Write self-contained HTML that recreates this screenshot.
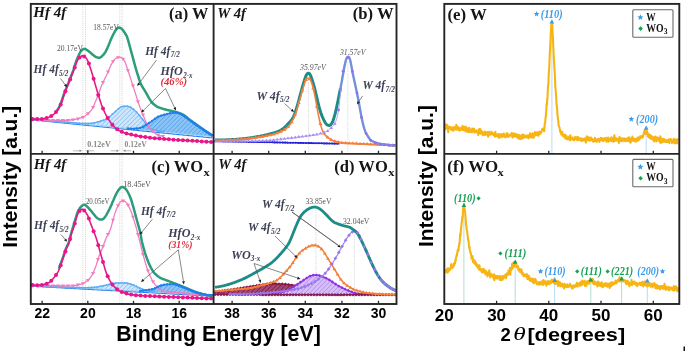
<!DOCTYPE html>
<html><head><meta charset="utf-8"><style>
html,body{margin:0;padding:0;background:#fff;}
body{width:685px;height:351px;overflow:hidden;}
svg{display:block;filter:blur(0.4px);}
</style></head><body>
<svg width="685" height="351" viewBox="0 0 685 351">
<rect width="685" height="351" fill="#fff"/>
<defs>
<pattern id="hb1" patternUnits="userSpaceOnUse" width="3.2" height="3.2" patternTransform="rotate(45)"><rect width="3.2" height="3.2" fill="#cfe6fb"/><line x1="0" y1="0" x2="0" y2="3.2" stroke="#6fb2f0" stroke-width="1"/></pattern>
<pattern id="hb2" patternUnits="userSpaceOnUse" width="3.2" height="3.2" patternTransform="rotate(45)"><rect width="3.2" height="3.2" fill="#8cc4f6"/><line x1="0" y1="0" x2="0" y2="3.2" stroke="#3b93ee" stroke-width="1"/></pattern>
<pattern id="hm" patternUnits="userSpaceOnUse" width="3.2" height="3.2" patternTransform="rotate(45)"><rect width="3.2" height="3.2" fill="#a24a70"/><line x1="0" y1="0" x2="0" y2="3.2" stroke="#7a1240" stroke-width="1.3"/></pattern>
<pattern id="hp" patternUnits="userSpaceOnUse" width="3.2" height="3.2" patternTransform="rotate(45)"><rect width="3.2" height="3.2" fill="#d6c0f5"/><line x1="0" y1="0" x2="0" y2="3.2" stroke="#a57ae8" stroke-width="1"/></pattern>
</defs>
<line x1="82.8" y1="5" x2="82.8" y2="303" stroke="#c9c9c9" stroke-width="0.7" stroke-dasharray="1.2,1"/>
<line x1="85.5" y1="5" x2="85.5" y2="303" stroke="#c9c9c9" stroke-width="0.7" stroke-dasharray="1.2,1"/>
<line x1="119.8" y1="5" x2="119.8" y2="303" stroke="#c9c9c9" stroke-width="0.7" stroke-dasharray="1.2,1"/>
<line x1="122.1" y1="5" x2="122.1" y2="303" stroke="#c9c9c9" stroke-width="0.7" stroke-dasharray="1.2,1"/>
<path d="M31.5,119.2 32.0,119.3 32.5,119.3 33.0,119.4 33.5,119.4 34.0,119.5 34.5,119.5 35.0,119.6 35.5,119.6 36.0,119.7 36.5,119.7 37.0,119.7 37.5,119.8 38.0,119.8 38.5,119.9 39.0,119.9 39.5,119.9 40.0,120.0 40.5,120.0 41.0,120.1 41.5,120.1 42.0,120.1 42.5,120.2 43.0,120.2 43.5,120.3 44.0,120.3 44.5,120.3 45.0,120.4 45.5,120.4 46.0,120.5 46.5,120.5 47.0,120.5 47.5,120.6 48.0,120.6 48.5,120.7 49.0,120.7 49.5,120.7 50.0,120.8 50.5,120.8 51.0,120.9 51.5,120.9 52.0,120.9 52.5,121.0 53.0,121.0 53.5,121.1 54.0,121.1 54.5,121.2 55.0,121.2 55.5,121.2 56.0,121.3 56.5,121.3 57.0,121.4 57.5,121.4 58.0,121.4 58.5,121.5 59.0,121.5 59.5,121.6 60.0,121.6 60.5,121.6 61.0,121.7 61.5,121.7 62.0,121.8 62.5,121.8 63.0,121.8 63.5,121.9 64.0,121.9 64.5,122.0 65.0,122.0 65.5,122.1 66.0,122.1 66.5,122.1 67.0,122.2 67.5,122.2 68.0,122.3 68.5,122.3 69.0,122.4 69.5,122.4 70.0,122.4 70.5,122.5 71.0,122.5 71.5,122.6 72.0,122.6 72.5,122.7 73.0,122.7 73.5,122.7 74.0,122.8 74.5,122.8 75.0,122.9 75.5,122.9 76.0,123.0 76.5,123.0 77.0,123.0 77.5,123.1 78.0,123.1 78.5,123.2 79.0,123.2 79.5,123.3 80.0,123.3 80.5,123.3 81.0,123.4 81.5,123.4 82.0,123.4 82.5,123.5 83.0,123.5 83.5,123.5 84.0,123.5 84.5,123.5 85.0,123.5 85.5,123.5 86.0,123.5 86.5,123.5 87.0,123.5 87.5,123.5 88.0,123.5 88.5,123.5 89.0,123.4 89.5,123.4 90.0,123.4 90.5,123.4 91.0,123.3 91.5,123.3 92.0,123.2 92.5,123.2 93.0,123.1 93.5,123.0 94.0,122.9 94.5,122.8 95.0,122.7 95.5,122.6 96.0,122.4 96.5,122.3 97.0,122.2 97.5,122.0 98.0,121.9 98.5,121.7 99.0,121.6 99.5,121.4 100.0,121.3 100.5,121.2 101.0,121.0 101.5,120.8 102.0,120.7 102.5,120.5 103.0,120.4 103.5,120.2 104.0,120.0 104.5,119.8 105.0,119.6 105.5,119.3 106.0,119.1 106.5,118.8 107.0,118.5 107.5,118.2 108.0,117.9 108.5,117.5 109.0,117.2 109.5,116.8 110.0,116.3 110.5,115.9 111.0,115.4 111.5,115.0 112.0,114.5 112.5,114.1 113.0,113.6 113.5,113.1 114.0,112.7 114.5,112.2 115.0,111.8 115.5,111.4 116.0,110.9 116.5,110.5 117.0,110.1 117.5,109.6 118.0,109.2 118.5,108.8 119.0,108.4 119.5,108.0 120.0,107.6 120.5,107.2 121.0,107.0 121.5,106.7 122.0,106.6 122.5,106.4 123.0,106.3 123.5,106.3 124.0,106.2 124.5,106.2 125.0,106.2 125.5,106.2 126.0,106.2 126.5,106.2 127.0,106.3 127.5,106.3 128.0,106.4 128.5,106.6 129.0,106.7 129.5,106.9 130.0,107.1 130.5,107.3 131.0,107.6 131.5,107.9 132.0,108.2 132.5,108.6 133.0,108.9 133.5,109.3 134.0,109.7 134.5,110.1 135.0,110.6 135.5,111.1 136.0,111.5 136.5,112.1 137.0,112.6 137.5,113.2 138.0,113.7 138.5,114.3 139.0,114.9 139.5,115.5 140.0,116.1 140.5,116.7 141.0,117.3 141.5,117.9 142.0,118.5 142.5,119.2 143.0,119.8 143.5,120.5 144.0,121.2 144.5,121.9 145.0,122.6 145.5,123.4 146.0,124.1 146.5,124.8 147.0,125.4 147.5,126.0 148.0,126.6 148.5,127.1 149.0,127.6 149.5,128.0 150.0,128.3 150.5,128.6 151.0,128.8 151.5,129.1 152.0,129.3 152.5,129.5 153.0,129.7 153.5,129.8 154.0,130.0 154.5,130.1 155.0,130.2 155.5,130.3 156.0,130.4 156.5,130.5 157.0,130.6 157.5,130.7 158.0,130.8 158.5,130.9 159.0,131.0 159.5,131.1 160.0,131.1 160.5,131.2 161.0,131.3 161.5,131.3 162.0,131.4 162.5,131.5 163.0,131.5 163.5,131.5 164.0,131.6 164.5,131.6 165.0,131.6 L165.00,132.01 L164.50,131.96 L164.00,131.92 L163.50,131.87 L163.00,131.82 L162.50,131.77 L162.00,131.72 L161.50,131.68 L161.00,131.63 L160.50,131.58 L160.00,131.53 L159.50,131.49 L159.00,131.44 L158.50,131.39 L158.00,131.34 L157.50,131.29 L157.00,131.25 L156.50,131.20 L156.00,131.15 L155.50,131.10 L155.00,131.05 L154.50,131.01 L154.00,130.96 L153.50,130.91 L153.00,130.86 L152.50,130.82 L152.00,130.77 L151.50,130.72 L151.00,130.67 L150.50,130.62 L150.00,130.58 L149.50,130.53 L149.00,130.48 L148.50,130.43 L148.00,130.39 L147.50,130.34 L147.00,130.29 L146.50,130.24 L146.00,130.19 L145.50,130.15 L145.00,130.10 L144.50,130.05 L144.00,130.00 L143.50,129.96 L143.00,129.91 L142.50,129.86 L142.00,129.81 L141.50,129.76 L141.00,129.72 L140.50,129.67 L140.00,129.62 L139.50,129.57 L139.00,129.53 L138.50,129.48 L138.00,129.43 L137.50,129.38 L137.00,129.33 L136.50,129.29 L136.00,129.24 L135.50,129.19 L135.00,129.14 L134.50,129.10 L134.00,129.05 L133.50,129.00 L133.00,128.95 L132.50,128.90 L132.00,128.86 L131.50,128.81 L131.00,128.76 L130.50,128.71 L130.00,128.66 L129.50,128.62 L129.00,128.57 L128.50,128.52 L128.00,128.47 L127.50,128.43 L127.00,128.38 L126.50,128.33 L126.00,128.28 L125.50,128.23 L125.00,128.19 L124.50,128.14 L124.00,128.09 L123.50,128.04 L123.00,128.00 L122.50,127.95 L122.00,127.90 L121.50,127.85 L121.00,127.80 L120.50,127.76 L120.00,127.71 L119.50,127.66 L119.00,127.61 L118.50,127.57 L118.00,127.52 L117.50,127.47 L117.00,127.42 L116.50,127.37 L116.00,127.33 L115.50,127.28 L115.00,127.23 L114.50,127.18 L114.00,127.14 L113.50,127.09 L113.00,127.04 L112.50,126.99 L112.00,126.94 L111.50,126.90 L111.00,126.85 L110.50,126.80 L110.00,126.75 L109.50,126.70 L109.00,126.66 L108.50,126.61 L108.00,126.56 L107.50,126.51 L107.00,126.47 L106.50,126.42 L106.00,126.37 L105.50,126.32 L105.00,126.27 L104.50,126.23 L104.00,126.18 L103.50,126.13 L103.00,126.08 L102.50,126.04 L102.00,125.99 L101.50,125.94 L101.00,125.89 L100.50,125.84 L100.00,125.80 L99.50,125.75 L99.00,125.70 L98.50,125.65 L98.00,125.61 L97.50,125.56 L97.00,125.51 L96.50,125.46 L96.00,125.41 L95.50,125.37 L95.00,125.32 L94.50,125.27 L94.00,125.22 L93.50,125.18 L93.00,125.13 L92.50,125.08 L92.00,125.03 L91.50,124.98 L91.00,124.94 L90.50,124.89 L90.00,124.84 L89.50,124.79 L89.00,124.75 L88.50,124.70 L88.00,124.65 L87.50,124.60 L87.00,124.55 L86.50,124.51 L86.00,124.46 L85.50,124.41 L85.00,124.36 L84.50,124.31 L84.00,124.27 L83.50,124.22 L83.00,124.17 L82.50,124.12 L82.00,124.08 L81.50,124.03 L81.00,123.98 L80.50,123.93 L80.00,123.88 L79.50,123.84 L79.00,123.79 L78.50,123.74 L78.00,123.69 L77.50,123.65 L77.00,123.60 L76.50,123.55 L76.00,123.50 L75.50,123.45 L75.00,123.41 L74.50,123.36 L74.00,123.31 L73.50,123.26 L73.00,123.22 L72.50,123.17 L72.00,123.12 L71.50,123.07 L71.00,123.02 L70.50,122.98 L70.00,122.93 L69.50,122.88 L69.00,122.83 L68.50,122.79 L68.00,122.74 L67.50,122.69 L67.00,122.64 L66.50,122.59 L66.00,122.55 L65.50,122.50 L65.00,122.45 L64.50,122.40 L64.00,122.35 L63.50,122.31 L63.00,122.26 L62.50,122.21 L62.00,122.16 L61.50,122.12 L61.00,122.07 L60.50,122.02 L60.00,121.97 L59.50,121.92 L59.00,121.88 L58.50,121.83 L58.00,121.78 L57.50,121.73 L57.00,121.69 L56.50,121.64 L56.00,121.59 L55.50,121.54 L55.00,121.49 L54.50,121.45 L54.00,121.40 L53.50,121.35 L53.00,121.30 L52.50,121.26 L52.00,121.21 L51.50,121.16 L51.00,121.11 L50.50,121.06 L50.00,121.02 L49.50,120.97 L49.00,120.92 L48.50,120.87 L48.00,120.83 L47.50,120.78 L47.00,120.73 L46.50,120.68 L46.00,120.63 L45.50,120.59 L45.00,120.54 L44.50,120.49 L44.00,120.44 L43.50,120.40 L43.00,120.35 L42.50,120.30 L42.00,120.25 L41.50,120.20 L41.00,120.16 L40.50,120.11 L40.00,120.06 L39.50,120.01 L39.00,119.96 L38.50,119.92 L38.00,119.87 L37.50,119.82 L37.00,119.77 L36.50,119.73 L36.00,119.68 L35.50,119.63 L35.00,119.58 L34.50,119.53 L34.00,119.49 L33.50,119.44 L33.00,119.39 L32.50,119.34 L32.00,119.30 L31.50,119.25Z" fill="url(#hb1)"/>
<path d="M128.0,128.4 128.5,128.5 129.0,128.5 129.5,128.6 130.0,128.6 130.5,128.6 131.0,128.7 131.5,128.7 132.0,128.7 132.5,128.7 133.0,128.7 133.5,128.7 134.0,128.7 134.5,128.7 135.0,128.7 135.5,128.6 136.0,128.6 136.5,128.6 137.0,128.5 137.5,128.5 138.0,128.4 138.5,128.3 139.0,128.2 139.5,128.1 140.0,127.9 140.5,127.8 141.0,127.6 141.5,127.4 142.0,127.2 142.5,126.9 143.0,126.7 143.5,126.4 144.0,126.1 144.5,125.8 145.0,125.5 145.5,125.2 146.0,124.9 146.5,124.6 147.0,124.3 147.5,124.0 148.0,123.6 148.5,123.3 149.0,123.0 149.5,122.7 150.0,122.3 150.5,122.0 151.0,121.7 151.5,121.3 152.0,121.0 152.5,120.6 153.0,120.2 153.5,119.9 154.0,119.5 154.5,119.1 155.0,118.7 155.5,118.4 156.0,118.0 156.5,117.7 157.0,117.4 157.5,117.1 158.0,116.8 158.5,116.6 159.0,116.4 159.5,116.2 160.0,116.0 160.5,115.8 161.0,115.6 161.5,115.5 162.0,115.4 162.5,115.2 163.0,115.1 163.5,115.0 164.0,114.8 164.5,114.7 165.0,114.5 165.5,114.4 166.0,114.3 166.5,114.1 167.0,114.0 167.5,113.9 168.0,113.8 168.5,113.6 169.0,113.5 169.5,113.4 170.0,113.3 170.5,113.2 171.0,113.1 171.5,113.0 172.0,112.9 172.5,112.8 173.0,112.8 173.5,112.7 174.0,112.6 174.5,112.6 175.0,112.6 175.5,112.5 176.0,112.5 176.5,112.6 177.0,112.6 177.5,112.7 178.0,112.8 178.5,113.0 179.0,113.1 179.5,113.3 180.0,113.6 180.5,113.9 181.0,114.2 181.5,114.5 182.0,114.8 182.5,115.1 183.0,115.4 183.5,115.7 184.0,116.0 184.5,116.4 185.0,116.7 185.5,117.1 186.0,117.4 186.5,117.8 187.0,118.1 187.5,118.5 188.0,118.9 188.5,119.2 189.0,119.6 189.5,120.0 190.0,120.3 190.5,120.7 191.0,121.1 191.5,121.4 192.0,121.8 192.5,122.2 193.0,122.6 193.5,122.9 194.0,123.3 194.5,123.7 195.0,124.0 195.5,124.4 196.0,124.7 196.5,125.1 197.0,125.4 197.5,125.8 198.0,126.1 198.5,126.5 199.0,126.8 199.5,127.1 200.0,127.5 200.5,127.8 201.0,128.2 201.5,128.5 202.0,128.8 202.5,129.2 203.0,129.5 203.5,129.8 204.0,130.2 204.5,130.5 205.0,130.8 205.5,131.1 206.0,131.5 206.5,131.8 207.0,132.1 207.5,132.4 208.0,132.7 208.5,133.1 209.0,133.4 209.5,133.7 210.0,134.0 210.5,134.3 211.0,134.6 211.5,134.9 212.0,135.2 212.5,135.5 L212.50,136.55 L212.00,136.50 L211.50,136.46 L211.00,136.41 L210.50,136.36 L210.00,136.31 L209.50,136.27 L209.00,136.22 L208.50,136.17 L208.00,136.12 L207.50,136.07 L207.00,136.03 L206.50,135.98 L206.00,135.93 L205.50,135.88 L205.00,135.84 L204.50,135.79 L204.00,135.74 L203.50,135.69 L203.00,135.64 L202.50,135.60 L202.00,135.55 L201.50,135.50 L201.00,135.45 L200.50,135.40 L200.00,135.36 L199.50,135.31 L199.00,135.26 L198.50,135.21 L198.00,135.17 L197.50,135.12 L197.00,135.07 L196.50,135.02 L196.00,134.97 L195.50,134.93 L195.00,134.88 L194.50,134.83 L194.00,134.78 L193.50,134.74 L193.00,134.69 L192.50,134.64 L192.00,134.59 L191.50,134.54 L191.00,134.50 L190.50,134.45 L190.00,134.40 L189.50,134.35 L189.00,134.31 L188.50,134.26 L188.00,134.21 L187.50,134.16 L187.00,134.11 L186.50,134.07 L186.00,134.02 L185.50,133.97 L185.00,133.92 L184.50,133.88 L184.00,133.83 L183.50,133.78 L183.00,133.73 L182.50,133.68 L182.00,133.64 L181.50,133.59 L181.00,133.54 L180.50,133.49 L180.00,133.45 L179.50,133.40 L179.00,133.35 L178.50,133.30 L178.00,133.25 L177.50,133.21 L177.00,133.16 L176.50,133.11 L176.00,133.06 L175.50,133.01 L175.00,132.97 L174.50,132.92 L174.00,132.87 L173.50,132.82 L173.00,132.78 L172.50,132.73 L172.00,132.68 L171.50,132.63 L171.00,132.58 L170.50,132.54 L170.00,132.49 L169.50,132.44 L169.00,132.39 L168.50,132.35 L168.00,132.30 L167.50,132.25 L167.00,132.20 L166.50,132.15 L166.00,132.11 L165.50,132.06 L165.00,132.01 L164.50,131.96 L164.00,131.92 L163.50,131.87 L163.00,131.82 L162.50,131.77 L162.00,131.72 L161.50,131.68 L161.00,131.63 L160.50,131.58 L160.00,131.53 L159.50,131.49 L159.00,131.44 L158.50,131.39 L158.00,131.34 L157.50,131.29 L157.00,131.25 L156.50,131.20 L156.00,131.15 L155.50,131.10 L155.00,131.05 L154.50,131.01 L154.00,130.96 L153.50,130.91 L153.00,130.86 L152.50,130.82 L152.00,130.77 L151.50,130.72 L151.00,130.67 L150.50,130.62 L150.00,130.58 L149.50,130.53 L149.00,130.48 L148.50,130.43 L148.00,130.39 L147.50,130.34 L147.00,130.29 L146.50,130.24 L146.00,130.19 L145.50,130.15 L145.00,130.10 L144.50,130.05 L144.00,130.00 L143.50,129.96 L143.00,129.91 L142.50,129.86 L142.00,129.81 L141.50,129.76 L141.00,129.72 L140.50,129.67 L140.00,129.62 L139.50,129.57 L139.00,129.53 L138.50,129.48 L138.00,129.43 L137.50,129.38 L137.00,129.33 L136.50,129.29 L136.00,129.24 L135.50,129.19 L135.00,129.14 L134.50,129.10 L134.00,129.05 L133.50,129.00 L133.00,128.95 L132.50,128.90 L132.00,128.86 L131.50,128.81 L131.00,128.76 L130.50,128.71 L130.00,128.66 L129.50,128.62 L129.00,128.57 L128.50,128.52 L128.00,128.47Z" fill="url(#hb2)"/>
<path d="M31.5,119.8 32.0,119.9 32.5,120.0 33.0,120.0 33.5,120.0 34.0,120.1 34.5,120.1 35.0,120.2 35.5,120.2 36.0,120.3 36.5,120.3 37.0,120.4 37.5,120.5 38.0,120.5 38.5,120.5 39.0,120.6 39.5,120.6 40.0,120.7 40.5,120.8 41.0,120.8 41.5,120.8 42.0,120.9 42.5,121.0 43.0,121.0 43.5,121.0 44.0,121.1 44.5,121.1 45.0,121.2 45.5,121.2 46.0,121.3 46.5,121.3 47.0,121.4 47.5,121.5 48.0,121.5 48.5,121.5 49.0,121.6 49.5,121.6 50.0,121.7 50.5,121.8 51.0,121.8 51.5,121.8 52.0,121.9 52.5,122.0 53.0,122.0 53.5,122.0 54.0,122.1 54.5,122.1 55.0,122.2 55.5,122.2 56.0,122.3 56.5,122.3 57.0,122.4 57.5,122.5 58.0,122.5 58.5,122.5 59.0,122.6 59.5,122.6 60.0,122.7 60.5,122.8 61.0,122.8 61.5,122.8 62.0,122.9 62.5,123.0 63.0,123.0 63.5,123.0 64.0,123.1 64.5,123.1 65.0,123.2 65.5,123.2 66.0,123.3 66.5,123.3 67.0,123.4 67.5,123.5 68.0,123.5 68.5,123.5 69.0,123.6 69.5,123.6 70.0,123.7 70.5,123.8 71.0,123.8 71.5,123.8 72.0,123.9 72.5,124.0 73.0,124.0 73.5,124.0 74.0,124.1 74.5,124.1 75.0,124.2 75.5,124.2 76.0,124.3 76.5,124.3 77.0,124.4 77.5,124.5 78.0,124.5 78.5,124.5 79.0,124.6 79.5,124.6 80.0,124.7 80.5,124.8 81.0,124.8 81.5,124.8 82.0,124.9 82.5,125.0 83.0,125.0 83.5,125.0 84.0,125.1 84.5,125.1 85.0,125.2 85.5,125.2 86.0,125.3 86.5,125.3 87.0,125.4 87.5,125.5 88.0,125.5 88.5,125.5 89.0,125.6 89.5,125.7 90.0,125.7 90.5,125.8 91.0,125.8 91.5,125.8 92.0,125.9 92.5,126.0 93.0,126.0 93.5,126.0 94.0,126.1 94.5,126.2 95.0,126.2 95.5,126.2 96.0,126.3 96.5,126.3 97.0,126.4 97.5,126.5 98.0,126.5 98.5,126.5 99.0,126.6 99.5,126.7 100.0,126.7 100.5,126.8 101.0,126.8 101.5,126.8 102.0,126.9 102.5,127.0 103.0,127.0 103.5,127.0 104.0,127.1 104.5,127.2 105.0,127.2 105.5,127.2 106.0,127.3 106.5,127.3 107.0,127.4 107.5,127.5 108.0,127.5 108.5,127.5 109.0,127.6 109.5,127.7 110.0,127.7 110.5,127.8 111.0,127.8 111.5,127.8 112.0,127.9 112.5,128.0 113.0,128.0 113.5,128.1 114.0,128.1 114.5,128.2 115.0,128.2 115.5,128.2 116.0,128.3 116.5,128.3 117.0,128.4 117.5,128.4 118.0,128.5 118.5,128.6 119.0,128.6 119.5,128.7 120.0,128.7 120.5,128.8 121.0,128.8 121.5,128.8 122.0,128.9 122.5,128.9 123.0,129.0 123.5,129.1 124.0,129.1 124.5,129.2 125.0,129.2 125.5,129.2 126.0,129.3 126.5,129.3 127.0,129.4 127.5,129.4 128.0,129.5 128.5,129.6 129.0,129.6 129.5,129.7 130.0,129.7 130.5,129.8 131.0,129.8 131.5,129.8 132.0,129.9 132.5,129.9 133.0,130.0 133.5,130.1 134.0,130.1 134.5,130.2 135.0,130.2 135.5,130.2 136.0,130.3 136.5,130.3 137.0,130.4 137.5,130.4 138.0,130.5 138.5,130.6 139.0,130.6 139.5,130.7 140.0,130.7 140.5,130.8 141.0,130.8 141.5,130.8 142.0,130.9 142.5,130.9 143.0,131.0 143.5,131.1 144.0,131.1 144.5,131.2 145.0,131.2 145.5,131.2 146.0,131.3 146.5,131.3 147.0,131.4 147.5,131.4 148.0,131.5 148.5,131.6 149.0,131.6 149.5,131.7 150.0,131.7 150.5,131.8 151.0,131.8 151.5,131.8 152.0,131.9 152.5,131.9 153.0,132.0 153.5,132.1 154.0,132.1 154.5,132.2 155.0,132.2 155.5,132.2 156.0,132.3 156.5,132.3 157.0,132.4 157.5,132.4 158.0,132.5 158.5,132.6 159.0,132.6 159.5,132.7 160.0,132.7 160.5,132.8 161.0,132.8 161.5,132.8 162.0,132.9 162.5,132.9 163.0,133.0 163.5,133.1 164.0,133.1 164.5,133.2 165.0,133.2 165.5,133.2 166.0,133.3 166.5,133.3 167.0,133.4 167.5,133.4 168.0,133.5 168.5,133.6 169.0,133.6 169.5,133.7 170.0,133.7 170.5,133.8 171.0,133.8 171.5,133.8 172.0,133.9 172.5,133.9 173.0,134.0 173.5,134.1 174.0,134.1 174.5,134.2 175.0,134.2 175.5,134.2 176.0,134.3 176.5,134.3 177.0,134.4 177.5,134.4 178.0,134.5 178.5,134.6 179.0,134.6 179.5,134.7 180.0,134.7 180.5,134.8 181.0,134.8 181.5,134.8 182.0,134.9 182.5,134.9 183.0,135.0 183.5,135.1 184.0,135.1 184.5,135.2 185.0,135.2 185.5,135.2 186.0,135.3 186.5,135.3 187.0,135.4 187.5,135.4 188.0,135.5 188.5,135.6 189.0,135.6 189.5,135.7 190.0,135.7 190.5,135.8 191.0,135.8 191.5,135.8 192.0,135.9 192.5,135.9 193.0,136.0 193.5,136.1 194.0,136.1 194.5,136.2 195.0,136.2 195.5,136.2 196.0,136.3 196.5,136.3 197.0,136.4 197.5,136.4 198.0,136.5 198.5,136.6 199.0,136.6 199.5,136.7 200.0,136.7 200.5,136.8 201.0,136.8 201.5,136.8 202.0,136.9 202.5,136.9 203.0,137.0 203.5,137.1 204.0,137.1 204.5,137.2 205.0,137.2 205.5,137.2 206.0,137.3 206.5,137.3 207.0,137.4 207.5,137.4 208.0,137.5 208.5,137.6 209.0,137.6 209.5,137.7 210.0,137.7 210.5,137.8 211.0,137.8 211.5,137.8 212.0,137.9 212.5,137.9" fill="none" stroke="#1f7fec" stroke-width="1.1" stroke-linejoin="round" />
<path d="M31.5,119.2 32.0,119.3 32.5,119.3 33.0,119.4 33.5,119.4 34.0,119.5 34.5,119.5 35.0,119.6 35.5,119.6 36.0,119.7 36.5,119.7 37.0,119.8 37.5,119.8 38.0,119.9 38.5,119.9 39.0,120.0 39.5,120.0 40.0,120.1 40.5,120.1 41.0,120.2 41.5,120.2 42.0,120.3 42.5,120.3 43.0,120.3 43.5,120.4 44.0,120.4 44.5,120.5 45.0,120.5 45.5,120.6 46.0,120.6 46.5,120.7 47.0,120.7 47.5,120.8 48.0,120.8 48.5,120.9 49.0,120.9 49.5,121.0 50.0,121.0 50.5,121.1 51.0,121.1 51.5,121.2 52.0,121.2 52.5,121.3 53.0,121.3 53.5,121.4 54.0,121.4 54.5,121.4 55.0,121.5 55.5,121.5 56.0,121.6 56.5,121.6 57.0,121.7 57.5,121.7 58.0,121.8 58.5,121.8 59.0,121.9 59.5,121.9 60.0,122.0 60.5,122.0 61.0,122.1 61.5,122.1 62.0,122.2 62.5,122.2 63.0,122.3 63.5,122.3 64.0,122.4 64.5,122.4 65.0,122.5 65.5,122.5 66.0,122.5 66.5,122.6 67.0,122.6 67.5,122.7 68.0,122.7 68.5,122.8 69.0,122.8 69.5,122.9 70.0,122.9 70.5,123.0 71.0,123.0 71.5,123.1 72.0,123.1 72.5,123.2 73.0,123.2 73.5,123.3 74.0,123.3 74.5,123.4 75.0,123.4 75.5,123.5 76.0,123.5 76.5,123.5 77.0,123.6 77.5,123.6 78.0,123.7 78.5,123.7 79.0,123.8 79.5,123.8 80.0,123.9 80.5,123.9 81.0,124.0 81.5,124.0 82.0,124.1 82.5,124.1 83.0,124.2 83.5,124.2 84.0,124.3 84.5,124.3 85.0,124.4 85.5,124.4 86.0,124.5 86.5,124.5 87.0,124.6 87.5,124.6 88.0,124.6 88.5,124.7 89.0,124.7 89.5,124.8 90.0,124.8 90.5,124.9 91.0,124.9 91.5,125.0 92.0,125.0 92.5,125.1 93.0,125.1 93.5,125.2 94.0,125.2 94.5,125.3 95.0,125.3 95.5,125.4 96.0,125.4 96.5,125.5 97.0,125.5 97.5,125.6 98.0,125.6 98.5,125.7 99.0,125.7 99.5,125.7 100.0,125.8 100.5,125.8 101.0,125.9 101.5,125.9 102.0,126.0 102.5,126.0 103.0,126.1 103.5,126.1 104.0,126.2 104.5,126.2 105.0,126.3 105.5,126.3 106.0,126.4 106.5,126.4 107.0,126.5 107.5,126.5 108.0,126.6 108.5,126.6 109.0,126.7 109.5,126.7 110.0,126.8 110.5,126.8 111.0,126.8 111.5,126.9 112.0,126.9 112.5,127.0 113.0,127.0 113.5,127.1 114.0,127.1 114.5,127.2 115.0,127.2 115.5,127.3 116.0,127.3 116.5,127.4 117.0,127.4 117.5,127.5 118.0,127.5 118.5,127.6 119.0,127.6 119.5,127.7 120.0,127.7 120.5,127.8 121.0,127.8 121.5,127.9 122.0,127.9 122.5,127.9 123.0,128.0 123.5,128.0 124.0,128.1 124.5,128.1 125.0,128.2 125.5,128.2 126.0,128.3 126.5,128.3 127.0,128.4 127.5,128.4 128.0,128.5 128.5,128.5 129.0,128.6 129.5,128.6 130.0,128.7 130.5,128.7 131.0,128.8 131.5,128.8 132.0,128.9 132.5,128.9 133.0,129.0 133.5,129.0 134.0,129.0 134.5,129.1 135.0,129.1 135.5,129.2 136.0,129.2 136.5,129.3 137.0,129.3 137.5,129.4 138.0,129.4 138.5,129.5 139.0,129.5 139.5,129.6 140.0,129.6 140.5,129.7 141.0,129.7 141.5,129.8 142.0,129.8 142.5,129.9 143.0,129.9 143.5,130.0 144.0,130.0 144.5,130.1 145.0,130.1 145.5,130.1 146.0,130.2 146.5,130.2 147.0,130.3 147.5,130.3 148.0,130.4 148.5,130.4 149.0,130.5 149.5,130.5 150.0,130.6 150.5,130.6 151.0,130.7 151.5,130.7 152.0,130.8 152.5,130.8 153.0,130.9 153.5,130.9 154.0,131.0 154.5,131.0 155.0,131.1 155.5,131.1 156.0,131.2 156.5,131.2 157.0,131.2 157.5,131.3 158.0,131.3 158.5,131.4 159.0,131.4 159.5,131.5 160.0,131.5 160.5,131.6 161.0,131.6 161.5,131.7 162.0,131.7 162.5,131.8 163.0,131.8 163.5,131.9 164.0,131.9 164.5,132.0 165.0,132.0 165.5,132.1 166.0,132.1 166.5,132.2 167.0,132.2 167.5,132.2 168.0,132.3 168.5,132.3 169.0,132.4 169.5,132.4 170.0,132.5 170.5,132.5 171.0,132.6 171.5,132.6 172.0,132.7 172.5,132.7 173.0,132.8 173.5,132.8 174.0,132.9 174.5,132.9 175.0,133.0 175.5,133.0 176.0,133.1 176.5,133.1 177.0,133.2 177.5,133.2 178.0,133.3 178.5,133.3 179.0,133.3 179.5,133.4 180.0,133.4 180.5,133.5 181.0,133.5 181.5,133.6 182.0,133.6 182.5,133.7 183.0,133.7 183.5,133.8 184.0,133.8 184.5,133.9 185.0,133.9 185.5,134.0 186.0,134.0 186.5,134.1 187.0,134.1 187.5,134.2 188.0,134.2 188.5,134.3 189.0,134.3 189.5,134.4 190.0,134.4 190.5,134.4 191.0,134.5 191.5,134.5 192.0,134.6 192.5,134.6 193.0,134.7 193.5,134.7 194.0,134.8 194.5,134.8 195.0,134.9 195.5,134.9 196.0,135.0 196.5,135.0 197.0,135.1 197.5,135.1 198.0,135.2 198.5,135.2 199.0,135.3 199.5,135.3 200.0,135.4 200.5,135.4 201.0,135.5 201.5,135.5 202.0,135.5 202.5,135.6 203.0,135.6 203.5,135.7 204.0,135.7 204.5,135.8 205.0,135.8 205.5,135.9 206.0,135.9 206.5,136.0 207.0,136.0 207.5,136.1 208.0,136.1 208.5,136.2 209.0,136.2 209.5,136.3 210.0,136.3 210.5,136.4 211.0,136.4 211.5,136.5 212.0,136.5 212.5,136.6" fill="none" stroke="#8cc8f8" stroke-width="1.0" stroke-linejoin="round" />
<path d="M31.5,119.2 32.0,119.3 32.5,119.3 33.0,119.4 33.5,119.4 34.0,119.5 34.5,119.5 35.0,119.6 35.5,119.6 36.0,119.7 36.5,119.7 37.0,119.7 37.5,119.8 38.0,119.8 38.5,119.9 39.0,119.9 39.5,119.9 40.0,120.0 40.5,120.0 41.0,120.1 41.5,120.1 42.0,120.1 42.5,120.2 43.0,120.2 43.5,120.3 44.0,120.3 44.5,120.3 45.0,120.4 45.5,120.4 46.0,120.5 46.5,120.5 47.0,120.5 47.5,120.6 48.0,120.6 48.5,120.7 49.0,120.7 49.5,120.7 50.0,120.8 50.5,120.8 51.0,120.9 51.5,120.9 52.0,120.9 52.5,121.0 53.0,121.0 53.5,121.1 54.0,121.1 54.5,121.2 55.0,121.2 55.5,121.2 56.0,121.3 56.5,121.3 57.0,121.4 57.5,121.4 58.0,121.4 58.5,121.5 59.0,121.5 59.5,121.6 60.0,121.6 60.5,121.6 61.0,121.7 61.5,121.7 62.0,121.8 62.5,121.8 63.0,121.8 63.5,121.9 64.0,121.9 64.5,122.0 65.0,122.0 65.5,122.1 66.0,122.1 66.5,122.1 67.0,122.2 67.5,122.2 68.0,122.3 68.5,122.3 69.0,122.4 69.5,122.4 70.0,122.4 70.5,122.5 71.0,122.5 71.5,122.6 72.0,122.6 72.5,122.7 73.0,122.7 73.5,122.7 74.0,122.8 74.5,122.8 75.0,122.9 75.5,122.9 76.0,123.0 76.5,123.0 77.0,123.0 77.5,123.1 78.0,123.1 78.5,123.2 79.0,123.2 79.5,123.3 80.0,123.3 80.5,123.3 81.0,123.4 81.5,123.4 82.0,123.4 82.5,123.5 83.0,123.5 83.5,123.5 84.0,123.5 84.5,123.5 85.0,123.5 85.5,123.5 86.0,123.5 86.5,123.5 87.0,123.5 87.5,123.5 88.0,123.5 88.5,123.5 89.0,123.4 89.5,123.4 90.0,123.4 90.5,123.4 91.0,123.3 91.5,123.3 92.0,123.2 92.5,123.2 93.0,123.1 93.5,123.0 94.0,122.9 94.5,122.8 95.0,122.7 95.5,122.6 96.0,122.4 96.5,122.3 97.0,122.2 97.5,122.0 98.0,121.9 98.5,121.7 99.0,121.6 99.5,121.4 100.0,121.3 100.5,121.2 101.0,121.0 101.5,120.8 102.0,120.7 102.5,120.5 103.0,120.4 103.5,120.2 104.0,120.0 104.5,119.8 105.0,119.6 105.5,119.3 106.0,119.1 106.5,118.8 107.0,118.5 107.5,118.2 108.0,117.9 108.5,117.5 109.0,117.2 109.5,116.8 110.0,116.3 110.5,115.9 111.0,115.4 111.5,115.0 112.0,114.5 112.5,114.1 113.0,113.6 113.5,113.1 114.0,112.7 114.5,112.2 115.0,111.8 115.5,111.4 116.0,110.9 116.5,110.5 117.0,110.1 117.5,109.6 118.0,109.2 118.5,108.8 119.0,108.4 119.5,108.0 120.0,107.6 120.5,107.2 121.0,107.0 121.5,106.7 122.0,106.6 122.5,106.4 123.0,106.3 123.5,106.3 124.0,106.2 124.5,106.2 125.0,106.2 125.5,106.2 126.0,106.2 126.5,106.2 127.0,106.3 127.5,106.3 128.0,106.4 128.5,106.6 129.0,106.7 129.5,106.9 130.0,107.1 130.5,107.3 131.0,107.6 131.5,107.9 132.0,108.2 132.5,108.6 133.0,108.9 133.5,109.3 134.0,109.7 134.5,110.1 135.0,110.6 135.5,111.1 136.0,111.5 136.5,112.1 137.0,112.6 137.5,113.2 138.0,113.7 138.5,114.3 139.0,114.9 139.5,115.5 140.0,116.1 140.5,116.7 141.0,117.3 141.5,117.9 142.0,118.5 142.5,119.2 143.0,119.8 143.5,120.5 144.0,121.2 144.5,121.9 145.0,122.6 145.5,123.4 146.0,124.1 146.5,124.8 147.0,125.4 147.5,126.0 148.0,126.6 148.5,127.1 149.0,127.6 149.5,128.0 150.0,128.3 150.5,128.6 151.0,128.8 151.5,129.1 152.0,129.3 152.5,129.5 153.0,129.7 153.5,129.8 154.0,130.0 154.5,130.1 155.0,130.2 155.5,130.3 156.0,130.4 156.5,130.5 157.0,130.6 157.5,130.7 158.0,130.8 158.5,130.9 159.0,131.0 159.5,131.1 160.0,131.1 160.5,131.2 161.0,131.3 161.5,131.3 162.0,131.4 162.5,131.5 163.0,131.5 163.5,131.5 164.0,131.6 164.5,131.6 165.0,131.6" fill="none" stroke="#5aaef4" stroke-width="1.3" stroke-linejoin="round" />
<g fill="#5aaef4"><circle cx="31.5" cy="119.2" r="1.0"/><circle cx="34.5" cy="119.5" r="1.0"/><circle cx="37.5" cy="119.8" r="1.0"/><circle cx="40.5" cy="120.0" r="1.0"/><circle cx="43.5" cy="120.3" r="1.0"/><circle cx="46.5" cy="120.5" r="1.0"/><circle cx="49.5" cy="120.7" r="1.0"/><circle cx="52.5" cy="121.0" r="1.0"/><circle cx="55.5" cy="121.2" r="1.0"/><circle cx="58.5" cy="121.5" r="1.0"/><circle cx="61.5" cy="121.7" r="1.0"/><circle cx="64.5" cy="122.0" r="1.0"/><circle cx="67.5" cy="122.2" r="1.0"/><circle cx="70.5" cy="122.5" r="1.0"/><circle cx="73.5" cy="122.7" r="1.0"/><circle cx="76.5" cy="123.0" r="1.0"/><circle cx="79.5" cy="123.3" r="1.0"/><circle cx="82.5" cy="123.5" r="1.0"/><circle cx="85.5" cy="123.5" r="1.0"/><circle cx="88.5" cy="123.5" r="1.0"/><circle cx="91.5" cy="123.3" r="1.0"/><circle cx="94.5" cy="122.8" r="1.0"/><circle cx="97.5" cy="122.0" r="1.0"/><circle cx="100.5" cy="121.2" r="1.0"/><circle cx="103.5" cy="120.2" r="1.0"/><circle cx="106.5" cy="118.8" r="1.0"/><circle cx="109.5" cy="116.8" r="1.0"/><circle cx="112.5" cy="114.1" r="1.0"/><circle cx="115.5" cy="111.4" r="1.0"/><circle cx="118.5" cy="108.8" r="1.0"/><circle cx="121.5" cy="106.7" r="1.0"/><circle cx="124.5" cy="106.2" r="1.0"/><circle cx="127.5" cy="106.3" r="1.0"/><circle cx="130.5" cy="107.3" r="1.0"/><circle cx="133.5" cy="109.3" r="1.0"/><circle cx="136.5" cy="112.1" r="1.0"/><circle cx="139.5" cy="115.5" r="1.0"/><circle cx="142.5" cy="119.2" r="1.0"/><circle cx="145.5" cy="123.4" r="1.0"/><circle cx="148.5" cy="127.1" r="1.0"/><circle cx="151.5" cy="129.1" r="1.0"/><circle cx="154.5" cy="130.1" r="1.0"/><circle cx="157.5" cy="130.7" r="1.0"/><circle cx="160.5" cy="131.2" r="1.0"/><circle cx="163.5" cy="131.5" r="1.0"/></g>
<path d="M31.5,119.6 32.0,119.6 32.5,119.6 33.0,119.7 33.5,119.7 34.0,119.7 34.5,119.7 35.0,119.7 35.5,119.8 36.0,119.8 36.5,119.8 37.0,119.8 37.5,119.8 38.0,119.8 38.5,119.9 39.0,119.9 39.5,119.9 40.0,119.9 40.5,119.9 41.0,119.9 41.5,120.0 42.0,120.0 42.5,120.0 43.0,120.0 43.5,120.0 44.0,120.0 44.5,120.0 45.0,120.1 45.5,120.1 46.0,120.1 46.5,120.1 47.0,120.1 47.5,120.1 48.0,120.1 48.5,120.2 49.0,120.2 49.5,120.2 50.0,120.2 50.5,120.2 51.0,120.2 51.5,120.2 52.0,120.3 52.5,120.3 53.0,120.3 53.5,120.3 54.0,120.3 54.5,120.3 55.0,120.3 55.5,120.3 56.0,120.3 56.5,120.3 57.0,120.3 57.5,120.4 58.0,120.4 58.5,120.4 59.0,120.4 59.5,120.4 60.0,120.4 60.5,120.4 61.0,120.4 61.5,120.4 62.0,120.4 62.5,120.4 63.0,120.4 63.5,120.4 64.0,120.4 64.5,120.4 65.0,120.4 65.5,120.4 66.0,120.4 66.5,120.4 67.0,120.3 67.5,120.3 68.0,120.3 68.5,120.2 69.0,120.2 69.5,120.1 70.0,120.1 70.5,120.0 71.0,120.0 71.5,119.9 72.0,119.8 72.5,119.8 73.0,119.7 73.5,119.6 74.0,119.5 74.5,119.5 75.0,119.4 75.5,119.3 76.0,119.2 76.5,119.1 77.0,119.0 77.5,118.9 78.0,118.8 78.5,118.7 79.0,118.5 79.5,118.4 80.0,118.2 80.5,118.1 81.0,117.9 81.5,117.7 82.0,117.5 82.5,117.3 83.0,117.1 83.5,116.9 84.0,116.6 84.5,116.3 85.0,116.0 85.5,115.6 86.0,115.2 86.5,114.8 87.0,114.4 87.5,114.0 88.0,113.6 88.5,113.2 89.0,112.7 89.5,112.3 90.0,111.8 90.5,111.2 91.0,110.6 91.5,109.8 92.0,109.0 92.5,108.1 93.0,107.1 93.5,106.1 94.0,105.0 94.5,103.8 95.0,102.6 95.5,101.4 96.0,100.2 96.5,98.9 97.0,97.7 97.5,96.4 98.0,95.2 98.5,93.9 99.0,92.6 99.5,91.2 100.0,89.8 100.5,88.5 101.0,87.1 101.5,85.8 102.0,84.6 102.5,83.4 103.0,82.3 103.5,81.3 104.0,80.3 104.5,79.3 105.0,78.3 105.5,77.3 106.0,76.3 106.5,75.3 107.0,74.2 107.5,73.1 108.0,71.9 108.5,70.7 109.0,69.6 109.5,68.4 110.0,67.3 110.5,66.2 111.0,65.1 111.5,64.1 112.0,63.2 112.5,62.3 113.0,61.4 113.5,60.7 114.0,60.1 114.5,59.5 115.0,59.1 115.5,58.7 116.0,58.3 116.5,58.0 117.0,57.7 117.5,57.6 118.0,57.4 118.5,57.3 119.0,57.3 119.5,57.3 120.0,57.3 120.5,57.4 121.0,57.5 121.5,57.8 122.0,58.1 122.5,58.5 123.0,59.0 123.5,59.6 124.0,60.3 124.5,61.1 125.0,62.0 125.5,63.2 126.0,64.5 126.5,66.0 127.0,67.5 127.5,68.9 128.0,70.5 128.5,72.0 129.0,73.5 129.5,75.0 130.0,76.6 130.5,78.1 131.0,79.6 131.5,81.2 132.0,82.7 132.5,84.3 133.0,85.8 133.5,87.4 134.0,88.9 134.5,90.5 135.0,92.1 135.5,93.7 136.0,95.3 136.5,96.9 137.0,98.5 137.5,100.1 138.0,101.6 138.5,103.1 139.0,104.5 139.5,105.8 140.0,107.2 140.5,108.4 141.0,109.7 141.5,111.0 142.0,112.3 142.5,113.5 143.0,114.8 143.5,116.0 144.0,117.2 144.5,118.4 145.0,119.6 145.5,120.7 146.0,121.8 146.5,122.8 147.0,123.8 147.5,124.7 148.0,125.5 148.5,126.3 149.0,127.0 149.5,127.7 150.0,128.3 150.5,128.9 151.0,129.5 151.5,130.1 152.0,130.6 152.5,131.1 153.0,131.5 153.5,132.0 154.0,132.4 154.5,132.8 155.0,133.2 155.5,133.6 156.0,133.9 156.5,134.2 157.0,134.5 157.5,134.7 158.0,134.9 158.5,135.2 159.0,135.4 159.5,135.5 160.0,135.7 160.5,135.8 161.0,136.0 161.5,136.1 162.0,136.1 162.5,136.2 163.0,136.2" fill="none" stroke="#f27cc0" stroke-width="1.3" stroke-linejoin="round" />
<path fill="#f27cc0" d="M30.9,118.4L35.1,118.4L33.0,121.8ZM35.9,118.6L40.1,118.6L38.0,121.9ZM40.9,118.7L45.1,118.7L43.0,122.1ZM45.9,118.9L50.1,118.9L48.0,122.2ZM50.9,119.0L55.1,119.0L53.0,122.4ZM55.9,119.1L60.1,119.1L58.0,122.5ZM60.9,119.1L65.1,119.1L63.0,122.5ZM65.9,119.0L70.1,119.0L68.0,122.4ZM70.9,118.4L75.1,118.4L73.0,121.8ZM75.9,117.5L80.1,117.5L78.0,120.9ZM80.9,115.9L85.1,115.9L83.0,119.2ZM85.9,112.3L90.1,112.3L88.0,115.7ZM90.9,105.9L95.1,105.9L93.0,109.2ZM95.9,93.9L100.1,93.9L98.0,97.3ZM100.9,81.1L105.1,81.1L103.0,84.4ZM105.9,70.6L110.1,70.6L108.0,74.0ZM110.9,60.2L115.1,60.2L113.0,63.5ZM115.9,56.2L120.1,56.2L118.0,59.5ZM120.9,57.8L125.1,57.8L123.0,61.1ZM125.9,69.2L130.1,69.2L128.0,72.6ZM130.9,84.6L135.1,84.6L133.0,87.9ZM135.9,100.3L140.1,100.3L138.0,103.7ZM140.9,113.5L145.1,113.5L143.0,116.9ZM145.9,124.3L150.1,124.3L148.0,127.6ZM150.9,130.3L155.1,130.3L153.0,133.6ZM155.9,133.7L160.1,133.7L158.0,137.0ZM160.9,134.9L165.1,134.9L163.0,138.3Z"/>
<path d="M56.5,111.0 57.0,110.4 57.5,109.7 58.0,109.0 58.5,108.2 59.0,107.3 59.5,106.4 60.0,105.3 60.5,104.2 61.0,102.9 61.5,101.5 62.0,100.0 62.5,98.5 63.0,96.9 63.5,95.4 64.0,94.0 64.5,92.7 65.0,91.4 65.5,90.1 66.0,88.9 66.5,87.6 67.0,86.4 67.5,85.1 68.0,83.9 68.5,82.6 69.0,81.4 69.5,80.1 70.0,78.9 70.5,77.6 71.0,76.3 71.5,75.1 72.0,73.8 72.5,72.5 73.0,71.2 73.5,69.8 74.0,68.1 74.5,66.4 75.0,64.7 75.5,63.2 76.0,61.8 76.5,60.5 77.0,59.2 77.5,58.0 78.0,56.8 78.5,55.7 79.0,54.5 79.5,53.5 80.0,52.6 80.5,51.7 81.0,51.0 81.5,50.4 82.0,49.9 82.5,49.5 83.0,49.3 83.5,49.1 84.0,49.1 84.5,49.1 85.0,49.1 85.5,49.2 86.0,49.4 86.5,49.7 87.0,50.0 87.5,50.4 88.0,50.7 88.5,51.1 89.0,51.5 89.5,51.9 90.0,52.3 90.5,52.7 91.0,53.2 91.5,53.6 92.0,54.0 92.5,54.5 93.0,54.9 93.5,55.3 94.0,55.7 94.5,56.1 95.0,56.4 95.5,56.8 96.0,57.0 96.5,57.2 97.0,57.4 97.5,57.6 98.0,57.7 98.5,57.8 99.0,57.8 99.5,57.8 100.0,57.6 100.5,57.3 101.0,57.0 101.5,56.6 102.0,56.2 102.5,55.7 103.0,55.2 103.5,54.6 104.0,54.0 104.5,53.3 105.0,52.6 105.5,51.8 106.0,50.9 106.5,49.9 107.0,48.9 107.5,47.8 108.0,46.6 108.5,45.4 109.0,44.1 109.5,42.9 110.0,41.6 110.5,40.4 111.0,39.2 111.5,38.1 112.0,37.1 112.5,36.0 113.0,35.0 113.5,34.0 114.0,33.1 114.5,32.2 115.0,31.3 115.5,30.4 116.0,29.7 116.5,29.1 117.0,28.5 117.5,28.2 118.0,27.9 118.5,27.7 119.0,27.6 119.5,27.7 120.0,27.8 120.5,28.0 121.0,28.3 121.5,28.7 122.0,29.2 122.5,29.7 123.0,30.3 123.5,31.0 124.0,31.7 124.5,32.4 125.0,33.2 125.5,34.0 126.0,34.8 126.5,35.7 127.0,36.8 127.5,38.2 128.0,39.8 128.5,41.6 129.0,43.5 129.5,45.3 130.0,47.1 130.5,49.0 131.0,50.8 131.5,52.7 132.0,54.5 132.5,56.4 133.0,58.2 133.5,60.1 134.0,61.9 134.5,63.8 135.0,65.6 135.5,67.4 136.0,69.1 136.5,70.8 137.0,72.5 137.5,74.1 138.0,75.7 138.5,77.2 139.0,78.8 139.5,80.3 140.0,81.7 140.5,83.0 141.0,84.2 141.5,85.2 142.0,86.1 142.5,87.0 143.0,87.8 143.5,88.6 144.0,89.4 144.5,90.2 145.0,91.1 145.5,91.9 146.0,92.7 146.5,93.6 147.0,94.5 147.5,95.4 148.0,96.3 148.5,97.2 149.0,98.1 149.5,98.9 150.0,99.7 150.5,100.5 151.0,101.2 151.5,101.9 152.0,102.5 152.5,103.0 153.0,103.5 153.5,104.0 154.0,104.4 154.5,104.8 155.0,105.2 155.5,105.6 156.0,106.0 156.5,106.3 157.0,106.6 157.5,106.9 158.0,107.1 158.5,107.3 159.0,107.5 159.5,107.7 160.0,107.9 160.5,108.0 161.0,108.2 161.5,108.4 162.0,108.5 162.5,108.7 163.0,108.9 163.5,109.0 164.0,109.2 164.5,109.3 165.0,109.4 165.5,109.6 166.0,109.7 166.5,109.8 167.0,109.9 167.5,110.1 168.0,110.2 168.5,110.3 169.0,110.4 169.5,110.5 170.0,110.6 170.5,110.7 171.0,110.8 171.5,110.9 172.0,111.0 172.5,111.2 173.0,111.3 173.5,111.4 174.0,111.5 174.5,111.7 175.0,111.8 175.5,111.9 176.0,112.1 176.5,112.2 177.0,112.4 177.5,112.6 178.0,112.7 178.5,112.9 179.0,113.0 179.5,113.2 180.0,113.4 180.5,113.6 181.0,113.7 181.5,113.9 182.0,114.2 182.5,114.4 183.0,114.6 183.5,114.9 184.0,115.2 184.5,115.5 185.0,115.9 185.5,116.3 186.0,116.7 186.5,117.1 187.0,117.5 187.5,118.0 188.0,118.4 188.5,118.8 189.0,119.2 189.5,119.6 190.0,119.9 190.5,120.3 191.0,120.6 191.5,121.0 192.0,121.4 192.5,121.7 193.0,122.1 193.5,122.4 194.0,122.8 194.5,123.1 195.0,123.5 195.5,123.9 196.0,124.2 196.5,124.6 197.0,124.9 197.5,125.3 198.0,125.6 198.5,126.0 199.0,126.3 199.5,126.7 200.0,127.1 200.5,127.4 201.0,127.8 201.5,128.1 202.0,128.5 202.5,128.8 203.0,129.2 203.5,129.5 204.0,129.9 204.5,130.2 205.0,130.6 205.5,130.9 206.0,131.3 206.5,131.6 207.0,132.0 207.5,132.3 208.0,132.6 208.5,132.9 209.0,133.3 209.5,133.6 210.0,133.9 210.5,134.2 211.0,134.5 211.5,134.8 212.0,135.1 212.5,135.4" fill="none" stroke="#2b9d7b" stroke-width="2.5" stroke-linejoin="round" />
<path d="M128.0,128.4 128.5,128.5 129.0,128.5 129.5,128.6 130.0,128.6 130.5,128.6 131.0,128.7 131.5,128.7 132.0,128.7 132.5,128.7 133.0,128.7 133.5,128.7 134.0,128.7 134.5,128.7 135.0,128.7 135.5,128.6 136.0,128.6 136.5,128.6 137.0,128.5 137.5,128.5 138.0,128.4 138.5,128.3 139.0,128.2 139.5,128.1 140.0,127.9 140.5,127.8 141.0,127.6 141.5,127.4 142.0,127.2 142.5,126.9 143.0,126.7 143.5,126.4 144.0,126.1 144.5,125.8 145.0,125.5 145.5,125.2 146.0,124.9 146.5,124.6 147.0,124.3 147.5,124.0 148.0,123.6 148.5,123.3 149.0,123.0 149.5,122.7 150.0,122.3 150.5,122.0 151.0,121.7 151.5,121.3 152.0,121.0 152.5,120.6 153.0,120.2 153.5,119.9 154.0,119.5 154.5,119.1 155.0,118.7 155.5,118.4 156.0,118.0 156.5,117.7 157.0,117.4 157.5,117.1 158.0,116.8 158.5,116.6 159.0,116.4 159.5,116.2 160.0,116.0 160.5,115.8 161.0,115.6 161.5,115.5 162.0,115.4 162.5,115.2 163.0,115.1 163.5,115.0 164.0,114.8 164.5,114.7 165.0,114.5 165.5,114.4 166.0,114.3 166.5,114.1 167.0,114.0 167.5,113.9 168.0,113.8 168.5,113.6 169.0,113.5 169.5,113.4 170.0,113.3 170.5,113.2 171.0,113.1 171.5,113.0 172.0,112.9" fill="none" stroke="#1f7fec" stroke-width="1.5" stroke-linejoin="round" />
<path d="M172.5,112.8 173.0,112.8 173.5,112.7 174.0,112.6 174.5,112.6 175.0,112.6 175.5,112.5 176.0,112.5 176.5,112.6 177.0,112.6 177.5,112.7 178.0,112.8 178.5,113.0 179.0,113.1 179.5,113.3 180.0,113.6 180.5,113.9 181.0,114.2 181.5,114.5 182.0,114.8 182.5,115.1 183.0,115.4 183.5,115.7 184.0,116.0 184.5,116.4 185.0,116.7 185.5,117.1 186.0,117.4 186.5,117.8 187.0,118.1 187.5,118.5 188.0,118.9 188.5,119.2 189.0,119.6 189.5,120.0 190.0,120.3 190.5,120.7 191.0,121.1 191.5,121.4 192.0,121.8 192.5,122.2 193.0,122.6 193.5,122.9 194.0,123.3 194.5,123.7 195.0,124.0 195.5,124.4 196.0,124.7 196.5,125.1 197.0,125.4 197.5,125.8 198.0,126.1 198.5,126.5 199.0,126.8 199.5,127.1 200.0,127.5 200.5,127.8 201.0,128.2 201.5,128.5 202.0,128.8 202.5,129.2 203.0,129.5 203.5,129.8 204.0,130.2 204.5,130.5 205.0,130.8 205.5,131.1 206.0,131.5 206.5,131.8 207.0,132.1 207.5,132.4 208.0,132.7 208.5,133.1 209.0,133.4 209.5,133.7 210.0,134.0 210.5,134.3 211.0,134.6 211.5,134.9 212.0,135.2 212.5,135.5" fill="none" stroke="#1f7fec" stroke-width="2.0" stroke-linejoin="round" />
<g fill="#1f7fec"><circle cx="128.0" cy="128.4" r="1.2"/><circle cx="131.0" cy="128.7" r="1.2"/><circle cx="134.0" cy="128.7" r="1.2"/><circle cx="137.0" cy="128.5" r="1.2"/><circle cx="140.0" cy="127.9" r="1.2"/><circle cx="143.0" cy="126.7" r="1.2"/><circle cx="146.0" cy="124.9" r="1.2"/><circle cx="149.0" cy="123.0" r="1.2"/><circle cx="152.0" cy="121.0" r="1.2"/><circle cx="155.0" cy="118.7" r="1.2"/><circle cx="158.0" cy="116.8" r="1.2"/><circle cx="161.0" cy="115.6" r="1.2"/><circle cx="164.0" cy="114.8" r="1.2"/><circle cx="167.0" cy="114.0" r="1.2"/><circle cx="170.0" cy="113.3" r="1.2"/><circle cx="173.0" cy="112.8" r="1.2"/><circle cx="176.0" cy="112.5" r="1.2"/><circle cx="179.0" cy="113.1" r="1.2"/><circle cx="182.0" cy="114.8" r="1.2"/><circle cx="185.0" cy="116.7" r="1.2"/><circle cx="188.0" cy="118.9" r="1.2"/><circle cx="191.0" cy="121.1" r="1.2"/><circle cx="194.0" cy="123.3" r="1.2"/><circle cx="197.0" cy="125.4" r="1.2"/><circle cx="200.0" cy="127.5" r="1.2"/><circle cx="203.0" cy="129.5" r="1.2"/><circle cx="206.0" cy="131.5" r="1.2"/><circle cx="209.0" cy="133.4" r="1.2"/><circle cx="212.0" cy="135.2" r="1.2"/></g>
<path d="M31.5,119.0 32.0,119.0 32.5,119.0 33.0,119.1 33.5,119.1 34.0,119.1 34.5,119.1 35.0,119.1 35.5,119.1 36.0,119.1 36.5,119.1 37.0,119.1 37.5,119.1 38.0,119.1 38.5,119.0 39.0,119.0 39.5,119.0 40.0,119.0 40.5,119.0 41.0,119.0 41.5,118.9 42.0,118.9 42.5,118.8 43.0,118.8 43.5,118.7 44.0,118.7 44.5,118.6 45.0,118.5 45.5,118.4 46.0,118.3 46.5,118.1 47.0,118.0 47.5,117.8 48.0,117.6 48.5,117.4 49.0,117.2 49.5,116.9 50.0,116.7 50.5,116.4 51.0,116.1 51.5,115.8 52.0,115.5 52.5,115.2 53.0,114.9 53.5,114.5 54.0,114.1 54.5,113.6 55.0,113.1 55.5,112.6 56.0,112.1 56.5,111.6 57.0,111.0 57.5,110.4 58.0,109.7 58.5,109.0 59.0,108.1 59.5,107.2 60.0,106.2 60.5,105.0 61.0,103.8 61.5,102.4 62.0,100.9 62.5,99.4 63.0,97.9 63.5,96.4 64.0,94.9 64.5,93.6 65.0,92.3 65.5,91.0 66.0,89.8 66.5,88.5 67.0,87.3 67.5,86.1 68.0,84.8 68.5,83.6 69.0,82.3 69.5,81.0 70.0,79.8 70.5,78.5 71.0,77.2 71.5,75.9 72.0,74.6 72.5,73.3 73.0,72.0 73.5,70.7 74.0,69.4 74.5,68.1 75.0,66.8 75.5,65.5 76.0,64.1 76.5,62.8 77.0,61.5 77.5,60.4 78.0,59.5 78.5,58.7 79.0,58.1 79.5,57.6 80.0,57.1 80.5,56.7 81.0,56.3 81.5,56.1 82.0,55.9 82.5,55.8 83.0,55.9 83.5,56.0 84.0,56.3 84.5,56.6 85.0,57.0 85.5,57.5 86.0,58.0 86.5,58.6 87.0,59.4 87.5,60.3 88.0,61.3 88.5,62.5 89.0,63.9 89.5,65.4 90.0,66.9 90.5,68.4 91.0,70.0 91.5,71.6 92.0,73.3 92.5,74.9 93.0,76.6 93.5,78.3 94.0,80.1 94.5,81.8 95.0,83.6 95.5,85.3 96.0,87.1 96.5,88.8 97.0,90.6 97.5,92.3 98.0,93.9 98.5,95.6 99.0,97.2 99.5,98.8 100.0,100.3 100.5,101.8 101.0,103.3 101.5,104.7 102.0,106.0 102.5,107.3 103.0,108.5 103.5,109.7 104.0,110.8 104.5,111.9 105.0,113.0 105.5,114.0 106.0,115.0 106.5,116.0 107.0,116.9 107.5,117.7 108.0,118.6 108.5,119.4 109.0,120.2 109.5,120.9 110.0,121.6 110.5,122.3 111.0,123.0 111.5,123.6 112.0,124.2 112.5,124.8 113.0,125.4 113.5,126.0 114.0,126.5 114.5,127.0 115.0,127.5 115.5,127.9 116.0,128.4 116.5,128.8 117.0,129.1 117.5,129.5 118.0,129.8 118.5,130.2 119.0,130.5 119.5,130.8 120.0,131.0 120.5,131.3 121.0,131.5 121.5,131.7 122.0,131.9 122.5,132.1 123.0,132.3 123.5,132.5 124.0,132.7 124.5,132.8 125.0,133.0 125.5,133.2 126.0,133.3 126.5,133.5 127.0,133.6 127.5,133.8 128.0,133.9 128.5,134.0 129.0,134.1 129.5,134.2 130.0,134.3 130.5,134.4 131.0,134.6 131.5,134.7 132.0,134.8 132.5,134.9 133.0,135.0 133.5,135.1 134.0,135.2 134.5,135.3 135.0,135.4 135.5,135.5 136.0,135.6 136.5,135.7 137.0,135.8 137.5,135.9 138.0,136.0 138.5,136.1 139.0,136.1 139.5,136.2 140.0,136.3 140.5,136.4 141.0,136.5 141.5,136.5 142.0,136.6 142.5,136.7 143.0,136.7 143.5,136.8 144.0,136.9 144.5,137.0 145.0,137.0 145.5,137.1 146.0,137.2 146.5,137.2 147.0,137.3 147.5,137.4 148.0,137.4 148.5,137.5 149.0,137.6 149.5,137.6 150.0,137.7 150.5,137.8 151.0,137.8 151.5,137.9 152.0,137.9 152.5,138.0 153.0,138.1 153.5,138.1 154.0,138.2 154.5,138.2 155.0,138.3 155.5,138.3 156.0,138.3 156.5,138.4 157.0,138.4 157.5,138.5 158.0,138.5 158.5,138.5 159.0,138.6 159.5,138.6 160.0,138.7 160.5,138.7 161.0,138.7 161.5,138.8 162.0,138.8 162.5,138.8 163.0,138.9 163.5,138.9 164.0,139.0 164.5,139.0 165.0,139.0 165.5,139.1 166.0,139.1 166.5,139.1 167.0,139.2 167.5,139.2 168.0,139.3 168.5,139.3 169.0,139.3 169.5,139.4 170.0,139.4 170.5,139.4 171.0,139.5 171.5,139.5 172.0,139.5 172.5,139.6 173.0,139.6 173.5,139.7 174.0,139.7 174.5,139.7 175.0,139.8 175.5,139.8 176.0,139.8 176.5,139.9 177.0,139.9 177.5,139.9 178.0,140.0 178.5,140.0 179.0,140.0 179.5,140.1 180.0,140.1 180.5,140.1 181.0,140.2 181.5,140.2 182.0,140.2 182.5,140.2 183.0,140.3 183.5,140.3 184.0,140.3 184.5,140.4 185.0,140.4 185.5,140.4 186.0,140.5 186.5,140.5 187.0,140.5 187.5,140.6 188.0,140.6 188.5,140.6 189.0,140.6 189.5,140.7 190.0,140.7 190.5,140.7 191.0,140.8 191.5,140.8 192.0,140.8 192.5,140.9 193.0,140.9 193.5,140.9 194.0,140.9 194.5,141.0 195.0,141.0 195.5,141.0 196.0,141.1 196.5,141.1 197.0,141.1 197.5,141.2 198.0,141.2 198.5,141.2 199.0,141.2 199.5,141.3 200.0,141.3 200.5,141.3 201.0,141.4 201.5,141.4 202.0,141.4 202.5,141.4 203.0,141.5 203.5,141.5 204.0,141.5 204.5,141.6 205.0,141.6 205.5,141.6 206.0,141.6 206.5,141.7 207.0,141.7 207.5,141.7 208.0,141.8 208.5,141.8 209.0,141.8 209.5,141.8 210.0,141.9 210.5,141.9 211.0,141.9 211.5,141.9 212.0,142.0 212.5,142.0" fill="none" stroke="#e8168a" stroke-width="1.6" stroke-linejoin="round" />
<g fill="#e8168a"><circle cx="32.5" cy="119.0" r="2.0"/><circle cx="37.2" cy="119.1" r="2.0"/><circle cx="41.9" cy="118.9" r="2.0"/><circle cx="46.6" cy="118.1" r="2.0"/><circle cx="51.3" cy="115.9" r="2.0"/><circle cx="56.0" cy="112.1" r="2.0"/><circle cx="60.7" cy="104.5" r="2.0"/><circle cx="65.4" cy="91.3" r="2.0"/><circle cx="70.1" cy="79.5" r="2.0"/><circle cx="74.8" cy="67.4" r="2.0"/><circle cx="79.5" cy="57.6" r="2.0"/><circle cx="84.2" cy="56.4" r="2.0"/><circle cx="88.9" cy="63.6" r="2.0"/><circle cx="93.6" cy="78.7" r="2.0"/><circle cx="98.3" cy="94.9" r="2.0"/><circle cx="103.0" cy="108.5" r="2.0"/><circle cx="107.7" cy="118.1" r="2.0"/><circle cx="112.4" cy="124.7" r="2.0"/><circle cx="117.1" cy="129.2" r="2.0"/><circle cx="121.8" cy="131.8" r="2.0"/><circle cx="126.5" cy="133.5" r="2.0"/><circle cx="131.2" cy="134.6" r="2.0"/><circle cx="135.9" cy="135.6" r="2.0"/><circle cx="140.6" cy="136.4" r="2.0"/><circle cx="145.3" cy="137.1" r="2.0"/><circle cx="150.0" cy="137.7" r="2.0"/><circle cx="154.7" cy="138.2" r="2.0"/><circle cx="159.4" cy="138.6" r="2.0"/><circle cx="164.1" cy="139.0" r="2.0"/><circle cx="168.8" cy="139.3" r="2.0"/><circle cx="173.5" cy="139.7" r="2.0"/><circle cx="178.2" cy="140.0" r="2.0"/><circle cx="182.9" cy="140.3" r="2.0"/><circle cx="187.6" cy="140.6" r="2.0"/><circle cx="192.3" cy="140.8" r="2.0"/><circle cx="197.0" cy="141.1" r="2.0"/><circle cx="201.7" cy="141.4" r="2.0"/><circle cx="206.4" cy="141.7" r="2.0"/><circle cx="211.1" cy="141.9" r="2.0"/></g>
<text x="33.2" y="16.9" font-family='"Liberation Serif", serif' font-size="14.5" font-weight="bold" font-style="italic" fill="#151515" text-anchor="start" textLength="33.0" lengthAdjust="spacingAndGlyphs">Hf 4f</text>
<text x="169.0" y="19.4" font-family='"Liberation Serif", serif' font-size="16.5" font-weight="bold" font-style="normal" fill="#151515" text-anchor="start" textLength="39.3" lengthAdjust="spacingAndGlyphs">(a) W</text>
<text x="57.0" y="51.0" font-family='"Liberation Serif", serif' font-size="8.6" font-weight="normal" font-style="normal" fill="#555555" text-anchor="start" textLength="26.0" lengthAdjust="spacingAndGlyphs">20.17eV</text>
<text x="93.3" y="29.7" font-family='"Liberation Serif", serif' font-size="8.6" font-weight="normal" font-style="normal" fill="#555555" text-anchor="start" textLength="25.5" lengthAdjust="spacingAndGlyphs">18.57eV</text>
<text x="33.6" y="73.0" font-family='"Liberation Serif", serif' font-size="12" font-weight="bold" font-style="italic" fill="#3d4156" text-anchor="start" textLength="25.2" lengthAdjust="spacingAndGlyphs">Hf 4f</text>
<text x="59.1" y="76.2" font-family='"Liberation Serif", serif' font-size="7.5" font-weight="bold" font-style="italic" fill="#3d4156" text-anchor="start" textLength="9.2" lengthAdjust="spacingAndGlyphs">5/2</text>
<line x1="60.5" y1="78.5" x2="65.1" y2="84.6" stroke="#555" stroke-width="0.7"/>
<path d="M67.0,87.2L63.9,85.5L66.2,83.8Z" fill="#1a1a1a"/>
<text x="145.2" y="55.0" font-family='"Liberation Serif", serif' font-size="12" font-weight="bold" font-style="italic" fill="#3d4156" text-anchor="start" textLength="25.2" lengthAdjust="spacingAndGlyphs">Hf 4f</text>
<text x="170.7" y="57.4" font-family='"Liberation Serif", serif' font-size="7.5" font-weight="bold" font-style="italic" fill="#3d4156" text-anchor="start" textLength="9.2" lengthAdjust="spacingAndGlyphs">7/2</text>
<line x1="156.5" y1="60.0" x2="139.1" y2="83.4" stroke="#555" stroke-width="0.7"/>
<path d="M137.2,86.0L138.0,82.6L140.3,84.3Z" fill="#1a1a1a"/>
<text x="160.6" y="75.0" font-family='"Liberation Serif", serif' font-size="12" font-weight="bold" font-style="italic" fill="#3d4156" text-anchor="start" textLength="22.2" lengthAdjust="spacingAndGlyphs">HfO</text>
<text x="183.2" y="77.6" font-family='"Liberation Serif", serif' font-size="7.5" font-weight="bold" font-style="italic" fill="#3d4156" text-anchor="start" textLength="9.3" lengthAdjust="spacingAndGlyphs">2-x</text>
<text x="160.4" y="85.4" font-family='"Liberation Serif", serif' font-size="9.8" font-weight="bold" font-style="italic" fill="#e0303c" text-anchor="start" textLength="26.8" lengthAdjust="spacingAndGlyphs">(46%)</text>
<line x1="165.5" y1="88.5" x2="143.5" y2="110.3" stroke="#555" stroke-width="0.7"/>
<path d="M141.2,112.5L142.5,109.2L144.5,111.3Z" fill="#1a1a1a"/>
<line x1="165.5" y1="88.5" x2="174.6" y2="107.6" stroke="#555" stroke-width="0.7"/>
<path d="M176.0,110.5L173.3,108.2L175.9,107.0Z" fill="#1a1a1a"/>
<text x="87.2" y="146.6" font-family='"Liberation Serif", serif' font-size="7.8" font-weight="bold" font-style="normal" fill="#8a8a8a" text-anchor="start" textLength="23.6" lengthAdjust="spacingAndGlyphs">0.12eV</text>
<text x="124.6" y="146.6" font-family='"Liberation Serif", serif' font-size="7.8" font-weight="bold" font-style="normal" fill="#8a8a8a" text-anchor="start" textLength="22.2" lengthAdjust="spacingAndGlyphs">0.12eV</text>
<line x1="73.3" y1="150.8" x2="80.0" y2="150.8" stroke="#9a9a9a" stroke-width="0.7"/>
<path d="M82.0,150.8L79.6,149.5L79.6,152.1Z" fill="#8a8a8a"/>
<line x1="94.1" y1="150.8" x2="88.0" y2="150.8" stroke="#9a9a9a" stroke-width="0.7"/>
<path d="M86.0,150.8L88.4,149.5L88.4,152.1Z" fill="#8a8a8a"/>
<line x1="110.8" y1="150.8" x2="117.0" y2="150.8" stroke="#9a9a9a" stroke-width="0.7"/>
<path d="M119.0,150.8L116.6,149.5L116.6,152.1Z" fill="#8a8a8a"/>
<line x1="130.9" y1="150.8" x2="125.0" y2="150.8" stroke="#9a9a9a" stroke-width="0.7"/>
<path d="M123.0,150.8L125.4,149.5L125.4,152.1Z" fill="#8a8a8a"/>
<path d="M31.5,285.6 32.0,285.7 32.5,285.7 33.0,285.7 33.5,285.7 34.0,285.8 34.5,285.8 35.0,285.8 35.5,285.8 36.0,285.9 36.5,285.9 37.0,285.9 37.5,285.9 38.0,286.0 38.5,286.0 39.0,286.0 39.5,286.0 40.0,286.1 40.5,286.1 41.0,286.1 41.5,286.2 42.0,286.2 42.5,286.2 43.0,286.2 43.5,286.3 44.0,286.3 44.5,286.3 45.0,286.3 45.5,286.4 46.0,286.4 46.5,286.4 47.0,286.4 47.5,286.5 48.0,286.5 48.5,286.5 49.0,286.5 49.5,286.6 50.0,286.6 50.5,286.6 51.0,286.6 51.5,286.6 52.0,286.7 52.5,286.7 53.0,286.7 53.5,286.7 54.0,286.7 54.5,286.8 55.0,286.8 55.5,286.8 56.0,286.8 56.5,286.9 57.0,286.9 57.5,286.9 58.0,286.9 58.5,286.9 59.0,287.0 59.5,287.0 60.0,287.0 60.5,287.0 61.0,287.0 61.5,287.1 62.0,287.1 62.5,287.1 63.0,287.1 63.5,287.1 64.0,287.2 64.5,287.2 65.0,287.2 65.5,287.2 66.0,287.2 66.5,287.2 67.0,287.3 67.5,287.3 68.0,287.3 68.5,287.3 69.0,287.3 69.5,287.3 70.0,287.3 70.5,287.4 71.0,287.4 71.5,287.4 72.0,287.4 72.5,287.4 73.0,287.4 73.5,287.4 74.0,287.5 74.5,287.5 75.0,287.5 75.5,287.5 76.0,287.5 76.5,287.5 77.0,287.5 77.5,287.5 78.0,287.6 78.5,287.6 79.0,287.6 79.5,287.6 80.0,287.6 80.5,287.6 81.0,287.6 81.5,287.6 82.0,287.6 82.5,287.6 83.0,287.7 83.5,287.7 84.0,287.7 84.5,287.7 85.0,287.7 85.5,287.7 86.0,287.7 86.5,287.7 87.0,287.6 87.5,287.6 88.0,287.6 88.5,287.6 89.0,287.6 89.5,287.6 90.0,287.6 90.5,287.5 91.0,287.5 91.5,287.5 92.0,287.5 92.5,287.4 93.0,287.4 93.5,287.3 94.0,287.3 94.5,287.2 95.0,287.2 95.5,287.1 96.0,287.1 96.5,287.0 97.0,286.9 97.5,286.9 98.0,286.8 98.5,286.7 99.0,286.6 99.5,286.5 100.0,286.4 100.5,286.3 101.0,286.2 101.5,286.1 102.0,286.0 102.5,285.9 103.0,285.8 103.5,285.7 104.0,285.6 104.5,285.5 105.0,285.4 105.5,285.3 106.0,285.2 106.5,285.1 107.0,284.9 107.5,284.8 108.0,284.7 108.5,284.6 109.0,284.4 109.5,284.3 110.0,284.2 110.5,284.1 111.0,283.9 111.5,283.8 112.0,283.7 112.5,283.6 113.0,283.5 113.5,283.4 114.0,283.3 114.5,283.2 115.0,283.2 115.5,283.1 116.0,283.1 116.5,283.0 117.0,283.0 117.5,282.9 118.0,282.9 118.5,282.9 119.0,282.9 119.5,282.8 120.0,282.8 120.5,282.8 121.0,282.8 121.5,282.8 122.0,282.8 122.5,282.8 123.0,282.8 123.5,282.8 124.0,282.8 124.5,282.9 125.0,282.9 125.5,283.0 126.0,283.0 126.5,283.1 127.0,283.2 127.5,283.3 128.0,283.4 128.5,283.5 129.0,283.6 129.5,283.7 130.0,283.9 130.5,284.0 131.0,284.2 131.5,284.4 132.0,284.6 132.5,284.7 133.0,284.9 133.5,285.1 134.0,285.3 134.5,285.5 135.0,285.8 135.5,286.0 136.0,286.2 136.5,286.4 137.0,286.7 137.5,286.9 138.0,287.2 138.5,287.4 139.0,287.7 139.5,287.9 140.0,288.1 140.5,288.4 141.0,288.6 141.5,288.8 142.0,289.0 142.5,289.2 143.0,289.4 143.5,289.6 144.0,289.8 144.5,289.9 145.0,290.1 145.5,290.3 146.0,290.4 146.5,290.5 147.0,290.7 147.5,290.8 148.0,290.9 148.5,291.0 149.0,291.1 149.5,291.2 150.0,291.2 150.5,291.3 151.0,291.4 151.5,291.4 152.0,291.4 152.5,291.5 153.0,291.5 153.5,291.5 154.0,291.6 154.5,291.6 155.0,291.6 L155.00,292.14 L154.50,292.11 L154.00,292.09 L153.50,292.06 L153.00,292.04 L152.50,292.01 L152.00,291.98 L151.50,291.96 L151.00,291.93 L150.50,291.90 L150.00,291.88 L149.50,291.85 L149.00,291.82 L148.50,291.80 L148.00,291.77 L147.50,291.75 L147.00,291.72 L146.50,291.69 L146.00,291.67 L145.50,291.64 L145.00,291.61 L144.50,291.59 L144.00,291.56 L143.50,291.53 L143.00,291.51 L142.50,291.48 L142.00,291.45 L141.50,291.43 L141.00,291.40 L140.50,291.38 L140.00,291.35 L139.50,291.32 L139.00,291.30 L138.50,291.27 L138.00,291.24 L137.50,291.22 L137.00,291.19 L136.50,291.16 L136.00,291.14 L135.50,291.11 L135.00,291.09 L134.50,291.06 L134.00,291.03 L133.50,291.01 L133.00,290.98 L132.50,290.95 L132.00,290.93 L131.50,290.90 L131.00,290.87 L130.50,290.85 L130.00,290.82 L129.50,290.80 L129.00,290.77 L128.50,290.74 L128.00,290.72 L127.50,290.69 L127.00,290.66 L126.50,290.64 L126.00,290.61 L125.50,290.58 L125.00,290.56 L124.50,290.53 L124.00,290.51 L123.50,290.48 L123.00,290.45 L122.50,290.43 L122.00,290.40 L121.50,290.37 L121.00,290.35 L120.50,290.32 L120.00,290.29 L119.50,290.27 L119.00,290.24 L118.50,290.22 L118.00,290.19 L117.50,290.16 L117.00,290.14 L116.50,290.11 L116.00,290.08 L115.50,290.06 L115.00,290.03 L114.50,290.00 L114.00,289.98 L113.50,289.95 L113.00,289.93 L112.50,289.90 L112.00,289.87 L111.50,289.85 L111.00,289.82 L110.50,289.79 L110.00,289.77 L109.50,289.74 L109.00,289.71 L108.50,289.69 L108.00,289.66 L107.50,289.64 L107.00,289.61 L106.50,289.58 L106.00,289.56 L105.50,289.53 L105.00,289.50 L104.50,289.48 L104.00,289.45 L103.50,289.42 L103.00,289.40 L102.50,289.37 L102.00,289.35 L101.50,289.32 L101.00,289.29 L100.50,289.27 L100.00,289.24 L99.50,289.21 L99.00,289.19 L98.50,289.16 L98.00,289.13 L97.50,289.11 L97.00,289.08 L96.50,289.05 L96.00,289.03 L95.50,289.00 L95.00,288.98 L94.50,288.95 L94.00,288.92 L93.50,288.90 L93.00,288.87 L92.50,288.84 L92.00,288.82 L91.50,288.79 L91.00,288.76 L90.50,288.74 L90.00,288.71 L89.50,288.69 L89.00,288.66 L88.50,288.63 L88.00,288.61 L87.50,288.58 L87.00,288.55 L86.50,288.53 L86.00,288.50 L85.50,288.47 L85.00,288.45 L84.50,288.42 L84.00,288.40 L83.50,288.37 L83.00,288.34 L82.50,288.32 L82.00,288.29 L81.50,288.26 L81.00,288.24 L80.50,288.21 L80.00,288.18 L79.50,288.16 L79.00,288.13 L78.50,288.11 L78.00,288.08 L77.50,288.05 L77.00,288.03 L76.50,288.00 L76.00,287.97 L75.50,287.95 L75.00,287.92 L74.50,287.89 L74.00,287.87 L73.50,287.84 L73.00,287.82 L72.50,287.79 L72.00,287.76 L71.50,287.74 L71.00,287.71 L70.50,287.68 L70.00,287.66 L69.50,287.63 L69.00,287.60 L68.50,287.58 L68.00,287.55 L67.50,287.53 L67.00,287.50 L66.50,287.47 L66.00,287.45 L65.50,287.42 L65.00,287.39 L64.50,287.37 L64.00,287.34 L63.50,287.31 L63.00,287.29 L62.50,287.26 L62.00,287.24 L61.50,287.21 L61.00,287.18 L60.50,287.16 L60.00,287.13 L59.50,287.10 L59.00,287.08 L58.50,287.05 L58.00,287.02 L57.50,287.00 L57.00,286.97 L56.50,286.95 L56.00,286.92 L55.50,286.89 L55.00,286.87 L54.50,286.84 L54.00,286.81 L53.50,286.79 L53.00,286.76 L52.50,286.73 L52.00,286.71 L51.50,286.68 L51.00,286.65 L50.50,286.63 L50.00,286.60 L49.50,286.58 L49.00,286.55 L48.50,286.52 L48.00,286.50 L47.50,286.47 L47.00,286.44 L46.50,286.42 L46.00,286.39 L45.50,286.36 L45.00,286.34 L44.50,286.31 L44.00,286.29 L43.50,286.26 L43.00,286.23 L42.50,286.21 L42.00,286.18 L41.50,286.15 L41.00,286.13 L40.50,286.10 L40.00,286.07 L39.50,286.05 L39.00,286.02 L38.50,286.00 L38.00,285.97 L37.50,285.94 L37.00,285.92 L36.50,285.89 L36.00,285.86 L35.50,285.84 L35.00,285.81 L34.50,285.78 L34.00,285.76 L33.50,285.73 L33.00,285.71 L32.50,285.68 L32.00,285.65 L31.50,285.63Z" fill="url(#hb1)"/>
<path d="M140.0,291.0 140.5,290.9 141.0,290.9 141.5,290.8 142.0,290.7 142.5,290.7 143.0,290.6 143.5,290.5 144.0,290.5 144.5,290.4 145.0,290.3 145.5,290.3 146.0,290.2 146.5,290.1 147.0,290.1 147.5,290.0 148.0,289.9 148.5,289.8 149.0,289.8 149.5,289.7 150.0,289.6 150.5,289.5 151.0,289.5 151.5,289.4 152.0,289.3 152.5,289.2 153.0,289.1 153.5,288.9 154.0,288.7 154.5,288.5 155.0,288.2 155.5,288.0 156.0,287.7 156.5,287.5 157.0,287.2 157.5,286.9 158.0,286.7 158.5,286.4 159.0,286.2 159.5,286.0 160.0,285.8 160.5,285.7 161.0,285.5 161.5,285.4 162.0,285.3 162.5,285.1 163.0,285.0 163.5,284.9 164.0,284.8 164.5,284.7 165.0,284.6 165.5,284.5 166.0,284.5 166.5,284.4 167.0,284.4 167.5,284.3 168.0,284.3 168.5,284.2 169.0,284.2 169.5,284.2 170.0,284.2 170.5,284.1 171.0,284.1 171.5,284.1 172.0,284.1 172.5,284.1 173.0,284.1 173.5,284.2 174.0,284.2 174.5,284.3 175.0,284.4 175.5,284.5 176.0,284.6 176.5,284.8 177.0,285.0 177.5,285.2 178.0,285.3 178.5,285.5 179.0,285.7 179.5,285.9 180.0,286.1 180.5,286.3 181.0,286.5 181.5,286.7 182.0,286.9 182.5,287.0 183.0,287.2 183.5,287.4 184.0,287.6 184.5,287.8 185.0,288.0 185.5,288.2 186.0,288.4 186.5,288.6 187.0,288.8 187.5,289.0 188.0,289.2 188.5,289.4 189.0,289.6 189.5,289.8 190.0,290.0 190.5,290.2 191.0,290.4 191.5,290.6 192.0,290.8 192.5,291.0 193.0,291.2 193.5,291.4 194.0,291.6 194.5,291.8 195.0,292.0 195.5,292.2 196.0,292.4 196.5,292.5 197.0,292.7 197.5,292.8 198.0,293.0 198.5,293.1 199.0,293.2 199.5,293.4 200.0,293.5 200.5,293.6 201.0,293.7 201.5,293.8 202.0,294.0 202.5,294.1 203.0,294.2 203.5,294.3 204.0,294.4 204.5,294.5 205.0,294.6 205.5,294.7 206.0,294.8 206.5,294.9 207.0,294.9 207.5,294.9 208.0,294.9 208.5,295.0 209.0,295.0 209.5,295.0 210.0,295.0 210.5,295.1 211.0,295.1 211.5,295.1 212.0,295.1 212.5,295.2 L212.50,295.17 L212.00,295.15 L211.50,295.12 L211.00,295.09 L210.50,295.07 L210.00,295.04 L209.50,295.02 L209.00,294.99 L208.50,294.96 L208.00,294.94 L207.50,294.91 L207.00,294.88 L206.50,294.86 L206.00,294.83 L205.50,294.80 L205.00,294.78 L204.50,294.75 L204.00,294.73 L203.50,294.70 L203.00,294.67 L202.50,294.65 L202.00,294.62 L201.50,294.59 L201.00,294.57 L200.50,294.54 L200.00,294.51 L199.50,294.49 L199.00,294.46 L198.50,294.44 L198.00,294.41 L197.50,294.38 L197.00,294.36 L196.50,294.33 L196.00,294.30 L195.50,294.28 L195.00,294.25 L194.50,294.22 L194.00,294.20 L193.50,294.17 L193.00,294.15 L192.50,294.12 L192.00,294.09 L191.50,294.07 L191.00,294.04 L190.50,294.01 L190.00,293.99 L189.50,293.96 L189.00,293.93 L188.50,293.91 L188.00,293.88 L187.50,293.85 L187.00,293.83 L186.50,293.80 L186.00,293.78 L185.50,293.75 L185.00,293.72 L184.50,293.70 L184.00,293.67 L183.50,293.64 L183.00,293.62 L182.50,293.59 L182.00,293.56 L181.50,293.54 L181.00,293.51 L180.50,293.49 L180.00,293.46 L179.50,293.43 L179.00,293.41 L178.50,293.38 L178.00,293.35 L177.50,293.33 L177.00,293.30 L176.50,293.27 L176.00,293.25 L175.50,293.22 L175.00,293.20 L174.50,293.17 L174.00,293.14 L173.50,293.12 L173.00,293.09 L172.50,293.06 L172.00,293.04 L171.50,293.01 L171.00,292.98 L170.50,292.96 L170.00,292.93 L169.50,292.91 L169.00,292.88 L168.50,292.85 L168.00,292.83 L167.50,292.80 L167.00,292.77 L166.50,292.75 L166.00,292.72 L165.50,292.69 L165.00,292.67 L164.50,292.64 L164.00,292.62 L163.50,292.59 L163.00,292.56 L162.50,292.54 L162.00,292.51 L161.50,292.48 L161.00,292.46 L160.50,292.43 L160.00,292.40 L159.50,292.38 L159.00,292.35 L158.50,292.33 L158.00,292.30 L157.50,292.27 L157.00,292.25 L156.50,292.22 L156.00,292.19 L155.50,292.17 L155.00,292.14 L154.50,292.11 L154.00,292.09 L153.50,292.06 L153.00,292.04 L152.50,292.01 L152.00,291.98 L151.50,291.96 L151.00,291.93 L150.50,291.90 L150.00,291.88 L149.50,291.85 L149.00,291.82 L148.50,291.80 L148.00,291.77 L147.50,291.75 L147.00,291.72 L146.50,291.69 L146.00,291.67 L145.50,291.64 L145.00,291.61 L144.50,291.59 L144.00,291.56 L143.50,291.53 L143.00,291.51 L142.50,291.48 L142.00,291.45 L141.50,291.43 L141.00,291.40 L140.50,291.38 L140.00,291.35Z" fill="url(#hb2)"/>
<path d="M31.5,286.2 32.0,286.3 32.5,286.3 33.0,286.3 33.5,286.3 34.0,286.4 34.5,286.4 35.0,286.4 35.5,286.4 36.0,286.5 36.5,286.5 37.0,286.5 37.5,286.6 38.0,286.6 38.5,286.6 39.0,286.6 39.5,286.7 40.0,286.7 40.5,286.7 41.0,286.7 41.5,286.8 42.0,286.8 42.5,286.8 43.0,286.9 43.5,286.9 44.0,286.9 44.5,286.9 45.0,287.0 45.5,287.0 46.0,287.0 46.5,287.1 47.0,287.1 47.5,287.1 48.0,287.1 48.5,287.2 49.0,287.2 49.5,287.2 50.0,287.2 50.5,287.3 51.0,287.3 51.5,287.3 52.0,287.4 52.5,287.4 53.0,287.4 53.5,287.4 54.0,287.5 54.5,287.5 55.0,287.5 55.5,287.5 56.0,287.6 56.5,287.6 57.0,287.6 57.5,287.7 58.0,287.7 58.5,287.7 59.0,287.7 59.5,287.8 60.0,287.8 60.5,287.8 61.0,287.8 61.5,287.9 62.0,287.9 62.5,287.9 63.0,288.0 63.5,288.0 64.0,288.0 64.5,288.0 65.0,288.1 65.5,288.1 66.0,288.1 66.5,288.2 67.0,288.2 67.5,288.2 68.0,288.2 68.5,288.3 69.0,288.3 69.5,288.3 70.0,288.3 70.5,288.4 71.0,288.4 71.5,288.4 72.0,288.5 72.5,288.5 73.0,288.5 73.5,288.5 74.0,288.6 74.5,288.6 75.0,288.6 75.5,288.6 76.0,288.7 76.5,288.7 77.0,288.7 77.5,288.8 78.0,288.8 78.5,288.8 79.0,288.8 79.5,288.9 80.0,288.9 80.5,288.9 81.0,288.9 81.5,289.0 82.0,289.0 82.5,289.0 83.0,289.1 83.5,289.1 84.0,289.1 84.5,289.1 85.0,289.2 85.5,289.2 86.0,289.2 86.5,289.2 87.0,289.3 87.5,289.3 88.0,289.3 88.5,289.4 89.0,289.4 89.5,289.4 90.0,289.4 90.5,289.5 91.0,289.5 91.5,289.5 92.0,289.6 92.5,289.6 93.0,289.6 93.5,289.6 94.0,289.7 94.5,289.7 95.0,289.7 95.5,289.7 96.0,289.8 96.5,289.8 97.0,289.8 97.5,289.9 98.0,289.9 98.5,289.9 99.0,289.9 99.5,290.0 100.0,290.0 100.5,290.0 101.0,290.0 101.5,290.1 102.0,290.1 102.5,290.1 103.0,290.2 103.5,290.2 104.0,290.2 104.5,290.2 105.0,290.3 105.5,290.3 106.0,290.3 106.5,290.3 107.0,290.4 107.5,290.4 108.0,290.4 108.5,290.5 109.0,290.5 109.5,290.5 110.0,290.5 110.5,290.6 111.0,290.6 111.5,290.6 112.0,290.7 112.5,290.7 113.0,290.7 113.5,290.7 114.0,290.8 114.5,290.8 115.0,290.8 115.5,290.8 116.0,290.9 116.5,290.9 117.0,290.9 117.5,291.0 118.0,291.0 118.5,291.0 119.0,291.0 119.5,291.1 120.0,291.1 120.5,291.1 121.0,291.1 121.5,291.2 122.0,291.2 122.5,291.2 123.0,291.3 123.5,291.3 124.0,291.3 124.5,291.3 125.0,291.4 125.5,291.4 126.0,291.4 126.5,291.4 127.0,291.5 127.5,291.5 128.0,291.5 128.5,291.6 129.0,291.6 129.5,291.6 130.0,291.6 130.5,291.7 131.0,291.7 131.5,291.7 132.0,291.7 132.5,291.8 133.0,291.8 133.5,291.8 134.0,291.9 134.5,291.9 135.0,291.9 135.5,291.9 136.0,292.0 136.5,292.0 137.0,292.0 137.5,292.1 138.0,292.1 138.5,292.1 139.0,292.1 139.5,292.2 140.0,292.2 140.5,292.2 141.0,292.2 141.5,292.3 142.0,292.3 142.5,292.3 143.0,292.4 143.5,292.4 144.0,292.4 144.5,292.4 145.0,292.5 145.5,292.5 146.0,292.5 146.5,292.5 147.0,292.6 147.5,292.6 148.0,292.6 148.5,292.7 149.0,292.7 149.5,292.7 150.0,292.7 150.5,292.8 151.0,292.8 151.5,292.8 152.0,292.8 152.5,292.9 153.0,292.9 153.5,292.9 154.0,293.0 154.5,293.0 155.0,293.0 155.5,293.0 156.0,293.1 156.5,293.1 157.0,293.1 157.5,293.2 158.0,293.2 158.5,293.2 159.0,293.2 159.5,293.3 160.0,293.3 160.5,293.3 161.0,293.3 161.5,293.4 162.0,293.4 162.5,293.4 163.0,293.5 163.5,293.5 164.0,293.5 164.5,293.5 165.0,293.6 165.5,293.6 166.0,293.6 166.5,293.6 167.0,293.7 167.5,293.7 168.0,293.7 168.5,293.8 169.0,293.8 169.5,293.8 170.0,293.8 170.5,293.9 171.0,293.9 171.5,293.9 172.0,293.9 172.5,294.0 173.0,294.0 173.5,294.0 174.0,294.1 174.5,294.1 175.0,294.1 175.5,294.1 176.0,294.2 176.5,294.2 177.0,294.2 177.5,294.2 178.0,294.3 178.5,294.3 179.0,294.3 179.5,294.4 180.0,294.4 180.5,294.4 181.0,294.4 181.5,294.5 182.0,294.5 182.5,294.5 183.0,294.6 183.5,294.6 184.0,294.6 184.5,294.6 185.0,294.7 185.5,294.7 186.0,294.7 186.5,294.7 187.0,294.8 187.5,294.8 188.0,294.8 188.5,294.9 189.0,294.9 189.5,294.9 190.0,294.9 190.5,295.0 191.0,295.0 191.5,295.0 192.0,295.0 192.5,295.1 193.0,295.1 193.5,295.1 194.0,295.2 194.5,295.2 195.0,295.2 195.5,295.2 196.0,295.3 196.5,295.3 197.0,295.3 197.5,295.3 198.0,295.4 198.5,295.4 199.0,295.4 199.5,295.5 200.0,295.5 200.5,295.5 201.0,295.5 201.5,295.6 202.0,295.6 202.5,295.6 203.0,295.7 203.5,295.7 204.0,295.7 204.5,295.7 205.0,295.8 205.5,295.8 206.0,295.8 206.5,295.8 207.0,295.9 207.5,295.9 208.0,295.9 208.5,296.0 209.0,296.0 209.5,296.0 210.0,296.0 210.5,296.1 211.0,296.1 211.5,296.1 212.0,296.1 212.5,296.2" fill="none" stroke="#1f7fec" stroke-width="1.1" stroke-linejoin="round" />
<path d="M31.5,285.6 32.0,285.7 32.5,285.7 33.0,285.7 33.5,285.7 34.0,285.8 34.5,285.8 35.0,285.8 35.5,285.8 36.0,285.9 36.5,285.9 37.0,285.9 37.5,285.9 38.0,286.0 38.5,286.0 39.0,286.0 39.5,286.0 40.0,286.1 40.5,286.1 41.0,286.1 41.5,286.2 42.0,286.2 42.5,286.2 43.0,286.2 43.5,286.3 44.0,286.3 44.5,286.3 45.0,286.3 45.5,286.4 46.0,286.4 46.5,286.4 47.0,286.4 47.5,286.5 48.0,286.5 48.5,286.5 49.0,286.5 49.5,286.6 50.0,286.6 50.5,286.6 51.0,286.7 51.5,286.7 52.0,286.7 52.5,286.7 53.0,286.8 53.5,286.8 54.0,286.8 54.5,286.8 55.0,286.9 55.5,286.9 56.0,286.9 56.5,286.9 57.0,287.0 57.5,287.0 58.0,287.0 58.5,287.1 59.0,287.1 59.5,287.1 60.0,287.1 60.5,287.2 61.0,287.2 61.5,287.2 62.0,287.2 62.5,287.3 63.0,287.3 63.5,287.3 64.0,287.3 64.5,287.4 65.0,287.4 65.5,287.4 66.0,287.4 66.5,287.5 67.0,287.5 67.5,287.5 68.0,287.6 68.5,287.6 69.0,287.6 69.5,287.6 70.0,287.7 70.5,287.7 71.0,287.7 71.5,287.7 72.0,287.8 72.5,287.8 73.0,287.8 73.5,287.8 74.0,287.9 74.5,287.9 75.0,287.9 75.5,287.9 76.0,288.0 76.5,288.0 77.0,288.0 77.5,288.1 78.0,288.1 78.5,288.1 79.0,288.1 79.5,288.2 80.0,288.2 80.5,288.2 81.0,288.2 81.5,288.3 82.0,288.3 82.5,288.3 83.0,288.3 83.5,288.4 84.0,288.4 84.5,288.4 85.0,288.4 85.5,288.5 86.0,288.5 86.5,288.5 87.0,288.6 87.5,288.6 88.0,288.6 88.5,288.6 89.0,288.7 89.5,288.7 90.0,288.7 90.5,288.7 91.0,288.8 91.5,288.8 92.0,288.8 92.5,288.8 93.0,288.9 93.5,288.9 94.0,288.9 94.5,288.9 95.0,289.0 95.5,289.0 96.0,289.0 96.5,289.1 97.0,289.1 97.5,289.1 98.0,289.1 98.5,289.2 99.0,289.2 99.5,289.2 100.0,289.2 100.5,289.3 101.0,289.3 101.5,289.3 102.0,289.3 102.5,289.4 103.0,289.4 103.5,289.4 104.0,289.5 104.5,289.5 105.0,289.5 105.5,289.5 106.0,289.6 106.5,289.6 107.0,289.6 107.5,289.6 108.0,289.7 108.5,289.7 109.0,289.7 109.5,289.7 110.0,289.8 110.5,289.8 111.0,289.8 111.5,289.8 112.0,289.9 112.5,289.9 113.0,289.9 113.5,290.0 114.0,290.0 114.5,290.0 115.0,290.0 115.5,290.1 116.0,290.1 116.5,290.1 117.0,290.1 117.5,290.2 118.0,290.2 118.5,290.2 119.0,290.2 119.5,290.3 120.0,290.3 120.5,290.3 121.0,290.3 121.5,290.4 122.0,290.4 122.5,290.4 123.0,290.5 123.5,290.5 124.0,290.5 124.5,290.5 125.0,290.6 125.5,290.6 126.0,290.6 126.5,290.6 127.0,290.7 127.5,290.7 128.0,290.7 128.5,290.7 129.0,290.8 129.5,290.8 130.0,290.8 130.5,290.8 131.0,290.9 131.5,290.9 132.0,290.9 132.5,291.0 133.0,291.0 133.5,291.0 134.0,291.0 134.5,291.1 135.0,291.1 135.5,291.1 136.0,291.1 136.5,291.2 137.0,291.2 137.5,291.2 138.0,291.2 138.5,291.3 139.0,291.3 139.5,291.3 140.0,291.3 140.5,291.4 141.0,291.4 141.5,291.4 142.0,291.5 142.5,291.5 143.0,291.5 143.5,291.5 144.0,291.6 144.5,291.6 145.0,291.6 145.5,291.6 146.0,291.7 146.5,291.7 147.0,291.7 147.5,291.7 148.0,291.8 148.5,291.8 149.0,291.8 149.5,291.9 150.0,291.9 150.5,291.9 151.0,291.9 151.5,292.0 152.0,292.0 152.5,292.0 153.0,292.0 153.5,292.1 154.0,292.1 154.5,292.1 155.0,292.1 155.5,292.2 156.0,292.2 156.5,292.2 157.0,292.2 157.5,292.3 158.0,292.3 158.5,292.3 159.0,292.4 159.5,292.4 160.0,292.4 160.5,292.4 161.0,292.5 161.5,292.5 162.0,292.5 162.5,292.5 163.0,292.6 163.5,292.6 164.0,292.6 164.5,292.6 165.0,292.7 165.5,292.7 166.0,292.7 166.5,292.7 167.0,292.8 167.5,292.8 168.0,292.8 168.5,292.9 169.0,292.9 169.5,292.9 170.0,292.9 170.5,293.0 171.0,293.0 171.5,293.0 172.0,293.0 172.5,293.1 173.0,293.1 173.5,293.1 174.0,293.1 174.5,293.2 175.0,293.2 175.5,293.2 176.0,293.2 176.5,293.3 177.0,293.3 177.5,293.3 178.0,293.4 178.5,293.4 179.0,293.4 179.5,293.4 180.0,293.5 180.5,293.5 181.0,293.5 181.5,293.5 182.0,293.6 182.5,293.6 183.0,293.6 183.5,293.6 184.0,293.7 184.5,293.7 185.0,293.7 185.5,293.7 186.0,293.8 186.5,293.8 187.0,293.8 187.5,293.9 188.0,293.9 188.5,293.9 189.0,293.9 189.5,294.0 190.0,294.0 190.5,294.0 191.0,294.0 191.5,294.1 192.0,294.1 192.5,294.1 193.0,294.1 193.5,294.2 194.0,294.2 194.5,294.2 195.0,294.3 195.5,294.3 196.0,294.3 196.5,294.3 197.0,294.4 197.5,294.4 198.0,294.4 198.5,294.4 199.0,294.5 199.5,294.5 200.0,294.5 200.5,294.5 201.0,294.6 201.5,294.6 202.0,294.6 202.5,294.6 203.0,294.7 203.5,294.7 204.0,294.7 204.5,294.8 205.0,294.8 205.5,294.8 206.0,294.8 206.5,294.9 207.0,294.9 207.5,294.9 208.0,294.9 208.5,295.0 209.0,295.0 209.5,295.0 210.0,295.0 210.5,295.1 211.0,295.1 211.5,295.1 212.0,295.1 212.5,295.2" fill="none" stroke="#8cc8f8" stroke-width="1.0" stroke-linejoin="round" />
<path d="M31.5,285.6 32.0,285.7 32.5,285.7 33.0,285.7 33.5,285.7 34.0,285.8 34.5,285.8 35.0,285.8 35.5,285.8 36.0,285.9 36.5,285.9 37.0,285.9 37.5,285.9 38.0,286.0 38.5,286.0 39.0,286.0 39.5,286.0 40.0,286.1 40.5,286.1 41.0,286.1 41.5,286.2 42.0,286.2 42.5,286.2 43.0,286.2 43.5,286.3 44.0,286.3 44.5,286.3 45.0,286.3 45.5,286.4 46.0,286.4 46.5,286.4 47.0,286.4 47.5,286.5 48.0,286.5 48.5,286.5 49.0,286.5 49.5,286.6 50.0,286.6 50.5,286.6 51.0,286.6 51.5,286.6 52.0,286.7 52.5,286.7 53.0,286.7 53.5,286.7 54.0,286.7 54.5,286.8 55.0,286.8 55.5,286.8 56.0,286.8 56.5,286.9 57.0,286.9 57.5,286.9 58.0,286.9 58.5,286.9 59.0,287.0 59.5,287.0 60.0,287.0 60.5,287.0 61.0,287.0 61.5,287.1 62.0,287.1 62.5,287.1 63.0,287.1 63.5,287.1 64.0,287.2 64.5,287.2 65.0,287.2 65.5,287.2 66.0,287.2 66.5,287.2 67.0,287.3 67.5,287.3 68.0,287.3 68.5,287.3 69.0,287.3 69.5,287.3 70.0,287.3 70.5,287.4 71.0,287.4 71.5,287.4 72.0,287.4 72.5,287.4 73.0,287.4 73.5,287.4 74.0,287.5 74.5,287.5 75.0,287.5 75.5,287.5 76.0,287.5 76.5,287.5 77.0,287.5 77.5,287.5 78.0,287.6 78.5,287.6 79.0,287.6 79.5,287.6 80.0,287.6 80.5,287.6 81.0,287.6 81.5,287.6 82.0,287.6 82.5,287.6 83.0,287.7 83.5,287.7 84.0,287.7 84.5,287.7 85.0,287.7 85.5,287.7 86.0,287.7 86.5,287.7 87.0,287.6 87.5,287.6 88.0,287.6 88.5,287.6 89.0,287.6 89.5,287.6 90.0,287.6 90.5,287.5 91.0,287.5 91.5,287.5 92.0,287.5 92.5,287.4 93.0,287.4 93.5,287.3 94.0,287.3 94.5,287.2 95.0,287.2 95.5,287.1 96.0,287.1 96.5,287.0 97.0,286.9 97.5,286.9 98.0,286.8 98.5,286.7 99.0,286.6 99.5,286.5 100.0,286.4 100.5,286.3 101.0,286.2 101.5,286.1 102.0,286.0 102.5,285.9 103.0,285.8 103.5,285.7 104.0,285.6 104.5,285.5 105.0,285.4 105.5,285.3 106.0,285.2 106.5,285.1 107.0,284.9 107.5,284.8 108.0,284.7 108.5,284.6 109.0,284.4 109.5,284.3 110.0,284.2 110.5,284.1 111.0,283.9 111.5,283.8 112.0,283.7 112.5,283.6 113.0,283.5 113.5,283.4 114.0,283.3 114.5,283.2 115.0,283.2 115.5,283.1 116.0,283.1 116.5,283.0 117.0,283.0 117.5,282.9 118.0,282.9 118.5,282.9 119.0,282.9 119.5,282.8 120.0,282.8 120.5,282.8 121.0,282.8 121.5,282.8 122.0,282.8 122.5,282.8 123.0,282.8 123.5,282.8 124.0,282.8 124.5,282.9 125.0,282.9 125.5,283.0 126.0,283.0 126.5,283.1 127.0,283.2 127.5,283.3 128.0,283.4 128.5,283.5 129.0,283.6 129.5,283.7 130.0,283.9 130.5,284.0 131.0,284.2 131.5,284.4 132.0,284.6 132.5,284.7 133.0,284.9 133.5,285.1 134.0,285.3 134.5,285.5 135.0,285.8 135.5,286.0 136.0,286.2 136.5,286.4 137.0,286.7 137.5,286.9 138.0,287.2 138.5,287.4 139.0,287.7 139.5,287.9 140.0,288.1 140.5,288.4 141.0,288.6 141.5,288.8 142.0,289.0 142.5,289.2 143.0,289.4 143.5,289.6 144.0,289.8 144.5,289.9 145.0,290.1 145.5,290.3 146.0,290.4 146.5,290.5 147.0,290.7 147.5,290.8 148.0,290.9 148.5,291.0 149.0,291.1 149.5,291.2 150.0,291.2 150.5,291.3 151.0,291.4 151.5,291.4 152.0,291.4 152.5,291.5 153.0,291.5 153.5,291.5 154.0,291.6 154.5,291.6 155.0,291.6" fill="none" stroke="#5aaef4" stroke-width="1.3" stroke-linejoin="round" />
<g fill="#5aaef4"><circle cx="31.5" cy="285.6" r="1.0"/><circle cx="34.5" cy="285.8" r="1.0"/><circle cx="37.5" cy="285.9" r="1.0"/><circle cx="40.5" cy="286.1" r="1.0"/><circle cx="43.5" cy="286.3" r="1.0"/><circle cx="46.5" cy="286.4" r="1.0"/><circle cx="49.5" cy="286.6" r="1.0"/><circle cx="52.5" cy="286.7" r="1.0"/><circle cx="55.5" cy="286.8" r="1.0"/><circle cx="58.5" cy="286.9" r="1.0"/><circle cx="61.5" cy="287.1" r="1.0"/><circle cx="64.5" cy="287.2" r="1.0"/><circle cx="67.5" cy="287.3" r="1.0"/><circle cx="70.5" cy="287.4" r="1.0"/><circle cx="73.5" cy="287.4" r="1.0"/><circle cx="76.5" cy="287.5" r="1.0"/><circle cx="79.5" cy="287.6" r="1.0"/><circle cx="82.5" cy="287.6" r="1.0"/><circle cx="85.5" cy="287.7" r="1.0"/><circle cx="88.5" cy="287.6" r="1.0"/><circle cx="91.5" cy="287.5" r="1.0"/><circle cx="94.5" cy="287.2" r="1.0"/><circle cx="97.5" cy="286.9" r="1.0"/><circle cx="100.5" cy="286.3" r="1.0"/><circle cx="103.5" cy="285.7" r="1.0"/><circle cx="106.5" cy="285.1" r="1.0"/><circle cx="109.5" cy="284.3" r="1.0"/><circle cx="112.5" cy="283.6" r="1.0"/><circle cx="115.5" cy="283.1" r="1.0"/><circle cx="118.5" cy="282.9" r="1.0"/><circle cx="121.5" cy="282.8" r="1.0"/><circle cx="124.5" cy="282.9" r="1.0"/><circle cx="127.5" cy="283.3" r="1.0"/><circle cx="130.5" cy="284.0" r="1.0"/><circle cx="133.5" cy="285.1" r="1.0"/><circle cx="136.5" cy="286.4" r="1.0"/><circle cx="139.5" cy="287.9" r="1.0"/><circle cx="142.5" cy="289.2" r="1.0"/><circle cx="145.5" cy="290.3" r="1.0"/><circle cx="148.5" cy="291.0" r="1.0"/><circle cx="151.5" cy="291.4" r="1.0"/><circle cx="154.5" cy="291.6" r="1.0"/></g>
<path d="M31.5,285.6 32.0,285.6 32.5,285.6 33.0,285.6 33.5,285.6 34.0,285.6 34.5,285.6 35.0,285.6 35.5,285.6 36.0,285.6 36.5,285.6 37.0,285.6 37.5,285.6 38.0,285.6 38.5,285.6 39.0,285.6 39.5,285.6 40.0,285.6 40.5,285.6 41.0,285.6 41.5,285.6 42.0,285.6 42.5,285.6 43.0,285.6 43.5,285.6 44.0,285.6 44.5,285.6 45.0,285.6 45.5,285.6 46.0,285.6 46.5,285.6 47.0,285.6 47.5,285.6 48.0,285.6 48.5,285.6 49.0,285.6 49.5,285.6 50.0,285.6 50.5,285.6 51.0,285.6 51.5,285.6 52.0,285.6 52.5,285.6 53.0,285.7 53.5,285.7 54.0,285.7 54.5,285.7 55.0,285.7 55.5,285.7 56.0,285.7 56.5,285.7 57.0,285.7 57.5,285.7 58.0,285.7 58.5,285.7 59.0,285.7 59.5,285.8 60.0,285.8 60.5,285.8 61.0,285.8 61.5,285.8 62.0,285.8 62.5,285.8 63.0,285.8 63.5,285.8 64.0,285.8 64.5,285.8 65.0,285.8 65.5,285.9 66.0,285.9 66.5,285.9 67.0,285.9 67.5,285.9 68.0,285.9 68.5,285.9 69.0,285.9 69.5,285.9 70.0,285.9 70.5,285.9 71.0,285.9 71.5,285.9 72.0,285.8 72.5,285.8 73.0,285.7 73.5,285.7 74.0,285.6 74.5,285.5 75.0,285.5 75.5,285.4 76.0,285.3 76.5,285.2 77.0,285.1 77.5,285.0 78.0,284.9 78.5,284.8 79.0,284.6 79.5,284.5 80.0,284.4 80.5,284.3 81.0,284.2 81.5,284.0 82.0,283.9 82.5,283.7 83.0,283.4 83.5,283.2 84.0,282.9 84.5,282.6 85.0,282.3 85.5,282.0 86.0,281.6 86.5,281.3 87.0,280.9 87.5,280.5 88.0,280.1 88.5,279.7 89.0,279.2 89.5,278.6 90.0,278.0 90.5,277.3 91.0,276.6 91.5,275.9 92.0,275.0 92.5,274.1 93.0,273.2 93.5,272.1 94.0,271.0 94.5,269.9 95.0,268.6 95.5,267.3 96.0,265.9 96.5,264.4 97.0,262.7 97.5,261.0 98.0,259.3 98.5,257.7 99.0,256.3 99.5,255.1 100.0,253.9 100.5,252.7 101.0,251.5 101.5,250.2 102.0,248.9 102.5,247.6 103.0,246.3 103.5,245.0 104.0,243.7 104.5,242.4 105.0,241.1 105.5,239.8 106.0,238.5 106.5,237.3 107.0,236.2 107.5,235.2 108.0,234.3 108.5,233.3 109.0,232.4 109.5,231.4 110.0,230.2 110.5,229.0 111.0,227.5 111.5,225.8 112.0,223.9 112.5,222.0 113.0,220.0 113.5,218.1 114.0,216.3 114.5,214.6 115.0,213.1 115.5,211.7 116.0,210.3 116.5,209.0 117.0,207.8 117.5,206.7 118.0,205.6 118.5,204.6 119.0,203.7 119.5,202.9 120.0,202.3 120.5,201.8 121.0,201.4 121.5,201.1 122.0,200.9 122.5,200.8 123.0,200.8 123.5,200.9 124.0,201.0 124.5,201.3 125.0,201.5 125.5,201.9 126.0,202.4 126.5,202.9 127.0,203.5 127.5,204.3 128.0,205.1 128.5,206.0 129.0,206.9 129.5,207.9 130.0,209.0 130.5,210.2 131.0,211.4 131.5,212.6 132.0,214.0 132.5,215.5 133.0,217.0 133.5,218.6 134.0,220.2 134.5,221.9 135.0,223.6 135.5,225.3 136.0,227.0 136.5,228.8 137.0,230.6 137.5,232.5 138.0,234.4 138.5,236.4 139.0,238.3 139.5,240.4 140.0,242.4 140.5,244.4 141.0,246.4 141.5,248.4 142.0,250.4 142.5,252.3 143.0,254.2 143.5,256.1 144.0,257.9 144.5,259.7 145.0,261.5 145.5,263.2 146.0,264.9 146.5,266.6 147.0,268.1 147.5,269.5 148.0,270.9 148.5,272.2 149.0,273.4 149.5,274.6 150.0,275.7 150.5,276.8 151.0,277.8 151.5,278.8 152.0,279.8 152.5,280.7 153.0,281.6 153.5,282.4 154.0,283.2 154.5,283.9 155.0,284.6 155.5,285.2 156.0,285.7 156.5,286.2 157.0,286.6 157.5,287.1 158.0,287.5 158.5,287.9 159.0,288.3 159.5,288.7 160.0,289.0 160.5,289.4 161.0,289.7 161.5,290.0 162.0,290.3 162.5,290.6 163.0,290.9 163.5,291.1 164.0,291.3 164.5,291.5 165.0,291.6 165.5,291.7 166.0,291.7 166.5,291.8 167.0,291.8 167.5,291.9 168.0,291.9 168.5,292.0 169.0,292.0 169.5,292.1 170.0,292.2 170.5,292.2 171.0,292.3 171.5,292.3 172.0,292.4 172.5,292.4 173.0,292.5 173.5,292.5 174.0,292.6 174.5,292.6 175.0,292.7 175.5,292.7 176.0,292.7 176.5,292.8 177.0,292.8 177.5,292.9 178.0,292.9 178.5,293.0 179.0,293.0 179.5,293.1 180.0,293.1 180.5,293.1 181.0,293.2 181.5,293.2 182.0,293.3 182.5,293.3 183.0,293.3 183.5,293.4 184.0,293.4 184.5,293.5 185.0,293.5 185.5,293.5 186.0,293.6 186.5,293.6 187.0,293.7 187.5,293.7 188.0,293.7 188.5,293.8 189.0,293.8 189.5,293.9 190.0,293.9 190.5,293.9 191.0,294.0 191.5,294.0 192.0,294.0 192.5,294.1 193.0,294.1 193.5,294.2 194.0,294.2 194.5,294.2 195.0,294.3 195.5,294.3 196.0,294.4 196.5,294.4 197.0,294.4 197.5,294.5 198.0,294.5 198.5,294.6 199.0,294.6 199.5,294.6 200.0,294.7 200.5,294.7 201.0,294.8 201.5,294.8 202.0,294.8 202.5,294.9 203.0,294.9 203.5,294.9 204.0,295.0 204.5,295.0 205.0,295.1 205.5,295.1 206.0,295.1 206.5,295.2 207.0,295.2 207.5,295.2 208.0,295.3 208.5,295.3 209.0,295.4 209.5,295.4 210.0,295.4 210.5,295.5 211.0,295.5 211.5,295.5 212.0,295.6 212.5,295.6" fill="none" stroke="#f27cc0" stroke-width="1.3" stroke-linejoin="round" />
<path fill="#f27cc0" d="M30.9,284.3L35.1,284.3L33.0,287.7ZM35.9,284.3L40.1,284.3L38.0,287.7ZM40.9,284.3L45.1,284.3L43.0,287.7ZM45.9,284.3L50.1,284.3L48.0,287.7ZM50.9,284.4L55.1,284.4L53.0,287.8ZM55.9,284.5L60.1,284.5L58.0,287.8ZM60.9,284.6L65.1,284.6L63.0,287.9ZM65.9,284.6L70.1,284.6L68.0,288.0ZM70.9,284.5L75.1,284.5L73.0,287.8ZM75.9,283.6L80.1,283.6L78.0,287.0ZM80.9,282.2L85.1,282.2L83.0,285.5ZM85.9,278.9L90.1,278.9L88.0,282.2ZM90.9,271.9L95.1,271.9L93.0,275.3ZM95.9,258.0L100.1,258.0L98.0,261.4ZM100.9,245.1L105.1,245.1L103.0,248.4ZM105.9,233.0L110.1,233.0L108.0,236.4ZM110.9,218.7L115.1,218.7L113.0,222.1ZM115.9,204.3L120.1,204.3L118.0,207.7ZM120.9,199.5L125.1,199.5L123.0,202.9ZM125.9,203.8L130.1,203.8L128.0,207.2ZM130.9,215.7L135.1,215.7L133.0,219.1ZM135.9,233.1L140.1,233.1L138.0,236.5ZM140.9,252.9L145.1,252.9L143.0,256.3ZM145.9,269.6L150.1,269.6L148.0,273.0ZM150.9,280.3L155.1,280.3L153.0,283.7ZM155.9,286.3L160.1,286.3L158.0,289.6ZM160.9,289.6L165.1,289.6L163.0,293.0ZM165.9,290.7L170.1,290.7L168.0,294.0ZM170.9,291.2L175.1,291.2L173.0,294.6ZM175.9,291.7L180.1,291.7L178.0,295.0ZM180.9,292.1L185.1,292.1L183.0,295.4ZM185.9,292.5L190.1,292.5L188.0,295.8ZM190.9,292.9L195.1,292.9L193.0,296.2ZM195.9,293.3L200.1,293.3L198.0,296.6ZM200.9,293.7L205.1,293.7L203.0,297.0ZM205.9,294.0L210.1,294.0L208.0,297.4Z"/>
<path d="M58.9,268.6 59.4,267.3 59.9,265.9 60.4,264.6 60.9,263.2 61.4,261.8 61.9,260.4 62.4,259.0 62.9,257.6 63.4,256.2 63.9,254.7 64.4,253.2 64.9,251.7 65.4,250.2 65.9,248.7 66.4,247.4 66.9,246.3 67.4,245.4 67.9,244.4 68.4,243.2 68.9,241.8 69.4,240.1 69.9,238.3 70.4,236.3 70.9,234.4 71.4,232.6 71.9,230.8 72.4,229.1 72.9,227.5 73.4,225.8 73.9,224.1 74.4,222.5 74.9,220.8 75.4,219.2 75.9,217.5 76.4,215.9 76.9,214.2 77.4,212.7 77.9,211.4 78.4,210.4 78.9,209.6 79.4,208.8 79.9,208.1 80.4,207.4 80.9,206.8 81.4,206.3 81.9,205.8 82.4,205.5 82.9,205.2 83.4,204.9 83.9,204.7 84.4,204.7 84.9,204.8 85.4,205.0 85.9,205.5 86.4,205.9 86.9,206.4 87.4,206.9 87.9,207.4 88.4,207.9 88.9,208.5 89.4,209.0 89.9,209.6 90.4,210.2 90.9,210.7 91.4,211.3 91.9,211.9 92.4,212.5 92.9,213.2 93.4,213.8 93.9,214.4 94.4,215.0 94.9,215.6 95.4,216.2 95.9,216.8 96.4,217.3 96.9,217.8 97.4,218.2 97.9,218.5 98.4,218.8 98.9,219.1 99.4,219.3 99.9,219.4 100.4,219.6 100.9,219.6 101.4,219.6 101.9,219.6 102.4,219.4 102.9,219.1 103.4,218.8 103.9,218.3 104.4,217.8 104.9,217.1 105.4,216.4 105.9,215.6 106.4,214.8 106.9,213.9 107.4,213.0 107.9,212.1 108.4,211.2 108.9,210.2 109.4,209.2 109.9,208.1 110.4,207.1 110.9,206.0 111.4,204.9 111.9,203.7 112.4,202.5 112.9,201.3 113.4,200.2 113.9,199.0 114.4,197.8 114.9,196.7 115.4,195.6 115.9,194.6 116.4,193.6 116.9,192.7 117.4,191.8 117.9,191.0 118.4,190.3 118.9,189.5 119.4,188.9 119.9,188.3 120.4,187.8 120.9,187.4 121.4,187.2 121.9,187.1 122.4,187.1 122.9,187.1 123.4,187.3 123.9,187.5 124.4,187.8 124.9,188.2 125.4,188.7 125.9,189.2 126.4,189.9 126.9,190.6 127.4,191.4 127.9,192.3 128.4,193.2 128.9,194.2 129.4,195.3 129.9,196.5 130.4,197.7 130.9,199.0 131.4,200.5 131.9,202.1 132.4,203.8 132.9,205.6 133.4,207.4 133.9,209.2 134.4,211.0 134.9,212.8 135.4,214.6 135.9,216.5 136.4,218.3 136.9,220.2 137.4,222.0 137.9,223.9 138.4,225.7 138.9,227.4 139.4,229.2 139.9,231.0 140.4,233.2 140.9,236.0 141.4,238.9 141.9,241.5 142.4,243.5 142.9,245.5 143.4,247.4 143.9,249.2 144.4,250.9 144.9,252.6 145.4,254.1 145.9,255.6 146.4,257.0 146.9,258.4 147.4,259.7 147.9,261.0 148.4,262.3 148.9,263.4 149.4,264.6 149.9,265.6 150.4,266.6 150.9,267.6 151.4,268.5 151.9,269.4 152.4,270.3 152.9,271.1 153.4,271.8 153.9,272.5 154.4,273.1 154.9,273.6 155.4,274.1 155.9,274.5 156.4,275.0 156.9,275.4 157.4,275.8 157.9,276.2 158.4,276.6 158.9,277.0 159.4,277.3 159.9,277.6 160.4,277.9 160.9,278.2 161.4,278.4 161.9,278.6 162.4,278.8 162.9,279.0 163.4,279.2 163.9,279.4 164.4,279.5 164.9,279.7 165.4,279.9 165.9,280.1 166.4,280.3 166.9,280.5 167.4,280.7 167.9,280.9 168.4,281.0 168.9,281.2 169.4,281.4 169.9,281.6 170.4,281.8 170.9,282.0 171.4,282.2 171.9,282.4 172.4,282.6 172.9,282.7 173.4,282.9 173.9,283.1 174.4,283.3 174.9,283.5 175.4,283.7 175.9,283.9 176.4,284.1 176.9,284.3 177.4,284.4 177.9,284.6 178.4,284.8 178.9,285.0 179.4,285.2 179.9,285.4 180.4,285.6 180.9,285.8 181.4,286.0 181.9,286.2 182.4,286.4 182.9,286.7 183.4,286.9 183.9,287.1 184.4,287.3 184.9,287.5 185.4,287.7 185.9,287.9 186.4,288.1 186.9,288.3 187.4,288.5 187.9,288.7 188.4,288.9 188.9,289.1 189.4,289.4 189.9,289.6 190.4,289.8 190.9,290.0 191.4,290.2 191.9,290.4 192.4,290.6 192.9,290.9 193.4,291.1 193.9,291.3 194.4,291.5 194.9,291.7 195.4,291.9 195.9,292.0 196.4,292.2 196.9,292.4 197.4,292.6 197.9,292.7 198.4,292.9 198.9,293.0 199.4,293.2 199.9,293.3 200.4,293.5 200.9,293.6 201.4,293.7 201.9,293.9 202.4,294.0 202.9,294.1 203.4,294.3 203.9,294.4 204.4,294.5 204.9,294.7 205.4,294.8 205.9,294.9 206.4,295.1 206.9,295.2 207.4,295.3 207.9,295.4 208.4,295.6 208.9,295.7 209.4,295.8 209.9,296.0 210.4,296.1 210.9,296.2 211.4,296.3 211.9,296.4 212.4,296.6" fill="none" stroke="#2b9d7b" stroke-width="2.5" stroke-linejoin="round" />
<path d="M140.0,291.0 140.5,290.9 141.0,290.9 141.5,290.8 142.0,290.7 142.5,290.7 143.0,290.6 143.5,290.5 144.0,290.5 144.5,290.4 145.0,290.3 145.5,290.3 146.0,290.2 146.5,290.1 147.0,290.1 147.5,290.0 148.0,289.9 148.5,289.8 149.0,289.8 149.5,289.7 150.0,289.6 150.5,289.5 151.0,289.5 151.5,289.4 152.0,289.3 152.5,289.2 153.0,289.1 153.5,288.9 154.0,288.7 154.5,288.5 155.0,288.2 155.5,288.0 156.0,287.7 156.5,287.5 157.0,287.2 157.5,286.9 158.0,286.7 158.5,286.4 159.0,286.2 159.5,286.0 160.0,285.8 160.5,285.7 161.0,285.5 161.5,285.4 162.0,285.3 162.5,285.1 163.0,285.0 163.5,284.9 164.0,284.8 164.5,284.7 165.0,284.6 165.5,284.5 166.0,284.5 166.5,284.4 167.0,284.4 167.5,284.3 168.0,284.3 168.5,284.2 169.0,284.2 169.5,284.2 170.0,284.2 170.5,284.1 171.0,284.1 171.5,284.1 172.0,284.1" fill="none" stroke="#1f7fec" stroke-width="1.5" stroke-linejoin="round" />
<path d="M172.5,284.1 173.0,284.1 173.5,284.2 174.0,284.2 174.5,284.3 175.0,284.4 175.5,284.5 176.0,284.6 176.5,284.8 177.0,285.0 177.5,285.2 178.0,285.3 178.5,285.5 179.0,285.7 179.5,285.9 180.0,286.1 180.5,286.3 181.0,286.5 181.5,286.7 182.0,286.9 182.5,287.0 183.0,287.2 183.5,287.4 184.0,287.6 184.5,287.8 185.0,288.0 185.5,288.2 186.0,288.4 186.5,288.6 187.0,288.8 187.5,289.0 188.0,289.2 188.5,289.4 189.0,289.6 189.5,289.8 190.0,290.0 190.5,290.2 191.0,290.4 191.5,290.6 192.0,290.8 192.5,291.0 193.0,291.2 193.5,291.4 194.0,291.6 194.5,291.8 195.0,292.0 195.5,292.2 196.0,292.4 196.5,292.5 197.0,292.7 197.5,292.8 198.0,293.0 198.5,293.1 199.0,293.2 199.5,293.4 200.0,293.5 200.5,293.6 201.0,293.7 201.5,293.8 202.0,294.0 202.5,294.1 203.0,294.2 203.5,294.3 204.0,294.4 204.5,294.5 205.0,294.6 205.5,294.7 206.0,294.8 206.5,294.9 207.0,294.9 207.5,294.9 208.0,294.9 208.5,295.0 209.0,295.0 209.5,295.0 210.0,295.0 210.5,295.1 211.0,295.1 211.5,295.1 212.0,295.1 212.5,295.2" fill="none" stroke="#1f7fec" stroke-width="2.0" stroke-linejoin="round" />
<g fill="#1f7fec"><circle cx="140.0" cy="291.0" r="1.2"/><circle cx="143.0" cy="290.6" r="1.2"/><circle cx="146.0" cy="290.2" r="1.2"/><circle cx="149.0" cy="289.8" r="1.2"/><circle cx="152.0" cy="289.3" r="1.2"/><circle cx="155.0" cy="288.2" r="1.2"/><circle cx="158.0" cy="286.7" r="1.2"/><circle cx="161.0" cy="285.5" r="1.2"/><circle cx="164.0" cy="284.8" r="1.2"/><circle cx="167.0" cy="284.4" r="1.2"/><circle cx="170.0" cy="284.2" r="1.2"/><circle cx="173.0" cy="284.1" r="1.2"/><circle cx="176.0" cy="284.6" r="1.2"/><circle cx="179.0" cy="285.7" r="1.2"/><circle cx="182.0" cy="286.9" r="1.2"/><circle cx="185.0" cy="288.0" r="1.2"/><circle cx="188.0" cy="289.2" r="1.2"/><circle cx="191.0" cy="290.4" r="1.2"/><circle cx="194.0" cy="291.6" r="1.2"/><circle cx="197.0" cy="292.7" r="1.2"/><circle cx="200.0" cy="293.5" r="1.2"/><circle cx="203.0" cy="294.2" r="1.2"/><circle cx="206.0" cy="294.8" r="1.2"/><circle cx="209.0" cy="295.0" r="1.2"/><circle cx="212.0" cy="295.1" r="1.2"/></g>
<path d="M31.5,284.9 32.0,285.0 32.5,285.0 33.0,285.1 33.5,285.1 34.0,285.1 34.5,285.2 35.0,285.2 35.5,285.2 36.0,285.2 36.5,285.2 37.0,285.2 37.5,285.2 38.0,285.2 38.5,285.2 39.0,285.2 39.5,285.1 40.0,285.1 40.5,285.1 41.0,285.0 41.5,285.0 42.0,284.9 42.5,284.8 43.0,284.7 43.5,284.6 44.0,284.5 44.5,284.3 45.0,284.2 45.5,284.1 46.0,283.9 46.5,283.7 47.0,283.5 47.5,283.3 48.0,283.1 48.5,282.9 49.0,282.6 49.5,282.3 50.0,282.0 50.5,281.6 51.0,281.2 51.5,280.6 52.0,280.1 52.5,279.4 53.0,278.8 53.5,278.1 54.0,277.5 54.5,276.9 55.0,276.2 55.5,275.6 56.0,275.0 56.5,274.3 57.0,273.5 57.5,272.7 58.0,271.8 58.5,270.8 59.0,269.7 59.5,268.4 60.0,267.1 60.5,265.8 61.0,264.4 61.5,263.0 62.0,261.5 62.5,260.1 63.0,258.6 63.5,257.1 64.0,255.6 64.5,254.1 65.0,252.6 65.5,251.2 66.0,249.7 66.5,248.5 67.0,247.4 67.5,246.4 68.0,245.4 68.5,244.2 69.0,242.9 69.5,241.3 70.0,239.3 70.5,237.2 71.0,235.2 71.5,233.3 72.0,231.7 72.5,230.5 73.0,229.4 73.5,228.0 74.0,226.4 74.5,224.7 75.0,222.9 75.5,221.1 76.0,219.3 76.5,217.6 77.0,216.1 77.5,214.7 78.0,213.6 78.5,212.6 79.0,211.7 79.5,211.0 80.0,210.4 80.5,210.0 81.0,209.6 81.5,209.4 82.0,209.4 82.5,209.4 83.0,209.5 83.5,209.8 84.0,210.2 84.5,210.7 85.0,211.4 85.5,212.1 86.0,212.8 86.5,213.5 87.0,214.3 87.5,215.2 88.0,216.2 88.5,217.5 89.0,218.8 89.5,220.2 90.0,221.7 90.5,223.1 91.0,224.4 91.5,225.7 92.0,227.0 92.5,228.3 93.0,229.7 93.5,231.0 94.0,232.3 94.5,233.5 95.0,234.8 95.5,236.1 96.0,237.5 96.5,239.0 97.0,240.6 97.5,242.3 98.0,244.2 98.5,246.0 99.0,247.9 99.5,249.7 100.0,251.5 100.5,253.3 101.0,255.0 101.5,256.8 102.0,258.5 102.5,260.3 103.0,262.0 103.5,263.8 104.0,265.5 104.5,267.2 105.0,268.9 105.5,270.5 106.0,272.0 106.5,273.4 107.0,274.6 107.5,275.8 108.0,276.9 108.5,277.9 109.0,278.9 109.5,279.9 110.0,280.8 110.5,281.6 111.0,282.5 111.5,283.3 112.0,284.0 112.5,284.7 113.0,285.3 113.5,285.9 114.0,286.4 114.5,286.9 115.0,287.4 115.5,287.8 116.0,288.3 116.5,288.7 117.0,289.1 117.5,289.5 118.0,289.9 118.5,290.2 119.0,290.6 119.5,290.9 120.0,291.1 120.5,291.4 121.0,291.6 121.5,291.8 122.0,292.0 122.5,292.2 123.0,292.4 123.5,292.6 124.0,292.8 124.5,293.0 125.0,293.1 125.5,293.3 126.0,293.5 126.5,293.6 127.0,293.8 127.5,293.9 128.0,294.1 128.5,294.2 129.0,294.3 129.5,294.4 130.0,294.5 130.5,294.5 131.0,294.6 131.5,294.7 132.0,294.7 132.5,294.8 133.0,294.8 133.5,294.9 134.0,295.0 134.5,295.0 135.0,295.1 135.5,295.1 136.0,295.2 136.5,295.2 137.0,295.3 137.5,295.3 138.0,295.4 138.5,295.4 139.0,295.5 139.5,295.5 140.0,295.6 140.5,295.6 141.0,295.7 141.5,295.7 142.0,295.7 142.5,295.8 143.0,295.8 143.5,295.8 144.0,295.9 144.5,295.9 145.0,295.9 145.5,295.9 146.0,295.9 146.5,296.0 147.0,296.0 147.5,296.0 148.0,296.0 148.5,296.0 149.0,296.1 149.5,296.1 150.0,296.1 150.5,296.1 151.0,296.1 151.5,296.2 152.0,296.2 152.5,296.2 153.0,296.2 153.5,296.2 154.0,296.3 154.5,296.3 155.0,296.3 155.5,296.3 156.0,296.3 156.5,296.4 157.0,296.4 157.5,296.4 158.0,296.4 158.5,296.4 159.0,296.5 159.5,296.5 160.0,296.5 160.5,296.5 161.0,296.5 161.5,296.6 162.0,296.6 162.5,296.6 163.0,296.6 163.5,296.6 164.0,296.7 164.5,296.7 165.0,296.7 165.5,296.7 166.0,296.7 166.5,296.8 167.0,296.8 167.5,296.8 168.0,296.8 168.5,296.8 169.0,296.9 169.5,296.9 170.0,296.9 170.5,296.9 171.0,296.9 171.5,297.0 172.0,297.0 172.5,297.0 173.0,297.0 173.5,297.0 174.0,297.1 174.5,297.1 175.0,297.1 175.5,297.1 176.0,297.1 176.5,297.2 177.0,297.2 177.5,297.2 178.0,297.2 178.5,297.2 179.0,297.3 179.5,297.3 180.0,297.3 180.5,297.3 181.0,297.3 181.5,297.4 182.0,297.4 182.5,297.4 183.0,297.4 183.5,297.4 184.0,297.5 184.5,297.5 185.0,297.5 185.5,297.5 186.0,297.5 186.5,297.6 187.0,297.6 187.5,297.6 188.0,297.6 188.5,297.6 189.0,297.7 189.5,297.7 190.0,297.7 190.5,297.7 191.0,297.7 191.5,297.8 192.0,297.8 192.5,297.8 193.0,297.8 193.5,297.8 194.0,297.9 194.5,297.9 195.0,297.9 195.5,297.9 196.0,297.9 196.5,298.0 197.0,298.0 197.5,298.0 198.0,298.0 198.5,298.0 199.0,298.1 199.5,298.1 200.0,298.1 200.5,298.1 201.0,298.1 201.5,298.2 202.0,298.2 202.5,298.2 203.0,298.2 203.5,298.2 204.0,298.3 204.5,298.3 205.0,298.3 205.5,298.3 206.0,298.3 206.5,298.4 207.0,298.4 207.5,298.4 208.0,298.4 208.5,298.4 209.0,298.5 209.5,298.5 210.0,298.5 210.5,298.5 211.0,298.5 211.5,298.6 212.0,298.6 212.5,298.6" fill="none" stroke="#e8168a" stroke-width="1.6" stroke-linejoin="round" />
<g fill="#e8168a"><circle cx="32.5" cy="285.0" r="2.0"/><circle cx="37.2" cy="285.2" r="2.0"/><circle cx="41.9" cy="284.9" r="2.0"/><circle cx="46.6" cy="283.7" r="2.0"/><circle cx="51.3" cy="280.8" r="2.0"/><circle cx="56.0" cy="275.0" r="2.0"/><circle cx="60.7" cy="265.2" r="2.0"/><circle cx="65.4" cy="251.5" r="2.0"/><circle cx="70.1" cy="238.9" r="2.0"/><circle cx="74.8" cy="223.6" r="2.0"/><circle cx="79.5" cy="211.0" r="2.0"/><circle cx="84.2" cy="210.4" r="2.0"/><circle cx="88.9" cy="218.6" r="2.0"/><circle cx="93.6" cy="231.2" r="2.0"/><circle cx="98.3" cy="245.3" r="2.0"/><circle cx="103.0" cy="262.0" r="2.0"/><circle cx="107.7" cy="276.2" r="2.0"/><circle cx="112.4" cy="284.5" r="2.0"/><circle cx="117.1" cy="289.2" r="2.0"/><circle cx="121.8" cy="291.9" r="2.0"/><circle cx="126.5" cy="293.6" r="2.0"/><circle cx="131.2" cy="294.6" r="2.0"/><circle cx="135.9" cy="295.2" r="2.0"/><circle cx="140.6" cy="295.6" r="2.0"/><circle cx="145.3" cy="295.9" r="2.0"/><circle cx="150.0" cy="296.1" r="2.0"/><circle cx="154.7" cy="296.3" r="2.0"/><circle cx="159.4" cy="296.5" r="2.0"/><circle cx="164.1" cy="296.7" r="2.0"/><circle cx="168.8" cy="296.9" r="2.0"/><circle cx="173.5" cy="297.0" r="2.0"/><circle cx="178.2" cy="297.2" r="2.0"/><circle cx="182.9" cy="297.4" r="2.0"/><circle cx="187.6" cy="297.6" r="2.0"/><circle cx="192.3" cy="297.8" r="2.0"/><circle cx="197.0" cy="298.0" r="2.0"/><circle cx="201.7" cy="298.2" r="2.0"/><circle cx="206.4" cy="298.4" r="2.0"/><circle cx="211.1" cy="298.5" r="2.0"/></g>
<text x="33.8" y="169.2" font-family='"Liberation Serif", serif' font-size="14.5" font-weight="bold" font-style="italic" fill="#151515" text-anchor="start" textLength="32.5" lengthAdjust="spacingAndGlyphs">Hf 4f</text>
<text x="151.6" y="171.8" font-family='"Liberation Serif", serif' font-size="16.5" font-weight="bold" font-style="normal" fill="#151515" text-anchor="start" textLength="51.5" lengthAdjust="spacingAndGlyphs">(c) WO</text>
<text x="203.6" y="175.6" font-family='"Liberation Serif", serif' font-size="11" font-weight="bold" font-style="normal" fill="#151515" text-anchor="start" textLength="6.2" lengthAdjust="spacingAndGlyphs">x</text>
<text x="85.9" y="204.0" font-family='"Liberation Serif", serif' font-size="8.6" font-weight="normal" font-style="normal" fill="#555555" text-anchor="start" textLength="23.6" lengthAdjust="spacingAndGlyphs">20.05eV</text>
<text x="123.3" y="186.6" font-family='"Liberation Serif", serif' font-size="8.6" font-weight="normal" font-style="normal" fill="#555555" text-anchor="start" textLength="27.6" lengthAdjust="spacingAndGlyphs">18.45eV</text>
<text x="34.0" y="229.0" font-family='"Liberation Serif", serif' font-size="12" font-weight="bold" font-style="italic" fill="#3d4156" text-anchor="start" textLength="25.2" lengthAdjust="spacingAndGlyphs">Hf 4f</text>
<text x="59.5" y="232.0" font-family='"Liberation Serif", serif' font-size="7.5" font-weight="bold" font-style="italic" fill="#3d4156" text-anchor="start" textLength="9.2" lengthAdjust="spacingAndGlyphs">5/2</text>
<line x1="61.0" y1="234.5" x2="65.1" y2="239.4" stroke="#555" stroke-width="0.7"/>
<path d="M67.2,241.8L64.0,240.3L66.2,238.4Z" fill="#1a1a1a"/>
<text x="140.9" y="214.6" font-family='"Liberation Serif", serif' font-size="12" font-weight="bold" font-style="italic" fill="#3d4156" text-anchor="start" textLength="25.2" lengthAdjust="spacingAndGlyphs">Hf 4f</text>
<text x="166.4" y="217.0" font-family='"Liberation Serif", serif' font-size="7.5" font-weight="bold" font-style="italic" fill="#3d4156" text-anchor="start" textLength="9.4" lengthAdjust="spacingAndGlyphs">7/2</text>
<line x1="152.4" y1="219.2" x2="141.8" y2="232.1" stroke="#555" stroke-width="0.7"/>
<path d="M139.8,234.6L140.7,231.2L142.9,233.0Z" fill="#1a1a1a"/>
<text x="168.2" y="237.0" font-family='"Liberation Serif", serif' font-size="12" font-weight="bold" font-style="italic" fill="#3d4156" text-anchor="start" textLength="22.2" lengthAdjust="spacingAndGlyphs">HfO</text>
<text x="190.8" y="239.6" font-family='"Liberation Serif", serif' font-size="7.5" font-weight="bold" font-style="italic" fill="#3d4156" text-anchor="start" textLength="9.6" lengthAdjust="spacingAndGlyphs">2-x</text>
<text x="168.2" y="247.6" font-family='"Liberation Serif", serif' font-size="9.8" font-weight="bold" font-style="italic" fill="#e0303c" text-anchor="start" textLength="24.4" lengthAdjust="spacingAndGlyphs">(31%)</text>
<line x1="178.3" y1="249.8" x2="143.4" y2="279.9" stroke="#555" stroke-width="0.7"/>
<path d="M141.0,282.0L142.5,278.8L144.4,281.0Z" fill="#1a1a1a"/>
<line x1="178.3" y1="249.8" x2="183.4" y2="281.2" stroke="#555" stroke-width="0.7"/>
<path d="M183.9,284.4L182.0,281.5L184.8,281.0Z" fill="#1a1a1a"/>
<line x1="308.6" y1="80" x2="308.6" y2="152" stroke="#c9c9c9" stroke-width="0.7" stroke-dasharray="1.2,1"/>
<line x1="347.8" y1="62" x2="347.8" y2="152" stroke="#c9c9c9" stroke-width="0.7" stroke-dasharray="1.2,1"/>
<path d="M215.0,141.2 215.5,141.2 216.0,141.2 216.5,141.2 217.0,141.2 217.5,141.2 218.0,141.3 218.5,141.3 219.0,141.3 219.5,141.3 220.0,141.3 220.5,141.3 221.0,141.3 221.5,141.3 222.0,141.3 222.5,141.3 223.0,141.4 223.5,141.4 224.0,141.4 224.5,141.4 225.0,141.4 225.5,141.4 226.0,141.4 226.5,141.4 227.0,141.4 227.5,141.4 228.0,141.5 228.5,141.5 229.0,141.5 229.5,141.5 230.0,141.5 230.5,141.5 231.0,141.5 231.5,141.5 232.0,141.5 232.5,141.5 233.0,141.6 233.5,141.6 234.0,141.6 234.5,141.6 235.0,141.6 235.5,141.6 236.0,141.6 236.5,141.6 237.0,141.6 237.5,141.6 238.0,141.7 238.5,141.7 239.0,141.7 239.5,141.7 240.0,141.7 240.5,141.7 241.0,141.7 241.5,141.7 242.0,141.7 242.5,141.8 243.0,141.8 243.5,141.8 244.0,141.8 244.5,141.8 245.0,141.8 245.5,141.8 246.0,141.8 246.5,141.8 247.0,141.8 247.5,141.8 248.0,141.9 248.5,141.9 249.0,141.9 249.5,141.9 250.0,141.9 250.5,141.9 251.0,141.9 251.5,141.9 252.0,141.9 252.5,141.9 253.0,142.0 253.5,142.0 254.0,142.0 254.5,142.0 255.0,142.0 255.5,142.0 256.0,142.0 256.5,142.0 257.0,142.0 257.5,142.0 258.0,142.1 258.5,142.1 259.0,142.1 259.5,142.1 260.0,142.1 260.5,142.1 261.0,142.1 261.5,142.1 262.0,142.1 262.5,142.1 263.0,142.2 263.5,142.2 264.0,142.2 264.5,142.2 265.0,142.2 265.5,142.2 266.0,142.2 266.5,142.2 267.0,142.2 267.5,142.2 268.0,142.3 268.5,142.3 269.0,142.3 269.5,142.3 270.0,142.3 270.5,142.3 271.0,142.3 271.5,142.3 272.0,142.3 272.5,142.3 273.0,142.4 273.5,142.4 274.0,142.4 274.5,142.4 275.0,142.4 275.5,142.4 276.0,142.4 276.5,142.4 277.0,142.4 277.5,142.4 278.0,142.5 278.5,142.5 279.0,142.5 279.5,142.5 280.0,142.5 280.5,142.5 281.0,142.5 281.5,142.5 282.0,142.5 282.5,142.5 283.0,142.6 283.5,142.6 284.0,142.6 284.5,142.6 285.0,142.6 285.5,142.6 286.0,142.6 286.5,142.6 287.0,142.6 287.5,142.6 288.0,142.7 288.5,142.7 289.0,142.7 289.5,142.7 290.0,142.7 290.5,142.7 291.0,142.7 291.5,142.7 292.0,142.7 292.5,142.8 293.0,142.8 293.5,142.8 294.0,142.8 294.5,142.8 295.0,142.8 295.5,142.8 296.0,142.8 296.5,142.8 297.0,142.8 297.5,142.8 298.0,142.9 298.5,142.9 299.0,142.9 299.5,142.9 300.0,142.9 300.5,142.9 301.0,142.9 301.5,142.9 302.0,142.9 302.5,142.9 303.0,143.0 303.5,143.0 304.0,143.0 304.5,143.0 305.0,143.0 305.5,143.0 306.0,143.0 306.5,143.0 307.0,143.0 307.5,143.0 308.0,143.1 308.5,143.1 309.0,143.1 309.5,143.1 310.0,143.1 310.5,143.1 311.0,143.1 311.5,143.1 312.0,143.1 312.5,143.1 313.0,143.2 313.5,143.2 314.0,143.2 314.5,143.2 315.0,143.2 315.5,143.2 316.0,143.2 316.5,143.2 317.0,143.2 317.5,143.2 318.0,143.3 318.5,143.3 319.0,143.3 319.5,143.3 320.0,143.3 320.5,143.3 321.0,143.3 321.5,143.3 322.0,143.3 322.5,143.3 323.0,143.4 323.5,143.4 324.0,143.4 324.5,143.4 325.0,143.4 325.5,143.4 326.0,143.4 326.5,143.4 327.0,143.4 327.5,143.4 328.0,143.5 328.5,143.5 329.0,143.5 329.5,143.5 330.0,143.5 330.5,143.5 331.0,143.5 331.5,143.5 332.0,143.5 332.5,143.5 333.0,143.6 333.5,143.6 334.0,143.6 334.5,143.6 335.0,143.6 335.5,143.6 336.0,143.6 336.5,143.6 337.0,143.6 337.5,143.6 338.0,143.7 338.5,143.7 339.0,143.7 339.5,143.7" fill="none" stroke="#2424dc" stroke-width="1.6" stroke-linejoin="round" />
<g fill="#2424dc"><circle cx="215.0" cy="141.2" r="1.0"/><circle cx="217.6" cy="141.3" r="1.0"/><circle cx="220.2" cy="141.3" r="1.0"/><circle cx="222.8" cy="141.4" r="1.0"/><circle cx="225.4" cy="141.4" r="1.0"/><circle cx="228.0" cy="141.5" r="1.0"/><circle cx="230.6" cy="141.5" r="1.0"/><circle cx="233.2" cy="141.6" r="1.0"/><circle cx="235.8" cy="141.6" r="1.0"/><circle cx="238.4" cy="141.7" r="1.0"/><circle cx="241.0" cy="141.7" r="1.0"/><circle cx="243.6" cy="141.8" r="1.0"/><circle cx="246.2" cy="141.8" r="1.0"/><circle cx="248.8" cy="141.9" r="1.0"/><circle cx="251.4" cy="141.9" r="1.0"/><circle cx="254.0" cy="142.0" r="1.0"/><circle cx="256.6" cy="142.0" r="1.0"/><circle cx="259.2" cy="142.1" r="1.0"/><circle cx="261.8" cy="142.1" r="1.0"/><circle cx="264.4" cy="142.2" r="1.0"/><circle cx="267.0" cy="142.2" r="1.0"/><circle cx="269.6" cy="142.3" r="1.0"/><circle cx="272.2" cy="142.3" r="1.0"/><circle cx="274.8" cy="142.4" r="1.0"/><circle cx="277.4" cy="142.4" r="1.0"/><circle cx="280.0" cy="142.5" r="1.0"/><circle cx="282.6" cy="142.6" r="1.0"/><circle cx="285.2" cy="142.6" r="1.0"/><circle cx="287.8" cy="142.7" r="1.0"/><circle cx="290.4" cy="142.7" r="1.0"/><circle cx="293.0" cy="142.8" r="1.0"/><circle cx="295.6" cy="142.8" r="1.0"/><circle cx="298.2" cy="142.9" r="1.0"/><circle cx="300.8" cy="142.9" r="1.0"/><circle cx="303.4" cy="143.0" r="1.0"/><circle cx="306.0" cy="143.0" r="1.0"/><circle cx="308.6" cy="143.1" r="1.0"/><circle cx="311.2" cy="143.1" r="1.0"/><circle cx="313.8" cy="143.2" r="1.0"/><circle cx="316.4" cy="143.2" r="1.0"/><circle cx="319.0" cy="143.3" r="1.0"/><circle cx="321.6" cy="143.3" r="1.0"/><circle cx="324.2" cy="143.4" r="1.0"/><circle cx="326.8" cy="143.4" r="1.0"/><circle cx="329.4" cy="143.5" r="1.0"/><circle cx="332.0" cy="143.5" r="1.0"/><circle cx="334.6" cy="143.6" r="1.0"/><circle cx="337.2" cy="143.6" r="1.0"/></g>
<path d="M215.0,140.0 215.5,140.0 216.0,140.0 216.5,140.0 217.0,140.0 217.5,140.0 218.0,140.0 218.5,140.0 219.0,140.0 219.5,140.0 220.0,140.0 220.5,140.0 221.0,140.0 221.5,140.0 222.0,140.0 222.5,140.0 223.0,139.9 223.5,139.9 224.0,139.9 224.5,139.9 225.0,139.9 225.5,139.9 226.0,139.9 226.5,139.8 227.0,139.8 227.5,139.8 228.0,139.8 228.5,139.8 229.0,139.8 229.5,139.7 230.0,139.7 230.5,139.7 231.0,139.7 231.5,139.6 232.0,139.6 232.5,139.6 233.0,139.5 233.5,139.5 234.0,139.5 234.5,139.5 235.0,139.4 235.5,139.4 236.0,139.4 236.5,139.3 237.0,139.3 237.5,139.2 238.0,139.2 238.5,139.2 239.0,139.1 239.5,139.1 240.0,139.0 240.5,139.0 241.0,138.9 241.5,138.9 242.0,138.8 242.5,138.8 243.0,138.7 243.5,138.7 244.0,138.6 244.5,138.6 245.0,138.5 245.5,138.5 246.0,138.4 246.5,138.4 247.0,138.3 247.5,138.2 248.0,138.2 248.5,138.1 249.0,138.0 249.5,138.0 250.0,137.9 250.5,137.8 251.0,137.7 251.5,137.7 252.0,137.6 252.5,137.5 253.0,137.4 253.5,137.3 254.0,137.3 254.5,137.2 255.0,137.1 255.5,137.0 256.0,136.9 256.5,136.8 257.0,136.7 257.5,136.6 258.0,136.6 258.5,136.5 259.0,136.4 259.5,136.3 260.0,136.2 260.5,136.1 261.0,136.0 261.5,135.9 262.0,135.8 262.5,135.7 263.0,135.6 263.5,135.5 264.0,135.4 264.5,135.3 265.0,135.2 265.5,135.1 266.0,134.9 266.5,134.8 267.0,134.7 267.5,134.6 268.0,134.5 268.5,134.3 269.0,134.2 269.5,134.1 270.0,133.9 270.5,133.8 271.0,133.7 271.5,133.6 272.0,133.4 272.5,133.3 273.0,133.2 273.5,133.0 274.0,132.9 274.5,132.7 275.0,132.6 275.5,132.4 276.0,132.3 276.5,132.1 277.0,131.9 277.5,131.7 278.0,131.5 278.5,131.3 279.0,131.1 279.5,130.8 280.0,130.6 280.5,130.3 281.0,130.0 281.5,129.7 282.0,129.4 282.5,129.1 283.0,128.7 283.5,128.3 284.0,127.9 284.5,127.5 285.0,127.0 285.5,126.5 286.0,126.0 286.5,125.5 287.0,124.9 287.5,124.4 288.0,123.9 288.5,123.3 289.0,122.8 289.5,122.3 290.0,121.8 290.5,121.2 291.0,120.6 291.5,120.0 292.0,119.4 292.5,118.7 293.0,117.8 293.5,116.8 294.0,115.7 294.5,114.4 295.0,113.0 295.5,111.5 296.0,109.9 296.5,108.3 297.0,106.6 297.5,104.9 298.0,103.2 298.5,101.4 299.0,99.6 299.5,97.7 300.0,95.9 300.5,94.0 301.0,92.1 301.5,90.3 302.0,88.5 302.5,86.7 303.0,84.9 303.5,83.2 304.0,81.6 304.5,80.0 305.0,78.5 305.5,77.0 306.0,75.7 306.5,74.8 307.0,74.1 307.5,73.6 308.0,73.3 308.5,73.2 309.0,73.3 309.5,73.7 310.0,74.3 310.5,75.3 311.0,76.5 311.5,77.9 312.0,79.4 312.5,81.0 313.0,82.6 313.5,84.3 314.0,86.1 314.5,88.0 315.0,89.9 315.5,92.0 316.0,94.1 316.5,96.2 317.0,98.4 317.5,100.5 318.0,102.7 318.5,104.7 319.0,106.7 319.5,108.5 320.0,110.2 320.5,111.8 321.0,113.3 321.5,114.6 322.0,115.9 322.5,117.1 323.0,118.2 323.5,119.3 324.0,120.3 324.5,121.3 325.0,122.2 325.5,123.0 326.0,123.7 326.5,124.2 327.0,124.7 327.5,125.0 328.0,125.3 328.5,125.4 329.0,125.4 329.5,125.4 330.0,125.2 330.5,124.9 331.0,124.4 331.5,123.8 332.0,123.0 332.5,122.0 333.0,120.8 333.5,119.3 334.0,117.7 334.5,115.9 335.0,114.1 335.5,112.1 336.0,110.0 336.5,107.8 337.0,105.5 337.5,103.1 338.0,100.7 338.5,98.2 339.0,95.8 339.5,93.3 340.0,90.8 340.5,88.2" fill="none" stroke="#1d8c86" stroke-width="3.0" stroke-linejoin="round" />
<path d="M215.0,140.4 215.5,140.4 216.0,140.4 216.5,140.4 217.0,140.4 217.5,140.4 218.0,140.4 218.5,140.4 219.0,140.3 219.5,140.3 220.0,140.3 220.5,140.3 221.0,140.3 221.5,140.3 222.0,140.3 222.5,140.3 223.0,140.3 223.5,140.2 224.0,140.2 224.5,140.2 225.0,140.2 225.5,140.2 226.0,140.2 226.5,140.1 227.0,140.1 227.5,140.1 228.0,140.1 228.5,140.1 229.0,140.0 229.5,140.0 230.0,140.0 230.5,140.0 231.0,139.9 231.5,139.9 232.0,139.9 232.5,139.9 233.0,139.8 233.5,139.8 234.0,139.8 234.5,139.7 235.0,139.7 235.5,139.7 236.0,139.6 236.5,139.6 237.0,139.6 237.5,139.5 238.0,139.5 238.5,139.5 239.0,139.4 239.5,139.4 240.0,139.4 240.5,139.3 241.0,139.3 241.5,139.2 242.0,139.2 242.5,139.2 243.0,139.1 243.5,139.1 244.0,139.0 244.5,139.0 245.0,138.9 245.5,138.9 246.0,138.8 246.5,138.8 247.0,138.7 247.5,138.7 248.0,138.6 248.5,138.6 249.0,138.5 249.5,138.4 250.0,138.4 250.5,138.3 251.0,138.3 251.5,138.2 252.0,138.1 252.5,138.1 253.0,138.0 253.5,137.9 254.0,137.9 254.5,137.8 255.0,137.7 255.5,137.6 256.0,137.6 256.5,137.5 257.0,137.4 257.5,137.3 258.0,137.3 258.5,137.2 259.0,137.1 259.5,137.0 260.0,137.0 260.5,136.9 261.0,136.8 261.5,136.7 262.0,136.6 262.5,136.6 263.0,136.5 263.5,136.4 264.0,136.3 264.5,136.2 265.0,136.1 265.5,136.0 266.0,135.9 266.5,135.8 267.0,135.7 267.5,135.6 268.0,135.5 268.5,135.4 269.0,135.2 269.5,135.1 270.0,135.0 270.5,134.9 271.0,134.8 271.5,134.7 272.0,134.6 272.5,134.5 273.0,134.3 273.5,134.2 274.0,134.1 274.5,134.0 275.0,133.8 275.5,133.7 276.0,133.5 276.5,133.3 277.0,133.2 277.5,133.0 278.0,132.8 278.5,132.6 279.0,132.4 279.5,132.2 280.0,131.9 280.5,131.7 281.0,131.5 281.5,131.3 282.0,131.1 282.5,130.8 283.0,130.6 283.5,130.4 284.0,130.1 284.5,129.8 285.0,129.5 285.5,129.1 286.0,128.7 286.5,128.3 287.0,127.8 287.5,127.4 288.0,126.9 288.5,126.4 289.0,125.8 289.5,125.2 290.0,124.6 290.5,123.9 291.0,123.1 291.5,122.2 292.0,121.3 292.5,120.3 293.0,119.3 293.5,118.3 294.0,117.2 294.5,116.1 295.0,114.9 295.5,113.7 296.0,112.2 296.5,110.7 297.0,109.0 297.5,107.3 298.0,105.6 298.5,103.8 299.0,102.1 299.5,100.3 300.0,98.5 300.5,96.8 301.0,95.0 301.5,93.3 302.0,91.6 302.5,89.9 303.0,88.3 303.5,86.7 304.0,85.1 304.5,83.5 305.0,82.0 305.5,80.7 306.0,79.7 306.5,79.0 307.0,78.5 307.5,78.3 308.0,78.2 308.5,78.2 309.0,78.4 309.5,78.7 310.0,79.3 310.5,80.2 311.0,81.2 311.5,82.5 312.0,84.0 312.5,85.6 313.0,87.4 313.5,89.3 314.0,91.5 314.5,93.8 315.0,96.3 315.5,99.0 316.0,101.8 316.5,104.6 317.0,107.5 317.5,110.2 318.0,112.8 318.5,115.3 319.0,117.7 319.5,120.0 320.0,122.2 320.5,124.3 321.0,126.1 321.5,127.8 322.0,129.2 322.5,130.4 323.0,131.5 323.5,132.5 324.0,133.3 324.5,134.1 325.0,134.8 325.5,135.4 326.0,135.9 326.5,136.4 327.0,136.8 327.5,137.1 328.0,137.5 328.5,137.8 329.0,138.2 329.5,138.5 330.0,138.9 330.5,139.2 331.0,139.5 331.5,139.8 332.0,140.1 332.5,140.4 333.0,140.6 333.5,140.9 334.0,141.0 334.5,141.2 335.0,141.3 335.5,141.4 336.0,141.5 336.5,141.6 337.0,141.8 337.5,141.9 338.0,142.0 338.5,142.1 339.0,142.2 339.5,142.3 340.0,142.4 340.5,142.5 341.0,142.5 341.5,142.6 342.0,142.7 342.5,142.8 343.0,142.8 343.5,142.9 344.0,142.9 344.5,143.0 345.0,143.0 345.5,143.0 346.0,143.0 346.5,143.1 347.0,143.1 347.5,143.1 348.0,143.1 348.5,143.2 349.0,143.2 349.5,143.2 350.0,143.2 350.5,143.3 351.0,143.3 351.5,143.3 352.0,143.3 352.5,143.4 353.0,143.4 353.5,143.4 354.0,143.4 354.5,143.5 355.0,143.5 355.5,143.5 356.0,143.5 356.5,143.6 357.0,143.6 357.5,143.6 358.0,143.6 358.5,143.7 359.0,143.7 359.5,143.7 360.0,143.7 360.5,143.8 361.0,143.8 361.5,143.8 362.0,143.8 362.5,143.8 363.0,143.9 363.5,143.9 364.0,143.9 364.5,143.9 365.0,144.0 365.5,144.0 366.0,144.0 366.5,144.0 367.0,144.1 367.5,144.1 368.0,144.1 368.5,144.1 369.0,144.2 369.5,144.2 370.0,144.2 370.5,144.2 371.0,144.2 371.5,144.3 372.0,144.3 372.5,144.3 373.0,144.3 373.5,144.4 374.0,144.4 374.5,144.4 375.0,144.4 375.5,144.5 376.0,144.5 376.5,144.5 377.0,144.5 377.5,144.6 378.0,144.6 378.5,144.6 379.0,144.6 379.5,144.6 380.0,144.7 380.5,144.7 381.0,144.7 381.5,144.7 382.0,144.8 382.5,144.8 383.0,144.8 383.5,144.8 384.0,144.9 384.5,144.9 385.0,144.9 385.5,144.9 386.0,144.9 386.5,145.0 387.0,145.0 387.5,145.0 388.0,145.0 388.5,145.1 389.0,145.1 389.5,145.1 390.0,145.1 390.5,145.2 391.0,145.2 391.5,145.2 392.0,145.2 392.5,145.2 393.0,145.3 393.5,145.3 394.0,145.3 394.5,145.3 395.0,145.4 395.5,145.4" fill="none" stroke="#f47f3c" stroke-width="1.6" stroke-linejoin="round" />
<path fill="#f47f3c" d="M214.0,141.6L218.0,141.6L216.0,138.4ZM217.6,141.5L221.6,141.5L219.6,138.3ZM221.2,141.5L225.2,141.5L223.2,138.3ZM224.8,141.3L228.8,141.3L226.8,138.1ZM228.4,141.2L232.4,141.2L230.4,138.0ZM232.0,141.0L236.0,141.0L234.0,137.8ZM235.6,140.7L239.6,140.7L237.6,137.5ZM239.2,140.5L243.2,140.5L241.2,137.3ZM242.8,140.1L246.8,140.1L244.8,136.9ZM246.4,139.8L250.4,139.8L248.4,136.6ZM250.0,139.3L254.0,139.3L252.0,136.1ZM253.6,138.8L257.6,138.8L255.6,135.6ZM257.2,138.3L261.2,138.3L259.2,135.1ZM260.8,137.7L264.8,137.7L262.8,134.5ZM264.4,137.0L268.4,137.0L266.4,133.8ZM268.0,136.2L272.0,136.2L270.0,133.0ZM271.6,135.4L275.6,135.4L273.6,132.2ZM275.2,134.3L279.2,134.3L277.2,131.1ZM278.8,132.8L282.8,132.8L280.8,129.6ZM282.4,131.0L286.4,131.0L284.4,127.8ZM286.0,128.1L290.0,128.1L288.0,124.9ZM289.6,123.2L293.6,123.2L291.6,120.0ZM293.2,115.6L297.2,115.6L295.2,112.4ZM296.8,104.0L300.8,104.0L298.8,100.8ZM300.4,91.5L304.4,91.5L302.4,88.3ZM304.0,80.9L308.0,80.9L306.0,77.7ZM307.6,80.1L311.6,80.1L309.6,76.9ZM311.2,89.4L315.2,89.4L313.2,86.2ZM314.8,107.5L318.8,107.5L316.8,104.3ZM318.4,125.0L322.4,125.0L320.4,121.8ZM322.0,134.5L326.0,134.5L324.0,131.3ZM325.6,138.4L329.6,138.4L327.6,135.2ZM329.2,140.9L333.2,140.9L331.2,137.7ZM332.8,142.5L336.8,142.5L334.8,139.3ZM336.4,143.3L340.4,143.3L338.4,140.1ZM340.0,143.9L344.0,143.9L342.0,140.7ZM343.6,144.2L347.6,144.2L345.6,141.0ZM347.2,144.4L351.2,144.4L349.2,141.2ZM350.8,144.6L354.8,144.6L352.8,141.4ZM354.4,144.8L358.4,144.8L356.4,141.6ZM358.0,144.9L362.0,144.9L360.0,141.7ZM361.6,145.1L365.6,145.1L363.6,141.9ZM365.2,145.3L369.2,145.3L367.2,142.1ZM368.8,145.4L372.8,145.4L370.8,142.2ZM372.4,145.6L376.4,145.6L374.4,142.4ZM376.0,145.8L380.0,145.8L378.0,142.6ZM379.6,145.9L383.6,145.9L381.6,142.7ZM383.2,146.1L387.2,146.1L385.2,142.9ZM386.8,146.3L390.8,146.3L388.8,143.1ZM390.4,146.4L394.4,146.4L392.4,143.2Z"/>
<path d="M215.0,141.3 215.5,141.3 216.0,141.3 216.5,141.3 217.0,141.3 217.5,141.3 218.0,141.3 218.5,141.3 219.0,141.3 219.5,141.3 220.0,141.3 220.5,141.3 221.0,141.3 221.5,141.3 222.0,141.3 222.5,141.3 223.0,141.3 223.5,141.3 224.0,141.3 224.5,141.3 225.0,141.3 225.5,141.3 226.0,141.3 226.5,141.3 227.0,141.3 227.5,141.3 228.0,141.3 228.5,141.3 229.0,141.3 229.5,141.3 230.0,141.3 230.5,141.3 231.0,141.3 231.5,141.3 232.0,141.3 232.5,141.3 233.0,141.3 233.5,141.3 234.0,141.3 234.5,141.3 235.0,141.3 235.5,141.3 236.0,141.3 236.5,141.2 237.0,141.2 237.5,141.2 238.0,141.2 238.5,141.2 239.0,141.2 239.5,141.2 240.0,141.2 240.5,141.2 241.0,141.2 241.5,141.2 242.0,141.2 242.5,141.2 243.0,141.1 243.5,141.1 244.0,141.1 244.5,141.1 245.0,141.1 245.5,141.1 246.0,141.1 246.5,141.1 247.0,141.1 247.5,141.1 248.0,141.0 248.5,141.0 249.0,141.0 249.5,141.0 250.0,141.0 250.5,141.0 251.0,141.0 251.5,141.0 252.0,141.0 252.5,140.9 253.0,140.9 253.5,140.9 254.0,140.9 254.5,140.9 255.0,140.9 255.5,140.9 256.0,140.9 256.5,140.9 257.0,140.9 257.5,140.8 258.0,140.8 258.5,140.8 259.0,140.8 259.5,140.8 260.0,140.8 260.5,140.8 261.0,140.8 261.5,140.7 262.0,140.7 262.5,140.7 263.0,140.7 263.5,140.7 264.0,140.6 264.5,140.6 265.0,140.6 265.5,140.6 266.0,140.6 266.5,140.5 267.0,140.5 267.5,140.5 268.0,140.4 268.5,140.4 269.0,140.4 269.5,140.3 270.0,140.3 270.5,140.3 271.0,140.2 271.5,140.2 272.0,140.1 272.5,140.1 273.0,140.0 273.5,140.0 274.0,139.9 274.5,139.9 275.0,139.8 275.5,139.7 276.0,139.7 276.5,139.6 277.0,139.6 277.5,139.5 278.0,139.4 278.5,139.4 279.0,139.3 279.5,139.3 280.0,139.2 280.5,139.1 281.0,139.1 281.5,139.0 282.0,139.0 282.5,138.9 283.0,138.8 283.5,138.8 284.0,138.7 284.5,138.7 285.0,138.6 285.5,138.5 286.0,138.5 286.5,138.4 287.0,138.4 287.5,138.3 288.0,138.2 288.5,138.2 289.0,138.1 289.5,138.1 290.0,138.0 290.5,137.9 291.0,137.9 291.5,137.8 292.0,137.8 292.5,137.7 293.0,137.6 293.5,137.6 294.0,137.5 294.5,137.5 295.0,137.4 295.5,137.3 296.0,137.3 296.5,137.2 297.0,137.2 297.5,137.1 298.0,137.0 298.5,137.0 299.0,136.9 299.5,136.9 300.0,136.8 300.5,136.7 301.0,136.7 301.5,136.6 302.0,136.6 302.5,136.5 303.0,136.4 303.5,136.4 304.0,136.3 304.5,136.2 305.0,136.1 305.5,136.1 306.0,136.0 306.5,135.9 307.0,135.9 307.5,135.8 308.0,135.7 308.5,135.6 309.0,135.6 309.5,135.5 310.0,135.4 310.5,135.4 311.0,135.3 311.5,135.2 312.0,135.1 312.5,135.1 313.0,135.0 313.5,134.9 314.0,134.8 314.5,134.8 315.0,134.7 315.5,134.6 316.0,134.5 316.5,134.5 317.0,134.4 317.5,134.3 318.0,134.1 318.5,134.0 319.0,133.9 319.5,133.8 320.0,133.6 320.5,133.5 321.0,133.3 321.5,133.2 322.0,133.0 322.5,132.9 323.0,132.7 323.5,132.6 324.0,132.4 324.5,132.2 325.0,132.1 325.5,131.9 326.0,131.8 326.5,131.6 327.0,131.3 327.5,131.0 328.0,130.7 328.5,130.3 329.0,129.9 329.5,129.5 330.0,129.0 330.5,128.6 331.0,128.1 331.5,127.6 332.0,127.0 332.5,126.5 333.0,126.0 333.5,125.5 334.0,124.9 334.5,124.2 335.0,123.3 335.5,122.2 336.0,120.9 336.5,119.3 337.0,117.5 337.5,115.4 338.0,113.0 338.5,110.0 339.0,106.3 339.5,102.0 340.0,97.3 340.5,92.4 341.0,87.6 341.5,82.9 342.0,78.7 342.5,75.0 343.0,71.8 343.5,68.8 344.0,66.2 344.5,64.0 345.0,62.2 345.5,60.7 346.0,59.5 346.5,58.6 347.0,58.0 347.5,57.6 348.0,57.5 348.5,57.6 349.0,57.9 349.5,58.7 350.0,60.0 350.5,62.0 351.0,64.5 351.5,67.1 352.0,69.8 352.5,72.5 353.0,75.0 353.5,77.3 354.0,79.7 354.5,82.0 355.0,84.3 355.5,86.6 356.0,88.9 356.5,91.2 357.0,93.5 357.5,95.9 358.0,98.4 358.5,101.0 359.0,103.7 359.5,106.5 360.0,109.3 360.5,112.1 361.0,114.8 361.5,117.4 362.0,119.9 362.5,122.2 363.0,124.3 363.5,126.3 364.0,128.0 364.5,129.6 365.0,131.0 365.5,132.3 366.0,133.4 366.5,134.4 367.0,135.3 367.5,136.1 368.0,136.9 368.5,137.7 369.0,138.4 369.5,139.1 370.0,139.7 370.5,140.2 371.0,140.7 371.5,141.1 372.0,141.4 372.5,141.6 373.0,141.9 373.5,142.1 374.0,142.3 374.5,142.5 375.0,142.7 375.5,142.9 376.0,143.1 376.5,143.3 377.0,143.5 377.5,143.6 378.0,143.8 378.5,143.9 379.0,144.0 379.5,144.1 380.0,144.2 380.5,144.3 381.0,144.3 381.5,144.4 382.0,144.5 382.5,144.6 383.0,144.6 383.5,144.7 384.0,144.8 384.5,144.8 385.0,144.9 385.5,145.0 386.0,145.0 386.5,145.1 387.0,145.2 387.5,145.2 388.0,145.3 388.5,145.3 389.0,145.4 389.5,145.4 390.0,145.5 390.5,145.5 391.0,145.5 391.5,145.6 392.0,145.6 392.5,145.6 393.0,145.6 393.5,145.6 394.0,145.6 394.5,145.6 395.0,145.6 395.5,145.6" fill="none" stroke="#b9a2f5" stroke-width="1.0" stroke-linejoin="round" />
<path fill="#a88cf2" d="M214.2,142.4L217.8,142.4L216.0,139.5ZM217.8,142.4L221.4,142.4L219.6,139.5ZM221.4,142.4L225.0,142.4L223.2,139.5ZM225.0,142.4L228.6,142.4L226.8,139.5ZM228.6,142.4L232.2,142.4L230.4,139.5ZM232.2,142.4L235.8,142.4L234.0,139.5ZM235.8,142.3L239.4,142.3L237.6,139.4ZM239.4,142.3L243.0,142.3L241.2,139.4ZM243.0,142.2L246.6,142.2L244.8,139.3ZM246.6,142.1L250.2,142.1L248.4,139.2ZM250.2,142.0L253.8,142.0L252.0,139.2ZM253.8,142.0L257.4,142.0L255.6,139.1ZM257.4,141.9L261.0,141.9L259.2,139.0ZM261.0,141.8L264.6,141.8L262.8,138.9ZM264.6,141.6L268.2,141.6L266.4,138.7ZM268.2,141.4L271.8,141.4L270.0,138.5ZM271.8,141.0L275.4,141.0L273.6,138.2ZM275.4,140.6L279.0,140.6L277.2,137.7ZM279.0,140.2L282.6,140.2L280.8,137.3ZM282.6,139.8L286.2,139.8L284.4,136.9ZM286.2,139.3L289.8,139.3L288.0,136.4ZM289.8,138.9L293.4,138.9L291.6,136.0ZM293.4,138.5L297.0,138.5L295.2,135.6ZM297.0,138.0L300.6,138.0L298.8,135.1ZM300.6,137.6L304.2,137.6L302.4,134.7ZM304.2,137.1L307.8,137.1L306.0,134.2ZM307.8,136.6L311.4,136.6L309.6,133.7ZM311.4,136.0L315.0,136.0L313.2,133.2ZM315.0,135.5L318.6,135.5L316.8,132.6ZM318.6,134.6L322.2,134.6L320.4,131.7ZM322.2,133.5L325.8,133.5L324.0,130.6ZM325.8,132.1L329.4,132.1L327.6,129.2ZM329.4,128.9L333.0,128.9L331.2,126.1ZM333.0,124.8L336.6,124.8L334.8,121.9Z"/>
<path d="M340.0,90.8 340.5,88.2 341.0,85.6 341.5,82.9 342.0,80.2 342.5,77.3 343.0,74.5 343.5,71.7 344.0,68.9 344.5,66.4 345.0,64.0 345.5,61.8 346.0,59.9 346.5,58.5 347.0,57.6 347.5,57.1 348.0,56.8 348.5,56.8 349.0,57.2 349.5,58.1 350.0,59.5 350.5,61.5 351.0,64.0 351.5,66.6 352.0,69.4 352.5,72.0 353.0,74.5 353.5,76.9 354.0,79.2 354.5,81.5 355.0,83.8 355.5,86.1 356.0,88.4 356.5,90.8 357.0,93.1 357.5,95.5 358.0,98.0 358.5,100.6 359.0,103.3 359.5,106.1 360.0,108.9 360.5,111.7 361.0,114.4 361.5,117.0 362.0,119.5 362.5,121.8 363.0,123.9 363.5,125.9 364.0,127.6 364.5,129.2 365.0,130.6 365.5,131.9 366.0,133.0 366.5,134.0 367.0,134.9 367.5,135.7 368.0,136.5 368.5,137.3 369.0,138.0 369.5,138.7 370.0,139.3 370.5,139.8 371.0,140.3 371.5,140.7 372.0,141.0 372.5,141.2 373.0,141.5 373.5,141.7 374.0,141.9 374.5,142.1 375.0,142.3 375.5,142.5 376.0,142.7 376.5,142.9 377.0,143.1 377.5,143.2 378.0,143.4 378.5,143.5 379.0,143.6 379.5,143.7 380.0,143.8 380.5,143.9 381.0,143.9 381.5,144.0 382.0,144.1 382.5,144.2 383.0,144.2 383.5,144.3 384.0,144.4 384.5,144.4 385.0,144.5 385.5,144.6 386.0,144.6 386.5,144.7 387.0,144.8 387.5,144.8 388.0,144.9 388.5,144.9 389.0,145.0 389.5,145.0 390.0,145.1 390.5,145.1 391.0,145.1 391.5,145.2 392.0,145.2 392.5,145.2 393.0,145.2 393.5,145.2 394.0,145.2 394.5,145.2 395.0,145.2 395.5,145.2" fill="none" stroke="#7391da" stroke-width="2.4" stroke-linejoin="round" />
<g fill="#9b6bf0"><circle cx="338.5" cy="110.0" r="1.4"/><circle cx="343.1" cy="71.2" r="1.4"/><circle cx="347.7" cy="57.6" r="1.4"/><circle cx="352.3" cy="71.4" r="1.4"/><circle cx="356.9" cy="93.1" r="1.4"/><circle cx="361.5" cy="117.4" r="1.4"/><circle cx="366.1" cy="133.6" r="1.4"/><circle cx="370.7" cy="140.4" r="1.4"/><circle cx="375.3" cy="142.8" r="1.4"/><circle cx="379.9" cy="144.2" r="1.4"/><circle cx="384.5" cy="144.8" r="1.4"/><circle cx="389.1" cy="145.4" r="1.4"/><circle cx="393.7" cy="145.6" r="1.4"/></g>
<text x="217.2" y="18.2" font-family='"Liberation Serif", serif' font-size="14.5" font-weight="bold" font-style="italic" fill="#151515" text-anchor="start" textLength="28.8" lengthAdjust="spacingAndGlyphs">W 4f</text>
<text x="352.7" y="19.4" font-family='"Liberation Serif", serif' font-size="16.5" font-weight="bold" font-style="normal" fill="#151515" text-anchor="start" textLength="40.9" lengthAdjust="spacingAndGlyphs">(b) W</text>
<text x="300.0" y="70.0" font-family='"Liberation Serif", serif' font-size="8.6" font-weight="normal" font-style="italic" fill="#555555" text-anchor="start" textLength="25.8" lengthAdjust="spacingAndGlyphs">35.97eV</text>
<text x="339.9" y="54.6" font-family='"Liberation Serif", serif' font-size="8.6" font-weight="normal" font-style="italic" fill="#555555" text-anchor="start" textLength="25.6" lengthAdjust="spacingAndGlyphs">31.57eV</text>
<text x="256.4" y="99.6" font-family='"Liberation Serif", serif' font-size="12" font-weight="bold" font-style="italic" fill="#3d4156" text-anchor="start" textLength="23.4" lengthAdjust="spacingAndGlyphs">W 4f</text>
<text x="280.1" y="102.4" font-family='"Liberation Serif", serif' font-size="7.5" font-weight="bold" font-style="italic" fill="#3d4156" text-anchor="start" textLength="9.4" lengthAdjust="spacingAndGlyphs">5/2</text>
<line x1="284.5" y1="103.5" x2="291.6" y2="109.9" stroke="#555" stroke-width="0.7"/>
<path d="M294.0,112.0L290.7,110.9L292.6,108.8Z" fill="#1a1a1a"/>
<text x="362.6" y="89.2" font-family='"Liberation Serif", serif' font-size="12" font-weight="bold" font-style="italic" fill="#3d4156" text-anchor="start" textLength="22.6" lengthAdjust="spacingAndGlyphs">W 4f</text>
<text x="385.5" y="91.8" font-family='"Liberation Serif", serif' font-size="7.5" font-weight="bold" font-style="italic" fill="#3d4156" text-anchor="start" textLength="9.4" lengthAdjust="spacingAndGlyphs">7/2</text>
<line x1="362.5" y1="96.0" x2="358.7" y2="101.8" stroke="#555" stroke-width="0.7"/>
<path d="M357.0,104.5L357.5,101.0L359.9,102.6Z" fill="#1a1a1a"/>
<line x1="316.0" y1="210" x2="316.0" y2="303" stroke="#c9c9c9" stroke-width="0.7" stroke-dasharray="1.2,1"/>
<line x1="354.4" y1="232" x2="354.4" y2="303" stroke="#c9c9c9" stroke-width="0.7" stroke-dasharray="1.2,1"/>
<path d="M215.0,292.0 215.5,291.9 216.0,291.9 216.5,291.8 217.0,291.8 217.5,291.7 218.0,291.6 218.5,291.6 219.0,291.5 219.5,291.4 220.0,291.4 220.5,291.3 221.0,291.2 221.5,291.2 222.0,291.1 222.5,291.1 223.0,291.0 223.5,290.9 224.0,290.8 224.5,290.8 225.0,290.7 225.5,290.6 226.0,290.6 226.5,290.5 227.0,290.4 227.5,290.3 228.0,290.3 228.5,290.2 229.0,290.1 229.5,290.0 230.0,290.0 230.5,289.9 231.0,289.8 231.5,289.7 232.0,289.7 232.5,289.6 233.0,289.5 233.5,289.4 234.0,289.3 234.5,289.2 235.0,289.2 235.5,289.1 236.0,289.0 236.5,288.9 237.0,288.8 237.5,288.7 238.0,288.7 238.5,288.6 239.0,288.5 239.5,288.4 240.0,288.3 240.5,288.2 241.0,288.1 241.5,288.0 242.0,288.0 242.5,287.9 243.0,287.8 243.5,287.7 244.0,287.6 244.5,287.5 245.0,287.4 245.5,287.4 246.0,287.3 246.5,287.2 247.0,287.1 247.5,287.0 248.0,286.9 248.5,286.9 249.0,286.8 249.5,286.7 250.0,286.6 250.5,286.5 251.0,286.4 251.5,286.4 252.0,286.3 252.5,286.2 253.0,286.1 253.5,286.0 254.0,286.0 254.5,285.9 255.0,285.8 255.5,285.7 256.0,285.6 256.5,285.6 257.0,285.5 257.5,285.4 258.0,285.3 258.5,285.3 259.0,285.2 259.5,285.1 260.0,285.0 260.5,285.0 261.0,284.9 261.5,284.8 262.0,284.8 262.5,284.7 263.0,284.6 263.5,284.5 264.0,284.5 264.5,284.4 265.0,284.3 265.5,284.3 266.0,284.2 266.5,284.2 267.0,284.1 267.5,284.1 268.0,284.0 268.5,284.0 269.0,283.9 269.5,283.9 270.0,283.9 270.5,283.9 271.0,283.9 271.5,283.8 272.0,283.8 272.5,283.8 273.0,283.8 273.5,283.8 274.0,283.8 274.5,283.8 275.0,283.8 275.5,283.8 276.0,283.8 276.5,283.8 277.0,283.9 277.5,283.9 278.0,283.9 278.5,283.9 279.0,283.9 279.5,283.9 280.0,283.9 280.5,284.0 281.0,284.0 281.5,284.0 282.0,284.0 282.5,284.1 283.0,284.1 283.5,284.1 284.0,284.2 284.5,284.2 285.0,284.3 285.5,284.3 286.0,284.3 286.5,284.4 287.0,284.4 287.5,284.5 288.0,284.6 288.5,284.6 289.0,284.7 289.5,284.7 290.0,284.8 290.5,284.9 291.0,284.9 291.5,285.0 292.0,285.1 292.5,285.2 293.0,285.2 293.5,285.3 294.0,285.4 294.5,285.5 295.0,285.7 295.5,285.8 296.0,285.9 296.5,286.0 297.0,286.2 297.5,286.4 298.0,286.5 298.5,286.7 299.0,286.9 299.5,287.1 300.0,287.2 300.5,287.4 301.0,287.6 301.5,287.8 302.0,288.0 302.5,288.2 303.0,288.3 303.5,288.5 304.0,288.7 304.5,288.8 305.0,289.0 305.5,289.2 306.0,289.3 306.5,289.5 307.0,289.6 307.5,289.8 308.0,290.0 308.5,290.1 309.0,290.3 309.5,290.4 310.0,290.6 310.5,290.7 311.0,290.9 311.5,291.1 312.0,291.2 312.5,291.3 313.0,291.5 313.5,291.6 314.0,291.8 314.5,291.9 315.0,292.0 315.5,292.2 316.0,292.3 316.5,292.4 317.0,292.5 317.5,292.6 318.0,292.7 318.5,292.8 319.0,292.9 319.5,293.0 320.0,293.1 320.5,293.2 321.0,293.3 321.5,293.3 322.0,293.4 322.5,293.5 323.0,293.5 323.5,293.6 324.0,293.6 324.5,293.7 325.0,293.7 325.5,293.8 326.0,293.8 326.5,293.9 327.0,293.9 327.5,294.0 328.0,294.0 328.5,294.1 329.0,294.1 329.5,294.1 330.0,294.2 330.5,294.2 331.0,294.2 331.5,294.2 332.0,294.3 332.5,294.3 333.0,294.3 333.5,294.3 334.0,294.4 334.5,294.4 335.0,294.4 335.5,294.4 336.0,294.4 336.5,294.5 337.0,294.5 337.5,294.5 338.0,294.5 338.5,294.5 339.0,294.5 339.5,294.5 340.0,294.6 340.5,294.6 341.0,294.6 341.5,294.6 342.0,294.6 342.5,294.6 343.0,294.6 343.5,294.6 344.0,294.6 344.5,294.6 345.0,294.6 L345.00,294.74 L344.50,294.74 L344.00,294.74 L343.50,294.74 L343.00,294.74 L342.50,294.74 L342.00,294.74 L341.50,294.74 L341.00,294.74 L340.50,294.74 L340.00,294.74 L339.50,294.74 L339.00,294.74 L338.50,294.74 L338.00,294.74 L337.50,294.74 L337.00,294.73 L336.50,294.73 L336.00,294.73 L335.50,294.73 L335.00,294.73 L334.50,294.73 L334.00,294.73 L333.50,294.73 L333.00,294.73 L332.50,294.73 L332.00,294.73 L331.50,294.73 L331.00,294.73 L330.50,294.73 L330.00,294.73 L329.50,294.73 L329.00,294.73 L328.50,294.73 L328.00,294.72 L327.50,294.72 L327.00,294.72 L326.50,294.72 L326.00,294.72 L325.50,294.72 L325.00,294.72 L324.50,294.72 L324.00,294.72 L323.50,294.72 L323.00,294.72 L322.50,294.72 L322.00,294.72 L321.50,294.72 L321.00,294.72 L320.50,294.72 L320.00,294.72 L319.50,294.72 L319.00,294.71 L318.50,294.71 L318.00,294.71 L317.50,294.71 L317.00,294.71 L316.50,294.71 L316.00,294.71 L315.50,294.71 L315.00,294.71 L314.50,294.71 L314.00,294.71 L313.50,294.71 L313.00,294.71 L312.50,294.71 L312.00,294.71 L311.50,294.71 L311.00,294.71 L310.50,294.71 L310.00,294.70 L309.50,294.70 L309.00,294.70 L308.50,294.70 L308.00,294.70 L307.50,294.70 L307.00,294.70 L306.50,294.70 L306.00,294.70 L305.50,294.70 L305.00,294.70 L304.50,294.70 L304.00,294.70 L303.50,294.70 L303.00,294.70 L302.50,294.70 L302.00,294.70 L301.50,294.70 L301.00,294.70 L300.50,294.69 L300.00,294.69 L299.50,294.69 L299.00,294.69 L298.50,294.69 L298.00,294.69 L297.50,294.69 L297.00,294.69 L296.50,294.69 L296.00,294.69 L295.50,294.69 L295.00,294.69 L294.50,294.69 L294.00,294.69 L293.50,294.69 L293.00,294.69 L292.50,294.69 L292.00,294.69 L291.50,294.68 L291.00,294.68 L290.50,294.68 L290.00,294.68 L289.50,294.68 L289.00,294.68 L288.50,294.68 L288.00,294.68 L287.50,294.68 L287.00,294.68 L286.50,294.68 L286.00,294.68 L285.50,294.68 L285.00,294.68 L284.50,294.68 L284.00,294.68 L283.50,294.68 L283.00,294.68 L282.50,294.67 L282.00,294.67 L281.50,294.67 L281.00,294.67 L280.50,294.67 L280.00,294.67 L279.50,294.67 L279.00,294.67 L278.50,294.67 L278.00,294.67 L277.50,294.67 L277.00,294.67 L276.50,294.67 L276.00,294.67 L275.50,294.67 L275.00,294.67 L274.50,294.67 L274.00,294.67 L273.50,294.66 L273.00,294.66 L272.50,294.66 L272.00,294.66 L271.50,294.66 L271.00,294.66 L270.50,294.66 L270.00,294.66 L269.50,294.66 L269.00,294.66 L268.50,294.66 L268.00,294.66 L267.50,294.66 L267.00,294.66 L266.50,294.66 L266.00,294.66 L265.50,294.66 L265.00,294.66 L264.50,294.65 L264.00,294.65 L263.50,294.65 L263.00,294.65 L262.50,294.65 L262.00,294.65 L261.50,294.65 L261.00,294.65 L260.50,294.65 L260.00,294.65 L259.50,294.65 L259.00,294.65 L258.50,294.65 L258.00,294.65 L257.50,294.65 L257.00,294.65 L256.50,294.65 L256.00,294.65 L255.50,294.64 L255.00,294.64 L254.50,294.64 L254.00,294.64 L253.50,294.64 L253.00,294.64 L252.50,294.64 L252.00,294.64 L251.50,294.64 L251.00,294.64 L250.50,294.64 L250.00,294.64 L249.50,294.64 L249.00,294.64 L248.50,294.64 L248.00,294.64 L247.50,294.64 L247.00,294.64 L246.50,294.63 L246.00,294.63 L245.50,294.63 L245.00,294.63 L244.50,294.63 L244.00,294.63 L243.50,294.63 L243.00,294.63 L242.50,294.63 L242.00,294.63 L241.50,294.63 L241.00,294.63 L240.50,294.63 L240.00,294.63 L239.50,294.63 L239.00,294.63 L238.50,294.63 L238.00,294.63 L237.50,294.62 L237.00,294.62 L236.50,294.62 L236.00,294.62 L235.50,294.62 L235.00,294.62 L234.50,294.62 L234.00,294.62 L233.50,294.62 L233.00,294.62 L232.50,294.62 L232.00,294.62 L231.50,294.62 L231.00,294.62 L230.50,294.62 L230.00,294.62 L229.50,294.62 L229.00,294.62 L228.50,294.61 L228.00,294.61 L227.50,294.61 L227.00,294.61 L226.50,294.61 L226.00,294.61 L225.50,294.61 L225.00,294.61 L224.50,294.61 L224.00,294.61 L223.50,294.61 L223.00,294.61 L222.50,294.61 L222.00,294.61 L221.50,294.61 L221.00,294.61 L220.50,294.61 L220.00,294.61 L219.50,294.60 L219.00,294.60 L218.50,294.60 L218.00,294.60 L217.50,294.60 L217.00,294.60 L216.50,294.60 L216.00,294.60 L215.50,294.60 L215.00,294.60Z" fill="url(#hm)"/>
<path d="M215.0,292.0 215.5,291.9 216.0,291.9 216.5,291.8 217.0,291.8 217.5,291.7 218.0,291.6 218.5,291.6 219.0,291.5 219.5,291.4 220.0,291.4 220.5,291.3 221.0,291.2 221.5,291.2 222.0,291.1 222.5,291.1 223.0,291.0 223.5,290.9 224.0,290.8 224.5,290.8 225.0,290.7 225.5,290.6 226.0,290.6 226.5,290.5 227.0,290.4 227.5,290.3 228.0,290.3 228.5,290.2 229.0,290.1 229.5,290.0 230.0,290.0 230.5,289.9 231.0,289.8 231.5,289.7 232.0,289.7 232.5,289.6 233.0,289.5 233.5,289.4 234.0,289.3 234.5,289.2 235.0,289.2 235.5,289.1 236.0,289.0 236.5,288.9 237.0,288.8 237.5,288.7 238.0,288.7 238.5,288.6 239.0,288.5 239.5,288.4 240.0,288.3 240.5,288.2 241.0,288.1 241.5,288.0 242.0,288.0 242.5,287.9 243.0,287.8 243.5,287.7 244.0,287.6 244.5,287.5 245.0,287.4 245.5,287.4 246.0,287.3 246.5,287.2 247.0,287.1 247.5,287.0 248.0,286.9 248.5,286.9 249.0,286.8 249.5,286.7 250.0,286.6 250.5,286.5 251.0,286.4 251.5,286.4 252.0,286.3 252.5,286.2 253.0,286.1 253.5,286.0 254.0,286.0 254.5,285.9 255.0,285.8 255.5,285.7 256.0,285.6 256.5,285.6 257.0,285.5 257.5,285.4 258.0,285.3 258.5,285.3 259.0,285.2 259.5,285.1 260.0,285.0 260.5,285.0 261.0,284.9 261.5,284.8 262.0,284.8 262.5,284.7 263.0,284.6 263.5,284.5 264.0,284.5 264.5,284.4 265.0,284.3 265.5,284.3 266.0,284.2 266.5,284.2 267.0,284.1 267.5,284.1 268.0,284.0 268.5,284.0 269.0,283.9 269.5,283.9 270.0,283.9 270.5,283.9 271.0,283.9 271.5,283.8 272.0,283.8 272.5,283.8 273.0,283.8 273.5,283.8 274.0,283.8 274.5,283.8 275.0,283.8 275.5,283.8 276.0,283.8 276.5,283.8 277.0,283.9 277.5,283.9 278.0,283.9 278.5,283.9 279.0,283.9 279.5,283.9 280.0,283.9 280.5,284.0 281.0,284.0 281.5,284.0 282.0,284.0 282.5,284.1 283.0,284.1 283.5,284.1 284.0,284.2 284.5,284.2 285.0,284.3 285.5,284.3 286.0,284.3 286.5,284.4 287.0,284.4 287.5,284.5 288.0,284.6 288.5,284.6 289.0,284.7 289.5,284.7 290.0,284.8 290.5,284.9 291.0,284.9 291.5,285.0 292.0,285.1 292.5,285.2 293.0,285.2 293.5,285.3 294.0,285.4 294.5,285.5 295.0,285.7 295.5,285.8 296.0,285.9 296.5,286.0 297.0,286.2 297.5,286.4 298.0,286.5 298.5,286.7 299.0,286.9 299.5,287.1 300.0,287.2 300.5,287.4 301.0,287.6 301.5,287.8 302.0,288.0 302.5,288.2 303.0,288.3 303.5,288.5 304.0,288.7 304.5,288.8 305.0,289.0 305.5,289.2 306.0,289.3 306.5,289.5 307.0,289.6 307.5,289.8 308.0,290.0 308.5,290.1 309.0,290.3 309.5,290.4 310.0,290.6 310.5,290.7 311.0,290.9 311.5,291.1 312.0,291.2 312.5,291.3 313.0,291.5 313.5,291.6 314.0,291.8 314.5,291.9 315.0,292.0 315.5,292.2 316.0,292.3 316.5,292.4 317.0,292.5 317.5,292.6 318.0,292.7 318.5,292.8 319.0,292.9 319.5,293.0 320.0,293.1 320.5,293.2 321.0,293.3 321.5,293.3 322.0,293.4 322.5,293.5 323.0,293.5 323.5,293.6 324.0,293.6 324.5,293.7 325.0,293.7 325.5,293.8 326.0,293.8 326.5,293.9 327.0,293.9 327.5,294.0 328.0,294.0 328.5,294.1 329.0,294.1 329.5,294.1 330.0,294.2 330.5,294.2 331.0,294.2 331.5,294.2 332.0,294.3 332.5,294.3 333.0,294.3 333.5,294.3 334.0,294.4 334.5,294.4 335.0,294.4 335.5,294.4 336.0,294.4 336.5,294.5 337.0,294.5 337.5,294.5 338.0,294.5 338.5,294.5 339.0,294.5 339.5,294.5 340.0,294.6 340.5,294.6 341.0,294.6 341.5,294.6 342.0,294.6 342.5,294.6 343.0,294.6 343.5,294.6 344.0,294.6 344.5,294.6 345.0,294.6" fill="none" stroke="#8a1a4c" stroke-width="1.4" stroke-linejoin="round" />
<path fill="#8a1a4c" d="M213.3,292.0L215.0,290.3L216.7,292.0L215.0,293.7ZM216.5,291.6L218.2,289.9L219.9,291.6L218.2,293.3ZM219.7,291.2L221.4,289.5L223.1,291.2L221.4,292.9ZM222.9,290.8L224.6,289.1L226.3,290.8L224.6,292.5ZM226.1,290.3L227.8,288.6L229.5,290.3L227.8,292.0ZM229.3,289.8L231.0,288.1L232.7,289.8L231.0,291.5ZM232.5,289.3L234.2,287.6L235.9,289.3L234.2,291.0ZM235.7,288.8L237.4,287.1L239.1,288.8L237.4,290.5ZM238.9,288.2L240.6,286.5L242.3,288.2L240.6,289.9ZM242.1,287.6L243.8,285.9L245.5,287.6L243.8,289.3ZM245.3,287.1L247.0,285.4L248.7,287.1L247.0,288.8ZM248.5,286.6L250.2,284.9L251.9,286.6L250.2,288.3ZM251.7,286.1L253.4,284.4L255.1,286.1L253.4,287.8ZM254.9,285.6L256.6,283.9L258.3,285.6L256.6,287.3ZM258.1,285.1L259.8,283.4L261.5,285.1L259.8,286.8ZM261.3,284.6L263.0,282.9L264.7,284.6L263.0,286.3ZM264.5,284.2L266.2,282.5L267.9,284.2L266.2,285.9ZM267.7,283.9L269.4,282.2L271.1,283.9L269.4,285.6ZM270.9,283.8L272.6,282.1L274.3,283.8L272.6,285.5ZM274.1,283.8L275.8,282.1L277.5,283.8L275.8,285.5ZM277.3,283.9L279.0,282.2L280.7,283.9L279.0,285.6ZM280.5,284.0L282.2,282.3L283.9,284.0L282.2,285.7ZM283.7,284.3L285.4,282.6L287.1,284.3L285.4,286.0ZM286.9,284.6L288.6,282.9L290.3,284.6L288.6,286.3ZM290.1,285.1L291.8,283.4L293.5,285.1L291.8,286.8ZM293.3,285.7L295.0,284.0L296.7,285.7L295.0,287.4ZM296.5,286.6L298.2,284.9L299.9,286.6L298.2,288.3ZM299.7,287.8L301.4,286.1L303.1,287.8L301.4,289.5ZM302.9,288.9L304.6,287.2L306.3,288.9L304.6,290.6ZM306.1,289.9L307.8,288.2L309.5,289.9L307.8,291.6ZM309.3,290.9L311.0,289.2L312.7,290.9L311.0,292.6ZM312.5,291.8L314.2,290.1L315.9,291.8L314.2,293.5ZM315.7,292.6L317.4,290.9L319.1,292.6L317.4,294.3ZM318.9,293.2L320.6,291.5L322.3,293.2L320.6,294.9ZM322.1,293.6L323.8,291.9L325.5,293.6L323.8,295.3ZM325.3,293.9L327.0,292.2L328.7,293.9L327.0,295.6ZM328.5,294.2L330.2,292.5L331.9,294.2L330.2,295.9ZM331.7,294.3L333.4,292.6L335.1,294.3L333.4,296.0ZM334.9,294.5L336.6,292.8L338.3,294.5L336.6,296.2ZM338.1,294.6L339.8,292.9L341.5,294.6L339.8,296.3ZM341.3,294.6L343.0,292.9L344.7,294.6L343.0,296.3Z"/>
<path d="M262.0,294.4 262.5,294.4 263.0,294.4 263.5,294.4 264.0,294.4 264.5,294.4 265.0,294.4 265.5,294.4 266.0,294.4 266.5,294.4 267.0,294.3 267.5,294.3 268.0,294.3 268.5,294.3 269.0,294.2 269.5,294.2 270.0,294.1 270.5,294.1 271.0,294.1 271.5,294.0 272.0,294.0 272.5,293.9 273.0,293.9 273.5,293.8 274.0,293.7 274.5,293.7 275.0,293.6 275.5,293.5 276.0,293.4 276.5,293.4 277.0,293.3 277.5,293.2 278.0,293.1 278.5,293.0 279.0,292.9 279.5,292.7 280.0,292.6 280.5,292.5 281.0,292.4 281.5,292.2 282.0,292.1 282.5,291.9 283.0,291.8 283.5,291.7 284.0,291.5 284.5,291.4 285.0,291.2 285.5,291.0 286.0,290.9 286.5,290.7 287.0,290.5 287.5,290.3 288.0,290.1 288.5,289.9 289.0,289.7 289.5,289.4 290.0,289.2 290.5,288.9 291.0,288.6 291.5,288.3 292.0,287.9 292.5,287.6 293.0,287.3 293.5,286.9 294.0,286.6 294.5,286.3 295.0,285.9 295.5,285.6 296.0,285.2 296.5,284.9 297.0,284.5 297.5,284.2 298.0,283.8 298.5,283.5 299.0,283.2 299.5,282.8 300.0,282.5 300.5,282.1 301.0,281.8 301.5,281.5 302.0,281.1 302.5,280.8 303.0,280.5 303.5,280.1 304.0,279.8 304.5,279.5 305.0,279.1 305.5,278.8 306.0,278.5 306.5,278.2 307.0,277.8 307.5,277.5 308.0,277.2 308.5,276.9 309.0,276.6 309.5,276.4 310.0,276.1 310.5,275.9 311.0,275.7 311.5,275.6 312.0,275.4 312.5,275.3 313.0,275.2 313.5,275.1 314.0,275.0 314.5,275.0 315.0,275.0 315.5,275.0 316.0,275.0 316.5,275.0 317.0,275.1 317.5,275.1 318.0,275.2 318.5,275.3 319.0,275.4 319.5,275.5 320.0,275.7 320.5,275.9 321.0,276.0 321.5,276.2 322.0,276.4 322.5,276.6 323.0,276.8 323.5,277.0 324.0,277.2 324.5,277.4 325.0,277.7 325.5,277.9 326.0,278.1 326.5,278.3 327.0,278.6 327.5,278.8 328.0,279.1 328.5,279.4 329.0,279.7 329.5,280.0 330.0,280.3 330.5,280.6 331.0,280.9 331.5,281.3 332.0,281.6 332.5,281.9 333.0,282.3 333.5,282.7 334.0,283.0 334.5,283.4 335.0,283.7 335.5,284.1 336.0,284.4 336.5,284.7 337.0,285.0 337.5,285.3 338.0,285.6 338.5,285.9 339.0,286.2 339.5,286.4 340.0,286.7 340.5,287.0 341.0,287.2 341.5,287.5 342.0,287.7 342.5,288.0 343.0,288.2 343.5,288.4 344.0,288.7 344.5,288.9 345.0,289.1 345.5,289.3 346.0,289.6 346.5,289.8 347.0,290.0 347.5,290.2 348.0,290.4 348.5,290.6 349.0,290.8 349.5,291.0 350.0,291.2 350.5,291.4 351.0,291.6 351.5,291.8 352.0,292.0 352.5,292.1 353.0,292.3 353.5,292.5 354.0,292.6 354.5,292.8 355.0,292.9 355.5,293.1 356.0,293.2 356.5,293.3 357.0,293.4 357.5,293.6 358.0,293.7 358.5,293.8 359.0,293.8 359.5,293.9 360.0,294.0 360.5,294.1 361.0,294.1 361.5,294.2 362.0,294.2 362.5,294.3 363.0,294.3 363.5,294.3 364.0,294.4 364.5,294.4 365.0,294.4 365.5,294.4 366.0,294.4 L366.00,294.77 L365.50,294.77 L365.00,294.77 L364.50,294.77 L364.00,294.76 L363.50,294.76 L363.00,294.76 L362.50,294.76 L362.00,294.76 L361.50,294.76 L361.00,294.76 L360.50,294.76 L360.00,294.76 L359.50,294.76 L359.00,294.76 L358.50,294.76 L358.00,294.76 L357.50,294.76 L357.00,294.76 L356.50,294.76 L356.00,294.76 L355.50,294.76 L355.00,294.75 L354.50,294.75 L354.00,294.75 L353.50,294.75 L353.00,294.75 L352.50,294.75 L352.00,294.75 L351.50,294.75 L351.00,294.75 L350.50,294.75 L350.00,294.75 L349.50,294.75 L349.00,294.75 L348.50,294.75 L348.00,294.75 L347.50,294.75 L347.00,294.75 L346.50,294.75 L346.00,294.74 L345.50,294.74 L345.00,294.74 L344.50,294.74 L344.00,294.74 L343.50,294.74 L343.00,294.74 L342.50,294.74 L342.00,294.74 L341.50,294.74 L341.00,294.74 L340.50,294.74 L340.00,294.74 L339.50,294.74 L339.00,294.74 L338.50,294.74 L338.00,294.74 L337.50,294.74 L337.00,294.73 L336.50,294.73 L336.00,294.73 L335.50,294.73 L335.00,294.73 L334.50,294.73 L334.00,294.73 L333.50,294.73 L333.00,294.73 L332.50,294.73 L332.00,294.73 L331.50,294.73 L331.00,294.73 L330.50,294.73 L330.00,294.73 L329.50,294.73 L329.00,294.73 L328.50,294.73 L328.00,294.72 L327.50,294.72 L327.00,294.72 L326.50,294.72 L326.00,294.72 L325.50,294.72 L325.00,294.72 L324.50,294.72 L324.00,294.72 L323.50,294.72 L323.00,294.72 L322.50,294.72 L322.00,294.72 L321.50,294.72 L321.00,294.72 L320.50,294.72 L320.00,294.72 L319.50,294.72 L319.00,294.71 L318.50,294.71 L318.00,294.71 L317.50,294.71 L317.00,294.71 L316.50,294.71 L316.00,294.71 L315.50,294.71 L315.00,294.71 L314.50,294.71 L314.00,294.71 L313.50,294.71 L313.00,294.71 L312.50,294.71 L312.00,294.71 L311.50,294.71 L311.00,294.71 L310.50,294.71 L310.00,294.70 L309.50,294.70 L309.00,294.70 L308.50,294.70 L308.00,294.70 L307.50,294.70 L307.00,294.70 L306.50,294.70 L306.00,294.70 L305.50,294.70 L305.00,294.70 L304.50,294.70 L304.00,294.70 L303.50,294.70 L303.00,294.70 L302.50,294.70 L302.00,294.70 L301.50,294.70 L301.00,294.70 L300.50,294.69 L300.00,294.69 L299.50,294.69 L299.00,294.69 L298.50,294.69 L298.00,294.69 L297.50,294.69 L297.00,294.69 L296.50,294.69 L296.00,294.69 L295.50,294.69 L295.00,294.69 L294.50,294.69 L294.00,294.69 L293.50,294.69 L293.00,294.69 L292.50,294.69 L292.00,294.69 L291.50,294.68 L291.00,294.68 L290.50,294.68 L290.00,294.68 L289.50,294.68 L289.00,294.68 L288.50,294.68 L288.00,294.68 L287.50,294.68 L287.00,294.68 L286.50,294.68 L286.00,294.68 L285.50,294.68 L285.00,294.68 L284.50,294.68 L284.00,294.68 L283.50,294.68 L283.00,294.68 L282.50,294.67 L282.00,294.67 L281.50,294.67 L281.00,294.67 L280.50,294.67 L280.00,294.67 L279.50,294.67 L279.00,294.67 L278.50,294.67 L278.00,294.67 L277.50,294.67 L277.00,294.67 L276.50,294.67 L276.00,294.67 L275.50,294.67 L275.00,294.67 L274.50,294.67 L274.00,294.67 L273.50,294.66 L273.00,294.66 L272.50,294.66 L272.00,294.66 L271.50,294.66 L271.00,294.66 L270.50,294.66 L270.00,294.66 L269.50,294.66 L269.00,294.66 L268.50,294.66 L268.00,294.66 L267.50,294.66 L267.00,294.66 L266.50,294.66 L266.00,294.66 L265.50,294.66 L265.00,294.66 L264.50,294.65 L264.00,294.65 L263.50,294.65 L263.00,294.65 L262.50,294.65 L262.00,294.65Z" fill="url(#hp)"/>
<path d="M262.0,294.4 262.5,294.4 263.0,294.4 263.5,294.4 264.0,294.4 264.5,294.4 265.0,294.4 265.5,294.4 266.0,294.4 266.5,294.4 267.0,294.3 267.5,294.3 268.0,294.3 268.5,294.3 269.0,294.2 269.5,294.2 270.0,294.1 270.5,294.1 271.0,294.1 271.5,294.0 272.0,294.0 272.5,293.9 273.0,293.9 273.5,293.8 274.0,293.7 274.5,293.7 275.0,293.6 275.5,293.5 276.0,293.4 276.5,293.4 277.0,293.3 277.5,293.2 278.0,293.1 278.5,293.0 279.0,292.9 279.5,292.7 280.0,292.6 280.5,292.5 281.0,292.4 281.5,292.2 282.0,292.1 282.5,291.9 283.0,291.8 283.5,291.7 284.0,291.5 284.5,291.4 285.0,291.2 285.5,291.0 286.0,290.9 286.5,290.7 287.0,290.5 287.5,290.3 288.0,290.1 288.5,289.9 289.0,289.7 289.5,289.4 290.0,289.2 290.5,288.9 291.0,288.6 291.5,288.3 292.0,287.9 292.5,287.6 293.0,287.3 293.5,286.9 294.0,286.6 294.5,286.3 295.0,285.9 295.5,285.6 296.0,285.2 296.5,284.9 297.0,284.5 297.5,284.2 298.0,283.8 298.5,283.5 299.0,283.2 299.5,282.8 300.0,282.5 300.5,282.1 301.0,281.8 301.5,281.5 302.0,281.1 302.5,280.8 303.0,280.5 303.5,280.1 304.0,279.8 304.5,279.5 305.0,279.1 305.5,278.8 306.0,278.5 306.5,278.2 307.0,277.8 307.5,277.5 308.0,277.2 308.5,276.9 309.0,276.6 309.5,276.4 310.0,276.1 310.5,275.9 311.0,275.7 311.5,275.6 312.0,275.4 312.5,275.3 313.0,275.2 313.5,275.1 314.0,275.0 314.5,275.0 315.0,275.0 315.5,275.0 316.0,275.0 316.5,275.0 317.0,275.1 317.5,275.1 318.0,275.2 318.5,275.3 319.0,275.4 319.5,275.5 320.0,275.7 320.5,275.9 321.0,276.0 321.5,276.2 322.0,276.4 322.5,276.6 323.0,276.8 323.5,277.0 324.0,277.2 324.5,277.4 325.0,277.7 325.5,277.9 326.0,278.1 326.5,278.3 327.0,278.6 327.5,278.8 328.0,279.1 328.5,279.4 329.0,279.7 329.5,280.0 330.0,280.3 330.5,280.6 331.0,280.9 331.5,281.3 332.0,281.6 332.5,281.9 333.0,282.3 333.5,282.7 334.0,283.0 334.5,283.4 335.0,283.7 335.5,284.1 336.0,284.4 336.5,284.7 337.0,285.0 337.5,285.3 338.0,285.6 338.5,285.9 339.0,286.2 339.5,286.4 340.0,286.7 340.5,287.0 341.0,287.2 341.5,287.5 342.0,287.7 342.5,288.0 343.0,288.2 343.5,288.4 344.0,288.7 344.5,288.9 345.0,289.1 345.5,289.3 346.0,289.6 346.5,289.8 347.0,290.0 347.5,290.2 348.0,290.4 348.5,290.6 349.0,290.8 349.5,291.0 350.0,291.2 350.5,291.4 351.0,291.6 351.5,291.8 352.0,292.0 352.5,292.1 353.0,292.3 353.5,292.5 354.0,292.6 354.5,292.8 355.0,292.9 355.5,293.1 356.0,293.2 356.5,293.3 357.0,293.4 357.5,293.6 358.0,293.7 358.5,293.8 359.0,293.8 359.5,293.9 360.0,294.0 360.5,294.1 361.0,294.1 361.5,294.2 362.0,294.2 362.5,294.3 363.0,294.3 363.5,294.3 364.0,294.4 364.5,294.4 365.0,294.4 365.5,294.4 366.0,294.4" fill="none" stroke="#8e2ee6" stroke-width="1.4" stroke-linejoin="round" />
<path fill="#8e2ee6" d="M260.4,294.4L262.0,292.8L263.6,294.4L262.0,296.0ZM263.6,294.4L265.2,292.8L266.8,294.4L265.2,296.0ZM266.8,294.3L268.4,292.7L270.0,294.3L268.4,295.9ZM270.0,294.0L271.6,292.4L273.2,294.0L271.6,295.6ZM273.2,293.6L274.8,292.0L276.4,293.6L274.8,295.2ZM276.4,293.1L278.0,291.5L279.6,293.1L278.0,294.7ZM279.6,292.3L281.2,290.7L282.8,292.3L281.2,293.9ZM282.8,291.4L284.4,289.8L286.0,291.4L284.4,293.0ZM286.0,290.3L287.6,288.7L289.2,290.3L287.6,291.9ZM289.2,288.7L290.8,287.1L292.4,288.7L290.8,290.3ZM292.4,286.6L294.0,285.0L295.6,286.6L294.0,288.2ZM295.6,284.4L297.2,282.8L298.8,284.4L297.2,286.0ZM298.8,282.2L300.4,280.6L302.0,282.2L300.4,283.8ZM302.0,280.1L303.6,278.5L305.2,280.1L303.6,281.7ZM305.2,278.0L306.8,276.4L308.4,278.0L306.8,279.6ZM308.4,276.1L310.0,274.5L311.6,276.1L310.0,277.7ZM311.6,275.2L313.2,273.6L314.8,275.2L313.2,276.8ZM314.8,275.0L316.4,273.4L318.0,275.0L316.4,276.6ZM318.0,275.6L319.6,274.0L321.2,275.6L319.6,277.2ZM321.2,276.7L322.8,275.1L324.4,276.7L322.8,278.3ZM324.4,278.1L326.0,276.5L327.6,278.1L326.0,279.7ZM327.6,279.8L329.2,278.2L330.8,279.8L329.2,281.4ZM330.8,281.9L332.4,280.3L334.0,281.9L332.4,283.5ZM334.0,284.1L335.6,282.5L337.2,284.1L335.6,285.7ZM337.2,286.1L338.8,284.5L340.4,286.1L338.8,287.7ZM340.4,287.7L342.0,286.1L343.6,287.7L342.0,289.3ZM343.6,289.2L345.2,287.6L346.8,289.2L345.2,290.8ZM346.8,290.6L348.4,289.0L350.0,290.6L348.4,292.2ZM350.0,291.8L351.6,290.2L353.2,291.8L351.6,293.4ZM353.2,292.9L354.8,291.3L356.4,292.9L354.8,294.5ZM356.4,293.7L358.0,292.1L359.6,293.7L358.0,295.3ZM359.6,294.1L361.2,292.5L362.8,294.1L361.2,295.7ZM362.8,294.4L364.4,292.8L366.0,294.4L364.4,296.0Z"/>
<path d="M215.0,294.6 215.5,294.6 216.0,294.6 216.5,294.6 217.0,294.6 217.5,294.6 218.0,294.6 218.5,294.6 219.0,294.6 219.5,294.6 220.0,294.6 220.5,294.6 221.0,294.6 221.5,294.6 222.0,294.6 222.5,294.6 223.0,294.6 223.5,294.6 224.0,294.6 224.5,294.6 225.0,294.6 225.5,294.6 226.0,294.6 226.5,294.6 227.0,294.6 227.5,294.6 228.0,294.6 228.5,294.6 229.0,294.6 229.5,294.6 230.0,294.6 230.5,294.6 231.0,294.6 231.5,294.6 232.0,294.6 232.5,294.6 233.0,294.6 233.5,294.6 234.0,294.6 234.5,294.6 235.0,294.6 235.5,294.6 236.0,294.6 236.5,294.6 237.0,294.6 237.5,294.6 238.0,294.6 238.5,294.6 239.0,294.6 239.5,294.6 240.0,294.6 240.5,294.6 241.0,294.6 241.5,294.6 242.0,294.6 242.5,294.6 243.0,294.6 243.5,294.6 244.0,294.6 244.5,294.6 245.0,294.6 245.5,294.6 246.0,294.6 246.5,294.6 247.0,294.6 247.5,294.6 248.0,294.6 248.5,294.6 249.0,294.6 249.5,294.6 250.0,294.6 250.5,294.6 251.0,294.6 251.5,294.6 252.0,294.6 252.5,294.6 253.0,294.6 253.5,294.6 254.0,294.6 254.5,294.6 255.0,294.6 255.5,294.6 256.0,294.6 256.5,294.6 257.0,294.6 257.5,294.6 258.0,294.6 258.5,294.6 259.0,294.6 259.5,294.6 260.0,294.6 260.5,294.7 261.0,294.7 261.5,294.7 262.0,294.7 262.5,294.7 263.0,294.7 263.5,294.7 264.0,294.7 264.5,294.7 265.0,294.7 265.5,294.7 266.0,294.7 266.5,294.7 267.0,294.7 267.5,294.7 268.0,294.7 268.5,294.7 269.0,294.7 269.5,294.7 270.0,294.7 270.5,294.7 271.0,294.7 271.5,294.7 272.0,294.7 272.5,294.7 273.0,294.7 273.5,294.7 274.0,294.7 274.5,294.7 275.0,294.7 275.5,294.7 276.0,294.7 276.5,294.7 277.0,294.7 277.5,294.7 278.0,294.7 278.5,294.7 279.0,294.7 279.5,294.7 280.0,294.7 280.5,294.7 281.0,294.7 281.5,294.7 282.0,294.7 282.5,294.7 283.0,294.7 283.5,294.7 284.0,294.7 284.5,294.7 285.0,294.7 285.5,294.7 286.0,294.7 286.5,294.7 287.0,294.7 287.5,294.7 288.0,294.7 288.5,294.7 289.0,294.7 289.5,294.7 290.0,294.7 290.5,294.7 291.0,294.7 291.5,294.7 292.0,294.7 292.5,294.7 293.0,294.7 293.5,294.7 294.0,294.7 294.5,294.7 295.0,294.7 295.5,294.7 296.0,294.7 296.5,294.7 297.0,294.7 297.5,294.7 298.0,294.7 298.5,294.7 299.0,294.7 299.5,294.7 300.0,294.7 300.5,294.7 301.0,294.7 301.5,294.7 302.0,294.7 302.5,294.7 303.0,294.7 303.5,294.7 304.0,294.7 304.5,294.7 305.0,294.7 305.5,294.7 306.0,294.7 306.5,294.7 307.0,294.7 307.5,294.7 308.0,294.7 308.5,294.7 309.0,294.7 309.5,294.7 310.0,294.7 310.5,294.7 311.0,294.7 311.5,294.7 312.0,294.7 312.5,294.7 313.0,294.7 313.5,294.7 314.0,294.7 314.5,294.7 315.0,294.7 315.5,294.7 316.0,294.7 316.5,294.7 317.0,294.7 317.5,294.7 318.0,294.7 318.5,294.7 319.0,294.7 319.5,294.7 320.0,294.7 320.5,294.7 321.0,294.7 321.5,294.7 322.0,294.7 322.5,294.7 323.0,294.7 323.5,294.7 324.0,294.7 324.5,294.7 325.0,294.7 325.5,294.7 326.0,294.7 326.5,294.7 327.0,294.7 327.5,294.7 328.0,294.7 328.5,294.7 329.0,294.7 329.5,294.7 330.0,294.7 330.5,294.7 331.0,294.7 331.5,294.7 332.0,294.7 332.5,294.7 333.0,294.7 333.5,294.7 334.0,294.7 334.5,294.7 335.0,294.7 335.5,294.7 336.0,294.7 336.5,294.7 337.0,294.7 337.5,294.7 338.0,294.7 338.5,294.7 339.0,294.7 339.5,294.7 340.0,294.7 340.5,294.7 341.0,294.7 341.5,294.7 342.0,294.7 342.5,294.7 343.0,294.7 343.5,294.7 344.0,294.7 344.5,294.7 345.0,294.7 345.5,294.7 346.0,294.7 346.5,294.7 347.0,294.7 347.5,294.7 348.0,294.7 348.5,294.7 349.0,294.7 349.5,294.7 350.0,294.7 350.5,294.7 351.0,294.8 351.5,294.8 352.0,294.8 352.5,294.8 353.0,294.8 353.5,294.8 354.0,294.8 354.5,294.8 355.0,294.8 355.5,294.8 356.0,294.8 356.5,294.8 357.0,294.8 357.5,294.8 358.0,294.8 358.5,294.8 359.0,294.8 359.5,294.8 360.0,294.8 360.5,294.8 361.0,294.8 361.5,294.8 362.0,294.8 362.5,294.8 363.0,294.8 363.5,294.8 364.0,294.8 364.5,294.8 365.0,294.8 365.5,294.8 366.0,294.8 366.5,294.8 367.0,294.8 367.5,294.8 368.0,294.8 368.5,294.8 369.0,294.8 369.5,294.8 370.0,294.8 370.5,294.8 371.0,294.8 371.5,294.8 372.0,294.8 372.5,294.8 373.0,294.8 373.5,294.8 374.0,294.8 374.5,294.8 375.0,294.8 375.5,294.8 376.0,294.8 376.5,294.8 377.0,294.8 377.5,294.8 378.0,294.8 378.5,294.8 379.0,294.8 379.5,294.8 380.0,294.8 380.5,294.8 381.0,294.8 381.5,294.8 382.0,294.8 382.5,294.8 383.0,294.8 383.5,294.8 384.0,294.8 384.5,294.8 385.0,294.8 385.5,294.8 386.0,294.8 386.5,294.8 387.0,294.8 387.5,294.8 388.0,294.8 388.5,294.8 389.0,294.8 389.5,294.8 390.0,294.8 390.5,294.8 391.0,294.8 391.5,294.8 392.0,294.8 392.5,294.8 393.0,294.8 393.5,294.8 394.0,294.8 394.5,294.8 395.0,294.8 395.5,294.8" fill="none" stroke="#8e2ee6" stroke-width="1.4" stroke-linejoin="round" />
<path fill="#8a1a4c" d="M213.3,294.6L215.0,292.9L216.7,294.6L215.0,296.3ZM216.3,294.6L218.0,292.9L219.7,294.6L218.0,296.3ZM219.3,294.6L221.0,292.9L222.7,294.6L221.0,296.3ZM222.3,294.6L224.0,292.9L225.7,294.6L224.0,296.3ZM225.3,294.6L227.0,292.9L228.7,294.6L227.0,296.3ZM228.3,294.6L230.0,292.9L231.7,294.6L230.0,296.3ZM231.3,294.6L233.0,292.9L234.7,294.6L233.0,296.3ZM234.3,294.6L236.0,292.9L237.7,294.6L236.0,296.3ZM237.3,294.6L239.0,292.9L240.7,294.6L239.0,296.3ZM240.3,294.6L242.0,292.9L243.7,294.6L242.0,296.3ZM243.3,294.6L245.0,292.9L246.7,294.6L245.0,296.3ZM246.3,294.6L248.0,292.9L249.7,294.6L248.0,296.3ZM249.3,294.6L251.0,292.9L252.7,294.6L251.0,296.3ZM252.3,294.6L254.0,292.9L255.7,294.6L254.0,296.3ZM255.3,294.6L257.0,292.9L258.7,294.6L257.0,296.3ZM258.3,294.6L260.0,292.9L261.7,294.6L260.0,296.3ZM261.3,294.7L263.0,293.0L264.7,294.7L263.0,296.4ZM264.3,294.7L266.0,293.0L267.7,294.7L266.0,296.4ZM267.3,294.7L269.0,293.0L270.7,294.7L269.0,296.4ZM270.3,294.7L272.0,293.0L273.7,294.7L272.0,296.4ZM273.3,294.7L275.0,293.0L276.7,294.7L275.0,296.4ZM276.3,294.7L278.0,293.0L279.7,294.7L278.0,296.4ZM279.3,294.7L281.0,293.0L282.7,294.7L281.0,296.4ZM282.3,294.7L284.0,293.0L285.7,294.7L284.0,296.4ZM285.3,294.7L287.0,293.0L288.7,294.7L287.0,296.4ZM288.3,294.7L290.0,293.0L291.7,294.7L290.0,296.4ZM291.3,294.7L293.0,293.0L294.7,294.7L293.0,296.4ZM294.3,294.7L296.0,293.0L297.7,294.7L296.0,296.4ZM297.3,294.7L299.0,293.0L300.7,294.7L299.0,296.4ZM300.3,294.7L302.0,293.0L303.7,294.7L302.0,296.4ZM303.3,294.7L305.0,293.0L306.7,294.7L305.0,296.4ZM306.3,294.7L308.0,293.0L309.7,294.7L308.0,296.4ZM309.3,294.7L311.0,293.0L312.7,294.7L311.0,296.4ZM312.3,294.7L314.0,293.0L315.7,294.7L314.0,296.4ZM315.3,294.7L317.0,293.0L318.7,294.7L317.0,296.4ZM318.3,294.7L320.0,293.0L321.7,294.7L320.0,296.4ZM321.3,294.7L323.0,293.0L324.7,294.7L323.0,296.4ZM324.3,294.7L326.0,293.0L327.7,294.7L326.0,296.4ZM327.3,294.7L329.0,293.0L330.7,294.7L329.0,296.4ZM330.3,294.7L332.0,293.0L333.7,294.7L332.0,296.4ZM333.3,294.7L335.0,293.0L336.7,294.7L335.0,296.4ZM336.3,294.7L338.0,293.0L339.7,294.7L338.0,296.4ZM339.3,294.7L341.0,293.0L342.7,294.7L341.0,296.4ZM342.3,294.7L344.0,293.0L345.7,294.7L344.0,296.4ZM345.3,294.7L347.0,293.0L348.7,294.7L347.0,296.4ZM348.3,294.7L350.0,293.0L351.7,294.7L350.0,296.4ZM351.3,294.8L353.0,293.1L354.7,294.8L353.0,296.5ZM354.3,294.8L356.0,293.1L357.7,294.8L356.0,296.5ZM357.3,294.8L359.0,293.1L360.7,294.8L359.0,296.5ZM360.3,294.8L362.0,293.1L363.7,294.8L362.0,296.5ZM363.3,294.8L365.0,293.1L366.7,294.8L365.0,296.5ZM366.3,294.8L368.0,293.1L369.7,294.8L368.0,296.5ZM369.3,294.8L371.0,293.1L372.7,294.8L371.0,296.5ZM372.3,294.8L374.0,293.1L375.7,294.8L374.0,296.5ZM375.3,294.8L377.0,293.1L378.7,294.8L377.0,296.5ZM378.3,294.8L380.0,293.1L381.7,294.8L380.0,296.5ZM381.3,294.8L383.0,293.1L384.7,294.8L383.0,296.5ZM384.3,294.8L386.0,293.1L387.7,294.8L386.0,296.5ZM387.3,294.8L389.0,293.1L390.7,294.8L389.0,296.5ZM390.3,294.8L392.0,293.1L393.7,294.8L392.0,296.5ZM393.3,294.8L395.0,293.1L396.7,294.8L395.0,296.5Z"/>
<path d="M215.0,291.2 215.5,291.2 216.0,291.1 216.5,291.1 217.0,291.0 217.5,291.0 218.0,290.9 218.5,290.9 219.0,290.9 219.5,290.8 220.0,290.8 220.5,290.7 221.0,290.7 221.5,290.6 222.0,290.6 222.5,290.6 223.0,290.5 223.5,290.5 224.0,290.4 224.5,290.4 225.0,290.3 225.5,290.3 226.0,290.2 226.5,290.2 227.0,290.2 227.5,290.1 228.0,290.1 228.5,290.0 229.0,290.0 229.5,289.9 230.0,289.9 230.5,289.9 231.0,289.8 231.5,289.8 232.0,289.7 232.5,289.7 233.0,289.6 233.5,289.6 234.0,289.5 234.5,289.5 235.0,289.5 235.5,289.4 236.0,289.4 236.5,289.3 237.0,289.3 237.5,289.2 238.0,289.2 238.5,289.1 239.0,289.1 239.5,289.0 240.0,289.0 240.5,288.9 241.0,288.9 241.5,288.9 242.0,288.8 242.5,288.8 243.0,288.7 243.5,288.7 244.0,288.6 244.5,288.6 245.0,288.5 245.5,288.5 246.0,288.4 246.5,288.4 247.0,288.3 247.5,288.3 248.0,288.2 248.5,288.2 249.0,288.1 249.5,288.0 250.0,288.0 250.5,287.9 251.0,287.8 251.5,287.7 252.0,287.6 252.5,287.5 253.0,287.4 253.5,287.3 254.0,287.2 254.5,287.1 255.0,287.0 255.5,286.9 256.0,286.7 256.5,286.6 257.0,286.5 257.5,286.3 258.0,286.2 258.5,286.1 259.0,285.9 259.5,285.8 260.0,285.6 260.5,285.5 261.0,285.4 261.5,285.2 262.0,285.1 262.5,284.9 263.0,284.8 263.5,284.7 264.0,284.5 264.5,284.4 265.0,284.3 265.5,284.1 266.0,284.0 266.5,283.9 267.0,283.8 267.5,283.6 268.0,283.5 268.5,283.4 269.0,283.2 269.5,283.1 270.0,283.0 270.5,282.8 271.0,282.7 271.5,282.5 272.0,282.3 272.5,282.1 273.0,282.0 273.5,281.8 274.0,281.6 274.5,281.4 275.0,281.1 275.5,280.9 276.0,280.6 276.5,280.4 277.0,280.1 277.5,279.8 278.0,279.5 278.5,279.1 279.0,278.7 279.5,278.3 280.0,277.8 280.5,277.3 281.0,276.8 281.5,276.3 282.0,275.7 282.5,275.2 283.0,274.6 283.5,274.1 284.0,273.5 284.5,273.0 285.0,272.4 285.5,271.9 286.0,271.3 286.5,270.8 287.0,270.2 287.5,269.7 288.0,269.1 288.5,268.5 289.0,267.9 289.5,267.3 290.0,266.7 290.5,266.0 291.0,265.4 291.5,264.7 292.0,263.9 292.5,263.2 293.0,262.5 293.5,261.7 294.0,260.9 294.5,260.2 295.0,259.4 295.5,258.7 296.0,257.9 296.5,257.2 297.0,256.5 297.5,255.8 298.0,255.1 298.5,254.4 299.0,253.7 299.5,253.1 300.0,252.5 300.5,252.0 301.0,251.5 301.5,251.1 302.0,250.7 302.5,250.4 303.0,250.0 303.5,249.7 304.0,249.4 304.5,249.0 305.0,248.7 305.5,248.4 306.0,248.1 306.5,247.8 307.0,247.5 307.5,247.2 308.0,246.9 308.5,246.7 309.0,246.4 309.5,246.2 310.0,246.0 310.5,245.8 311.0,245.6 311.5,245.5 312.0,245.4 312.5,245.3 313.0,245.3 313.5,245.2 314.0,245.2 314.5,245.2 315.0,245.2 315.5,245.2 316.0,245.3 316.5,245.5 317.0,245.7 317.5,245.9 318.0,246.1 318.5,246.5 319.0,246.8 319.5,247.2 320.0,247.6 320.5,248.0 321.0,248.4 321.5,248.9 322.0,249.4 322.5,250.0 323.0,250.6 323.5,251.3 324.0,252.1 324.5,252.9 325.0,253.7 325.5,254.5 326.0,255.3 326.5,256.2 327.0,257.0 327.5,257.8 328.0,258.6 328.5,259.5 329.0,260.3 329.5,261.1 330.0,261.9 330.5,262.7 331.0,263.6 331.5,264.4 332.0,265.2 332.5,266.0 333.0,266.8 333.5,267.6 334.0,268.5 334.5,269.3 335.0,270.1 335.5,270.9 336.0,271.7 336.5,272.5 337.0,273.3 337.5,274.1 338.0,275.0 338.5,275.8 339.0,276.6 339.5,277.4 340.0,278.2 340.5,278.9 341.0,279.6 341.5,280.3 342.0,280.9 342.5,281.5 343.0,282.1 343.5,282.6 344.0,283.1 344.5,283.5 345.0,283.9 345.5,284.3 346.0,284.7 346.5,285.1 347.0,285.4 347.5,285.8 348.0,286.1 348.5,286.4 349.0,286.7 349.5,287.0 350.0,287.4 350.5,287.6 351.0,287.9 351.5,288.2 352.0,288.5 352.5,288.7 353.0,289.0 353.5,289.2 354.0,289.5 354.5,289.7 355.0,289.9 355.5,290.1 356.0,290.2 356.5,290.4 357.0,290.6 357.5,290.7 358.0,290.9 358.5,291.0 359.0,291.1 359.5,291.3 360.0,291.4 360.5,291.5 361.0,291.7 361.5,291.8 362.0,291.9 362.5,292.0 363.0,292.1 363.5,292.3 364.0,292.4 364.5,292.5 365.0,292.6 365.5,292.6 366.0,292.7 366.5,292.8 367.0,292.9 367.5,292.9 368.0,293.0 368.5,293.1 369.0,293.1 369.5,293.2 370.0,293.2 370.5,293.3 371.0,293.3 371.5,293.4 372.0,293.4 372.5,293.5 373.0,293.5 373.5,293.6 374.0,293.6 374.5,293.6 375.0,293.7 375.5,293.7 376.0,293.8 376.5,293.8 377.0,293.8 377.5,293.9 378.0,293.9 378.5,294.0 379.0,294.0 379.5,294.0 380.0,294.0 380.5,294.1 381.0,294.1 381.5,294.1 382.0,294.2 382.5,294.2 383.0,294.2 383.5,294.2 384.0,294.2 384.5,294.3 385.0,294.3 385.5,294.3 386.0,294.3 386.5,294.3 387.0,294.3 387.5,294.3 388.0,294.3 388.5,294.3 389.0,294.3 389.5,294.3 390.0,294.3 390.5,294.3 391.0,294.3 391.5,294.3 392.0,294.3 392.5,294.3 393.0,294.3 393.5,294.3 394.0,294.3 394.5,294.3 395.0,294.2 395.5,294.2" fill="none" stroke="#f47f3c" stroke-width="1.5" stroke-linejoin="round" />
<path fill="#f47f3c" d="M214.1,292.3L217.9,292.3L216.0,289.2ZM217.3,292.0L221.1,292.0L219.2,288.9ZM220.5,291.7L224.3,291.7L222.4,288.7ZM223.7,291.4L227.5,291.4L225.6,288.4ZM226.9,291.1L230.7,291.1L228.8,288.1ZM230.1,290.9L233.9,290.9L232.0,287.8ZM233.3,290.6L237.1,290.6L235.2,287.5ZM236.5,290.3L240.3,290.3L238.4,287.2ZM239.7,290.0L243.5,290.0L241.6,286.9ZM242.9,289.7L246.7,289.7L244.8,286.6ZM246.1,289.4L249.9,289.4L248.0,286.3ZM249.3,288.9L253.1,288.9L251.2,285.9ZM252.5,288.3L256.3,288.3L254.4,285.2ZM255.7,287.4L259.5,287.4L257.6,284.4ZM258.9,286.6L262.7,286.6L260.8,283.5ZM262.1,285.7L265.9,285.7L264.0,282.6ZM265.3,284.9L269.1,284.9L267.2,281.8ZM268.5,284.0L272.3,284.0L270.4,280.9ZM271.7,282.9L275.5,282.9L273.6,279.8ZM274.9,281.4L278.7,281.4L276.8,278.3ZM278.1,278.9L281.9,278.9L280.0,275.9ZM281.3,275.5L285.1,275.5L283.2,272.5ZM284.5,272.0L288.3,272.0L286.4,269.0ZM287.7,268.3L291.5,268.3L289.6,265.3ZM290.9,263.9L294.7,263.9L292.8,260.9ZM294.1,259.1L297.9,259.1L296.0,256.0ZM297.3,254.6L301.1,254.6L299.2,251.6ZM300.5,251.6L304.3,251.6L302.4,248.5ZM303.7,249.5L307.5,249.5L305.6,246.4ZM306.9,247.6L310.7,247.6L308.8,244.6ZM310.1,246.6L313.9,246.6L312.0,243.5ZM313.3,246.4L317.1,246.4L315.2,243.3ZM316.5,247.5L320.3,247.5L318.4,244.5ZM319.7,250.2L323.5,250.2L321.6,247.1ZM322.9,254.5L326.7,254.5L324.8,251.5ZM326.1,259.8L329.9,259.8L328.0,256.7ZM329.3,265.0L333.1,265.0L331.2,262.0ZM332.5,270.3L336.3,270.3L334.4,267.2ZM335.7,275.4L339.5,275.4L337.6,272.4ZM338.9,280.5L342.7,280.5L340.8,277.4ZM342.1,284.2L345.9,284.2L344.0,281.2ZM345.3,286.7L349.1,286.7L347.2,283.7ZM348.5,288.7L352.3,288.7L350.4,285.7ZM351.7,290.4L355.5,290.4L353.6,287.4ZM354.9,291.6L358.7,291.6L356.8,288.6ZM358.1,292.6L361.9,292.6L360.0,289.5ZM361.3,293.3L365.1,293.3L363.2,290.3ZM364.5,293.9L368.3,293.9L366.4,290.9ZM367.7,294.3L371.5,294.3L369.6,291.3ZM370.9,294.6L374.7,294.6L372.8,291.6ZM374.1,294.9L377.9,294.9L376.0,291.9ZM377.3,295.1L381.1,295.1L379.2,292.1ZM380.5,295.3L384.3,295.3L382.4,292.3ZM383.7,295.4L387.5,295.4L385.6,292.4ZM386.9,295.5L390.7,295.5L388.8,292.4ZM390.1,295.5L393.9,295.5L392.0,292.4ZM393.3,295.4L397.1,295.4L395.2,292.3Z"/>
<path d="M230.0,294.2 230.5,294.2 231.0,294.2 231.5,294.2 232.0,294.2 232.5,294.2 233.0,294.2 233.5,294.2 234.0,294.2 234.5,294.2 235.0,294.2 235.5,294.2 236.0,294.2 236.5,294.2 237.0,294.2 237.5,294.2 238.0,294.2 238.5,294.2 239.0,294.2 239.5,294.1 240.0,294.1 240.5,294.1 241.0,294.1 241.5,294.1 242.0,294.1 242.5,294.1 243.0,294.1 243.5,294.1 244.0,294.1 244.5,294.0 245.0,294.0 245.5,294.0 246.0,294.0 246.5,294.0 247.0,294.0 247.5,294.0 248.0,293.9 248.5,293.9 249.0,293.9 249.5,293.9 250.0,293.9 250.5,293.9 251.0,293.8 251.5,293.8 252.0,293.8 252.5,293.8 253.0,293.8 253.5,293.7 254.0,293.7 254.5,293.7 255.0,293.7 255.5,293.6 256.0,293.6 256.5,293.6 257.0,293.6 257.5,293.5 258.0,293.5 258.5,293.5 259.0,293.5 259.5,293.4 260.0,293.4 260.5,293.4 261.0,293.3 261.5,293.3 262.0,293.3 262.5,293.2 263.0,293.2 263.5,293.2 264.0,293.1 264.5,293.1 265.0,293.1 265.5,293.0 266.0,293.0 266.5,292.9 267.0,292.9 267.5,292.9 268.0,292.8 268.5,292.8 269.0,292.7 269.5,292.7 270.0,292.6 270.5,292.6 271.0,292.5 271.5,292.5 272.0,292.4 272.5,292.4 273.0,292.3 273.5,292.3 274.0,292.2 274.5,292.2 275.0,292.1 275.5,292.1 276.0,292.0 276.5,292.0 277.0,291.9 277.5,291.9 278.0,291.8 278.5,291.8 279.0,291.7 279.5,291.7 280.0,291.6 280.5,291.5 281.0,291.5 281.5,291.4 282.0,291.4 282.5,291.3 283.0,291.2 283.5,291.2 284.0,291.1 284.5,291.0 285.0,291.0 285.5,290.9 286.0,290.8 286.5,290.8 287.0,290.7 287.5,290.6 288.0,290.5 288.5,290.4 289.0,290.4 289.5,290.3 290.0,290.2 290.5,290.1 291.0,290.0 291.5,289.9 292.0,289.8 292.5,289.8 293.0,289.7 293.5,289.6 294.0,289.5 294.5,289.4 295.0,289.3 295.5,289.2 296.0,289.1 296.5,289.0 297.0,288.9 297.5,288.8 298.0,288.7 298.5,288.6 299.0,288.5 299.5,288.3 300.0,288.2 300.5,288.0 301.0,287.9 301.5,287.7 302.0,287.6 302.5,287.4 303.0,287.2 303.5,287.0 304.0,286.8 304.5,286.6 305.0,286.4 305.5,286.2 306.0,286.0 306.5,285.8 307.0,285.6 307.5,285.4 308.0,285.2 308.5,284.9 309.0,284.7 309.5,284.5 310.0,284.2 310.5,284.0 311.0,283.8 311.5,283.5 312.0,283.2 312.5,283.0 313.0,282.7 313.5,282.4 314.0,282.1 314.5,281.8 315.0,281.5 315.5,281.1 316.0,280.8 316.5,280.5 317.0,280.1 317.5,279.8 318.0,279.4 318.5,279.0 319.0,278.6 319.5,278.3 320.0,277.9 320.5,277.5 321.0,277.1 321.5,276.7 322.0,276.3 322.5,275.9 323.0,275.4 323.5,275.0 324.0,274.5 324.5,274.0 325.0,273.5 325.5,273.0 326.0,272.4 326.5,271.8 327.0,271.2 327.5,270.6 328.0,270.0 328.5,269.3 329.0,268.6 329.5,267.8 330.0,267.1 330.5,266.3 331.0,265.5 331.5,264.8 332.0,264.0 332.5,263.2 333.0,262.3 333.5,261.5 334.0,260.7 334.5,259.9 335.0,259.0 335.5,258.2 336.0,257.3 336.5,256.4 337.0,255.6 337.5,254.7 338.0,253.8 338.5,252.9 339.0,252.0 339.5,251.1 340.0,250.2 340.5,249.3 341.0,248.4 341.5,247.5 342.0,246.6 342.5,245.7 343.0,244.8 343.5,243.9 344.0,243.0 344.5,242.2 345.0,241.3 345.5,240.5 346.0,239.7 346.5,238.9 347.0,238.2 347.5,237.4 348.0,236.7 348.5,236.0 349.0,235.3 349.5,234.6 350.0,234.0 350.5,233.4 351.0,232.9 351.5,232.5 352.0,232.1 352.5,231.8 353.0,231.6 353.5,231.4 354.0,231.3 354.5,231.2 355.0,231.2 355.5,231.2 356.0,231.4 356.5,231.7 357.0,232.0 357.5,232.6 358.0,233.3 358.5,234.1 359.0,235.1 359.5,236.1 360.0,237.2 360.5,238.2 361.0,239.3 361.5,240.3 362.0,241.4 362.5,242.5 363.0,243.6 363.5,244.7 364.0,245.8 364.5,246.9 365.0,248.0 365.5,249.2 366.0,250.3 366.5,251.4 367.0,252.6 367.5,253.7 368.0,254.9 368.5,256.1 369.0,257.2 369.5,258.3 370.0,259.5 370.5,260.6 371.0,261.8 371.5,262.9 372.0,264.0 372.5,265.1 373.0,266.1 373.5,267.2 374.0,268.2 374.5,269.2 375.0,270.2 375.5,271.1 376.0,272.0 376.5,273.0 377.0,273.8 377.5,274.7 378.0,275.5 378.5,276.3 379.0,277.1 379.5,277.8 380.0,278.5 380.5,279.1 381.0,279.8 381.5,280.3 382.0,280.9 382.5,281.5 383.0,282.0 383.5,282.5 384.0,282.9 384.5,283.4 385.0,283.8 385.5,284.3 386.0,284.7 386.5,285.1 387.0,285.5 387.5,285.9 388.0,286.3 388.5,286.6 389.0,287.0 389.5,287.4 390.0,287.7 390.5,288.0 391.0,288.4 391.5,288.7 392.0,289.0 392.5,289.2 393.0,289.5 393.5,289.7 394.0,290.0 394.5,290.2 395.0,290.4 395.5,290.5" fill="none" stroke="#9f82f2" stroke-width="1.2" stroke-linejoin="round" />
<path fill="#9a76f0" d="M228.2,294.2L230.0,292.4L231.8,294.2L230.0,296.0ZM231.6,294.2L233.4,292.4L235.2,294.2L233.4,296.0ZM235.0,294.2L236.8,292.4L238.6,294.2L236.8,296.0ZM238.4,294.1L240.2,292.3L242.0,294.1L240.2,295.9ZM241.8,294.1L243.6,292.3L245.4,294.1L243.6,295.9ZM245.2,294.0L247.0,292.2L248.8,294.0L247.0,295.8ZM248.6,293.9L250.4,292.1L252.2,293.9L250.4,295.7ZM252.0,293.7L253.8,291.9L255.6,293.7L253.8,295.5ZM255.4,293.6L257.2,291.8L259.0,293.6L257.2,295.4ZM258.8,293.4L260.6,291.6L262.4,293.4L260.6,295.2ZM262.2,293.1L264.0,291.3L265.8,293.1L264.0,294.9ZM265.6,292.9L267.4,291.1L269.2,292.9L267.4,294.7ZM269.0,292.5L270.8,290.7L272.6,292.5L270.8,294.3ZM272.4,292.2L274.2,290.4L276.0,292.2L274.2,294.0ZM275.8,291.9L277.6,290.1L279.4,291.9L277.6,293.7ZM279.2,291.5L281.0,289.7L282.8,291.5L281.0,293.3ZM282.6,291.1L284.4,289.3L286.2,291.1L284.4,292.9ZM286.0,290.6L287.8,288.8L289.6,290.6L287.8,292.4ZM289.4,290.0L291.2,288.2L293.0,290.0L291.2,291.8ZM292.8,289.4L294.6,287.6L296.4,289.4L294.6,291.2ZM296.2,288.7L298.0,286.9L299.8,288.7L298.0,290.5ZM299.6,287.8L301.4,286.0L303.2,287.8L301.4,289.6ZM303.0,286.5L304.8,284.7L306.6,286.5L304.8,288.3ZM306.4,285.1L308.2,283.3L310.0,285.1L308.2,286.9ZM309.8,283.5L311.6,281.7L313.4,283.5L311.6,285.3ZM313.2,281.5L315.0,279.7L316.8,281.5L315.0,283.3ZM316.6,279.1L318.4,277.3L320.2,279.1L318.4,280.9ZM320.0,276.5L321.8,274.7L323.6,276.5L321.8,278.3ZM323.4,273.3L325.2,271.5L327.0,273.3L325.2,275.1ZM326.8,269.1L328.6,267.3L330.4,269.1L328.6,270.9ZM330.2,264.0L332.0,262.2L333.8,264.0L332.0,265.8ZM333.6,258.3L335.4,256.5L337.2,258.3L335.4,260.1ZM337.0,252.4L338.8,250.6L340.6,252.4L338.8,254.2ZM340.4,246.3L342.2,244.5L344.0,246.3L342.2,248.1ZM343.8,240.3L345.6,238.5L347.4,240.3L345.6,242.1ZM347.2,235.3L349.0,233.5L350.8,235.3L349.0,237.1ZM350.6,231.9L352.4,230.1L354.2,231.9L352.4,233.7ZM354.0,231.3L355.8,229.5L357.6,231.3L355.8,233.1ZM357.4,235.5L359.2,233.7L361.0,235.5L359.2,237.3ZM360.8,242.7L362.6,240.9L364.4,242.7L362.6,244.5ZM364.2,250.3L366.0,248.5L367.8,250.3L366.0,252.1ZM367.6,258.1L369.4,256.3L371.2,258.1L369.4,259.9ZM371.0,265.7L372.8,263.9L374.6,265.7L372.8,267.5ZM374.4,272.4L376.2,270.6L378.0,272.4L376.2,274.2ZM377.8,277.9L379.6,276.1L381.4,277.9L379.6,279.7ZM381.2,282.0L383.0,280.2L384.8,282.0L383.0,283.8ZM384.6,285.0L386.4,283.2L388.2,285.0L386.4,286.8ZM388.0,287.6L389.8,285.8L391.6,287.6L389.8,289.4ZM391.4,289.6L393.2,287.8L395.0,289.6L393.2,291.4Z"/>
<path d="M215.0,287.3 215.5,287.2 216.0,287.2 216.5,287.1 217.0,287.0 217.5,286.9 218.0,286.9 218.5,286.8 219.0,286.7 219.5,286.6 220.0,286.5 220.5,286.4 221.0,286.3 221.5,286.2 222.0,286.1 222.5,286.0 223.0,285.9 223.5,285.8 224.0,285.7 224.5,285.5 225.0,285.4 225.5,285.3 226.0,285.1 226.5,285.0 227.0,284.9 227.5,284.7 228.0,284.6 228.5,284.4 229.0,284.3 229.5,284.1 230.0,284.0 230.5,283.8 231.0,283.7 231.5,283.5 232.0,283.3 232.5,283.2 233.0,283.0 233.5,282.8 234.0,282.7 234.5,282.5 235.0,282.3 235.5,282.1 236.0,281.9 236.5,281.7 237.0,281.5 237.5,281.3 238.0,281.1 238.5,280.9 239.0,280.7 239.5,280.5 240.0,280.3 240.5,280.1 241.0,279.9 241.5,279.7 242.0,279.5 242.5,279.3 243.0,279.0 243.5,278.8 244.0,278.6 244.5,278.4 245.0,278.1 245.5,277.9 246.0,277.6 246.5,277.4 247.0,277.1 247.5,276.9 248.0,276.6 248.5,276.3 249.0,276.1 249.5,275.8 250.0,275.5 250.5,275.2 251.0,275.0 251.5,274.7 252.0,274.4 252.5,274.1 253.0,273.9 253.5,273.6 254.0,273.3 254.5,273.0 255.0,272.8 255.5,272.5 256.0,272.2 256.5,271.9 257.0,271.6 257.5,271.4 258.0,271.1 258.5,270.8 259.0,270.5 259.5,270.3 260.0,270.0 260.5,269.7 261.0,269.4 261.5,269.1 262.0,268.9 262.5,268.6 263.0,268.3 263.5,268.0 264.0,267.7 264.5,267.4 265.0,267.1 265.5,266.8 266.0,266.5 266.5,266.2 267.0,265.8 267.5,265.5 268.0,265.2 268.5,264.9 269.0,264.6 269.5,264.2 270.0,263.9 270.5,263.5 271.0,263.2 271.5,262.8 272.0,262.4 272.5,262.0 273.0,261.5 273.5,261.1 274.0,260.7 274.5,260.2 275.0,259.8 275.5,259.3 276.0,258.8 276.5,258.3 277.0,257.8 277.5,257.3 278.0,256.7 278.5,256.2 279.0,255.6 279.5,255.1 280.0,254.5 280.5,253.9 281.0,253.4 281.5,252.8 282.0,252.2 282.5,251.6 283.0,251.1 283.5,250.5 284.0,249.9 284.5,249.3 285.0,248.6 285.5,248.0 286.0,247.4 286.5,246.7 287.0,246.0 287.5,245.3 288.0,244.5 288.5,243.7 289.0,242.8 289.5,241.8 290.0,240.7 290.5,239.6 291.0,238.5 291.5,237.3 292.0,236.1 292.5,234.8 293.0,233.6 293.5,232.3 294.0,231.0 294.5,229.7 295.0,228.4 295.5,227.2 296.0,226.0 296.5,224.9 297.0,223.7 297.5,222.6 298.0,221.5 298.5,220.4 299.0,219.4 299.5,218.4 300.0,217.5 300.5,216.6 301.0,215.8 301.5,215.1 302.0,214.5 302.5,213.9 303.0,213.3 303.5,212.8 304.0,212.3 304.5,211.8 305.0,211.4 305.5,211.0 306.0,210.5 306.5,210.2 307.0,209.8 307.5,209.5 308.0,209.2 308.5,208.9 309.0,208.6 309.5,208.4 310.0,208.1 310.5,207.9 311.0,207.7 311.5,207.5 312.0,207.4 312.5,207.3 313.0,207.2 313.5,207.1 314.0,207.1 314.5,207.0 315.0,207.1 315.5,207.1 316.0,207.2 316.5,207.4 317.0,207.5 317.5,207.7 318.0,207.9 318.5,208.2 319.0,208.4 319.5,208.7 320.0,209.0 320.5,209.4 321.0,209.8 321.5,210.2 322.0,210.6 322.5,211.0 323.0,211.5 323.5,212.0 324.0,212.4 324.5,212.9 325.0,213.4 325.5,213.9 326.0,214.4 326.5,214.9 327.0,215.5 327.5,216.1 328.0,216.6 328.5,217.2 329.0,217.7 329.5,218.3 330.0,218.8 330.5,219.3 331.0,219.8 331.5,220.2 332.0,220.7 332.5,221.1 333.0,221.5 333.5,221.8 334.0,222.2 334.5,222.5 335.0,222.7 335.5,222.9 336.0,223.1 336.5,223.3 337.0,223.5 337.5,223.7 338.0,223.9 338.5,224.1 339.0,224.3 339.5,224.4 340.0,224.6 340.5,224.8 341.0,224.9 341.5,225.1 342.0,225.2 342.5,225.4 343.0,225.5 343.5,225.7 344.0,225.8 344.5,226.0 345.0,226.1 345.5,226.2 346.0,226.3 346.5,226.4 347.0,226.5 347.5,226.7 348.0,226.8 348.5,226.9 349.0,227.0 349.5,227.2 350.0,227.4 350.5,227.7 351.0,228.0 351.5,228.4 352.0,228.7 352.5,229.1 353.0,229.4 353.5,229.8 354.0,230.2 354.5,230.6 355.0,231.1 355.5,231.5 356.0,232.0 356.5,232.5 357.0,233.1 357.5,233.7 358.0,234.4 358.5,235.3 359.0,236.1 359.5,237.0 360.0,238.0 360.5,238.9 361.0,239.9 361.5,240.9 362.0,241.9 362.5,242.9 363.0,243.9 363.5,245.0 364.0,246.1 364.5,247.1 365.0,248.2 365.5,249.3 366.0,250.4 366.5,251.6 367.0,252.7 367.5,253.8 368.0,255.0 368.5,256.1 369.0,257.3 369.5,258.4 370.0,259.5 370.5,260.7 371.0,261.8 371.5,262.9 372.0,263.9 372.5,265.0 373.0,266.1 373.5,267.1 374.0,268.1 374.5,269.1 375.0,270.1 375.5,271.1 376.0,272.0 376.5,272.9 377.0,273.8 377.5,274.7 378.0,275.5 378.5,276.3 379.0,277.1 379.5,277.8 380.0,278.5 380.5,279.2 381.0,279.8 381.5,280.4 382.0,281.0 382.5,281.5 383.0,282.0 383.5,282.5 384.0,283.0 384.5,283.4 385.0,283.9 385.5,284.3 386.0,284.7 386.5,285.1 387.0,285.4 387.5,285.8 388.0,286.2 388.5,286.6 389.0,286.9 389.5,287.2 390.0,287.6 390.5,287.9 391.0,288.2 391.5,288.5 392.0,288.8 392.5,289.0 393.0,289.3 393.5,289.5 394.0,289.8 394.5,290.0 395.0,290.2 395.5,290.3" fill="none" stroke="#1d8c86" stroke-width="2.8" stroke-linejoin="round" />
<path d="M380.0,278.5 380.5,279.2 381.0,279.8 381.5,280.4 382.0,281.0 382.5,281.5 383.0,282.0 383.5,282.5 384.0,283.0 384.5,283.4 385.0,283.9 385.5,284.3 386.0,284.7 386.5,285.1 387.0,285.4 387.5,285.8 388.0,286.2 388.5,286.6 389.0,286.9 389.5,287.2 390.0,287.6 390.5,287.9 391.0,288.2 391.5,288.5 392.0,288.8 392.5,289.0 393.0,289.3 393.5,289.5 394.0,289.8 394.5,290.0 395.0,290.2 395.5,290.3" fill="none" stroke="#5b8fc8" stroke-width="2.4" stroke-linejoin="round" />
<path fill="#9a76f0" d="M355.8,232.7L357.6,230.9L359.4,232.7L357.6,234.5ZM359.2,239.3L361.0,237.5L362.8,239.3L361.0,241.1ZM362.6,246.7L364.4,244.9L366.2,246.7L364.4,248.5ZM366.0,254.4L367.8,252.6L369.6,254.4L367.8,256.2ZM369.4,262.2L371.2,260.4L373.0,262.2L371.2,264.0ZM372.8,269.4L374.6,267.6L376.4,269.4L374.6,271.2ZM376.2,275.5L378.0,273.7L379.8,275.5L378.0,277.3ZM379.6,280.2L381.4,278.4L383.2,280.2L381.4,282.0ZM383.0,283.7L384.8,281.9L386.6,283.7L384.8,285.5ZM386.4,286.4L388.2,284.6L390.0,286.4L388.2,288.2ZM389.8,288.7L391.6,286.9L393.4,288.7L391.6,290.5ZM393.2,290.4L395.0,288.6L396.8,290.4L395.0,292.2Z"/>
<text x="218.2" y="169.2" font-family='"Liberation Serif", serif' font-size="14.5" font-weight="bold" font-style="italic" fill="#151515" text-anchor="start" textLength="28.2" lengthAdjust="spacingAndGlyphs">W 4f</text>
<text x="334.2" y="171.8" font-family='"Liberation Serif", serif' font-size="16.5" font-weight="bold" font-style="normal" fill="#151515" text-anchor="start" textLength="53.6" lengthAdjust="spacingAndGlyphs">(d) WO</text>
<text x="388.2" y="175.6" font-family='"Liberation Serif", serif' font-size="11" font-weight="bold" font-style="normal" fill="#151515" text-anchor="start" textLength="6.2" lengthAdjust="spacingAndGlyphs">x</text>
<text x="305.4" y="204.0" font-family='"Liberation Serif", serif' font-size="8.6" font-weight="normal" font-style="normal" fill="#555555" text-anchor="start" textLength="26.0" lengthAdjust="spacingAndGlyphs">33.85eV</text>
<text x="343.0" y="223.8" font-family='"Liberation Serif", serif' font-size="8.6" font-weight="normal" font-style="normal" fill="#555555" text-anchor="start" textLength="26.4" lengthAdjust="spacingAndGlyphs">32.04eV</text>
<text x="261.9" y="208.0" font-family='"Liberation Serif", serif' font-size="12" font-weight="bold" font-style="italic" fill="#3d4156" text-anchor="start" textLength="22.8" lengthAdjust="spacingAndGlyphs">W 4f</text>
<text x="285.0" y="210.6" font-family='"Liberation Serif", serif' font-size="7.5" font-weight="bold" font-style="italic" fill="#3d4156" text-anchor="start" textLength="9.4" lengthAdjust="spacingAndGlyphs">7/2</text>
<line x1="292" y1="212" x2="338" y2="245" stroke="#555" stroke-width="0.7"/>
<line x1="292.0" y1="212.0" x2="338.2" y2="245.6" stroke="#555" stroke-width="0.7"/>
<path d="M340.8,247.5L337.4,246.8L339.1,244.5Z" fill="#1a1a1a"/>
<text x="247.9" y="231.0" font-family='"Liberation Serif", serif' font-size="12" font-weight="bold" font-style="italic" fill="#3d4156" text-anchor="start" textLength="22.8" lengthAdjust="spacingAndGlyphs">W 4f</text>
<text x="271.0" y="233.8" font-family='"Liberation Serif", serif' font-size="7.5" font-weight="bold" font-style="italic" fill="#3d4156" text-anchor="start" textLength="9.4" lengthAdjust="spacingAndGlyphs">5/2</text>
<line x1="275.0" y1="236.0" x2="295.2" y2="255.8" stroke="#555" stroke-width="0.7"/>
<path d="M297.5,258.0L294.2,256.8L296.2,254.7Z" fill="#1a1a1a"/>
<text x="231.2" y="258.8" font-family='"Liberation Serif", serif' font-size="12" font-weight="bold" font-style="italic" fill="#3d4156" text-anchor="start" textLength="19.6" lengthAdjust="spacingAndGlyphs">WO</text>
<text x="250.8" y="261.4" font-family='"Liberation Serif", serif' font-size="7.5" font-weight="bold" font-style="italic" fill="#3d4156" text-anchor="start" textLength="9.6" lengthAdjust="spacingAndGlyphs">3-x</text>
<line x1="254.0" y1="263.5" x2="259.7" y2="280.0" stroke="#555" stroke-width="0.7"/>
<path d="M260.8,283.0L258.4,280.5L261.1,279.5Z" fill="#1a1a1a"/>
<line x1="254.0" y1="263.5" x2="297.5" y2="278.0" stroke="#555" stroke-width="0.7"/>
<path d="M300.5,279.0L297.0,279.4L297.9,276.6Z" fill="#1a1a1a"/>
<line x1="551.9" y1="22" x2="551.9" y2="153" stroke="#a6d2f2" stroke-width="0.8"/>
<line x1="646.2" y1="128" x2="646.2" y2="153" stroke="#a6d2f2" stroke-width="0.8"/>
<path d="M445.5,130.3 445.8,124.3 446.1,128.2 446.4,126.9 446.7,127.1 447.0,127.4 447.3,125.1 447.6,127.4 447.9,126.6 448.2,132.1 448.5,128.1 448.8,127.4 449.1,127.5 449.4,127.0 449.7,126.5 450.0,127.4 450.3,128.5 450.6,127.6 450.9,129.2 451.2,127.7 451.5,128.0 451.8,130.0 452.1,128.8 452.4,127.4 452.7,127.9 453.0,128.8 453.3,130.7 453.6,127.8 453.9,127.9 454.2,129.6 454.5,127.1 454.8,127.9 455.1,129.5 455.4,129.1 455.7,128.5 456.0,129.3 456.3,124.8 456.6,129.8 456.9,127.3 457.2,126.4 457.5,128.9 457.8,129.5 458.1,128.1 458.4,127.3 458.7,128.7 459.0,128.7 459.3,130.6 459.6,129.8 459.9,129.1 460.2,130.3 460.5,128.7 460.8,127.8 461.1,129.8 461.4,129.8 461.7,128.8 462.0,128.1 462.3,129.4 462.6,125.9 462.9,130.1 463.2,129.9 463.5,127.2 463.8,129.4 464.1,128.1 464.4,130.4 464.7,126.8 465.0,128.3 465.3,130.5 465.6,131.1 465.9,126.8 466.2,129.0 466.5,130.1 466.8,128.9 467.1,131.9 467.4,128.3 467.7,130.3 468.0,128.5 468.3,131.8 468.6,130.0 468.9,129.6 469.2,127.9 469.5,132.3 469.8,131.2 470.1,131.2 470.4,131.7 470.7,130.8 471.0,129.5 471.3,129.4 471.6,129.4 471.9,132.3 472.2,128.6 472.5,129.8 472.8,130.2 473.1,131.0 473.4,131.5 473.7,129.2 474.0,128.6 474.3,130.9 474.6,132.5 474.9,132.0 475.2,131.3 475.5,130.7 475.8,131.5 476.1,130.9 476.4,132.3 476.7,130.3 477.0,131.5 477.3,131.3 477.6,132.2 477.9,131.8 478.2,134.9 478.5,133.6 478.8,133.7 479.1,129.1 479.4,131.4 479.7,131.1 480.0,132.7 480.3,129.1 480.6,133.6 480.9,133.5 481.2,130.5 481.5,131.0 481.8,131.3 482.1,132.4 482.4,133.3 482.7,135.2 483.0,132.3 483.3,133.6 483.6,132.9 483.9,135.0 484.2,133.7 484.5,134.6 484.8,131.5 485.1,132.7 485.4,131.9 485.7,135.0 486.0,134.0 486.3,132.8 486.6,132.6 486.9,133.9 487.2,132.4 487.5,132.1 487.8,134.0 488.1,136.6 488.4,133.2 488.7,132.8 489.0,132.1 489.3,131.9 489.6,134.3 489.9,134.8 490.2,133.8 490.5,134.2 490.8,134.0 491.1,134.0 491.4,131.9 491.7,133.4 492.0,134.1 492.3,133.0 492.6,133.4 492.9,133.0 493.2,133.7 493.5,135.3 493.8,133.7 494.1,134.0 494.4,135.3 494.7,135.2 495.0,136.6 495.3,131.7 495.6,135.5 495.9,133.8 496.2,134.7 496.5,135.6 496.8,136.0 497.1,135.9 497.4,134.8 497.7,136.7 498.0,134.3 498.3,134.5 498.6,135.8 498.9,134.0 499.2,137.6 499.5,136.1 499.8,137.7 500.1,134.8 500.4,134.4 500.7,135.2 501.0,135.9 501.3,134.2 501.6,135.5 501.9,135.0 502.2,137.2 502.5,134.2 502.8,136.5 503.1,134.3 503.4,133.9 503.7,134.3 504.0,133.7 504.3,135.5 504.6,136.6 504.9,135.5 505.2,136.2 505.5,137.5 505.8,135.7 506.1,135.7 506.4,135.1 506.7,133.4 507.0,136.5 507.3,133.2 507.6,136.4 507.9,135.5 508.2,137.0 508.5,135.5 508.8,134.5 509.1,136.1 509.4,134.9 509.7,135.4 510.0,135.7 510.3,135.5 510.6,135.5 510.9,134.6 511.2,135.5 511.5,133.0 511.8,135.6 512.1,134.2 512.4,137.3 512.7,137.5 513.0,133.3 513.3,136.0 513.6,135.7 513.9,134.5 514.2,136.6 514.5,135.3 514.8,133.6 515.1,135.6 515.4,135.7 515.7,136.1 516.0,134.4 516.3,136.8 516.6,136.9 516.9,134.5 517.2,135.2 517.5,135.9 517.8,135.3 518.1,138.3 518.4,136.3 518.7,134.7 519.0,135.0 519.3,136.0 519.6,139.0 519.9,135.8 520.2,136.2 520.5,136.7 520.8,136.0 521.1,139.0 521.4,135.3 521.7,137.0 522.0,136.2 522.3,136.8 522.6,134.5 522.9,138.3 523.2,135.8 523.5,136.0 523.8,134.8 524.1,135.0 524.4,136.7 524.7,137.2 525.0,136.9 525.3,137.5 525.6,136.8 525.9,135.9 526.2,136.9 526.5,136.6 526.8,135.7 527.1,136.8 527.4,137.5 527.7,136.1 528.0,135.3 528.3,136.7 528.6,138.2 528.9,135.4 529.2,135.6 529.5,135.5 529.8,137.2 530.1,133.2 530.4,136.1 530.7,137.1 531.0,134.5 531.3,137.5 531.6,136.2 531.9,134.8 532.2,135.7 532.5,133.4 532.8,134.6 533.1,137.7 533.4,134.1 533.7,137.6 534.0,135.1 534.3,136.4 534.6,135.1 534.9,132.0 535.2,134.1 535.5,135.1 535.8,133.2 536.1,132.9 536.4,135.0 536.7,133.6 537.0,132.2 537.3,133.4 537.6,135.3 537.9,133.4 538.2,135.1 538.5,135.7 538.8,133.6 539.1,131.9 539.4,131.5 539.7,133.0 540.0,134.0 540.3,133.0 540.6,133.2 540.9,131.7 541.2,132.4 541.5,131.2 541.8,131.1 542.1,129.5 542.4,128.8 542.7,129.9 543.0,128.7 543.3,128.5 543.6,130.2 543.9,128.5 544.2,131.2 544.5,127.1 544.8,123.2 545.1,122.9 545.4,120.0 545.7,116.1 546.0,115.6 546.3,110.1 546.6,103.7 546.9,105.1 547.2,99.3 547.5,97.8 547.8,90.5 548.1,85.1 548.4,83.7 548.7,75.1 549.0,71.0 549.3,66.5 549.6,58.5 549.9,52.0 550.2,46.0 550.5,41.1 550.8,33.0 551.1,29.0 551.4,24.4 551.7,24.5 552.0,22.2 552.3,25.3 552.6,33.0 552.9,37.5 553.2,44.3 553.5,50.2 553.8,57.8 554.1,61.7 554.4,68.5 554.7,71.2 555.0,78.8 555.3,87.1 555.6,89.0 555.9,93.6 556.2,97.2 556.5,103.6 556.8,106.8 557.1,108.5 557.4,114.1 557.7,116.4 558.0,119.7 558.3,120.3 558.6,125.6 558.9,125.8 559.2,126.8 559.5,127.7 559.8,129.2 560.1,131.3 560.4,130.5 560.7,132.9 561.0,132.9 561.3,134.5 561.6,134.3 561.9,133.7 562.2,131.7 562.5,134.9 562.8,135.9 563.1,135.3 563.4,136.0 563.7,134.9 564.0,135.2 564.3,134.6 564.6,137.8 564.9,136.5 565.2,135.8 565.5,134.9 565.8,136.6 566.1,138.8 566.4,137.6 566.7,136.2 567.0,139.1 567.3,139.1 567.6,138.6 567.9,138.4 568.2,138.9 568.5,138.2 568.8,138.6 569.1,136.6 569.4,139.6 569.7,138.1 570.0,140.4 570.3,135.2 570.6,138.9 570.9,139.3 571.2,137.6 571.5,138.7 571.8,139.2 572.1,139.0 572.4,137.6 572.7,138.2 573.0,139.7 573.3,140.1 573.6,138.7 573.9,138.7 574.2,138.9 574.5,140.0 574.8,137.4 575.1,137.0 575.4,139.0 575.7,137.4 576.0,138.1 576.3,139.0 576.6,139.6 576.9,137.6 577.2,140.1 577.5,136.8 577.8,139.8 578.1,137.1 578.4,137.5 578.7,140.0 579.0,138.6 579.3,138.1 579.6,138.6 579.9,139.8 580.2,139.1 580.5,139.2 580.8,140.6 581.1,138.3 581.4,138.6 581.7,138.5 582.0,140.7 582.3,140.5 582.6,140.9 582.9,139.2 583.2,139.0 583.5,140.3 583.8,138.7 584.1,140.3 584.4,140.2 584.7,138.3 585.0,139.1 585.3,139.1 585.6,141.5 585.9,142.6 586.2,139.1 586.5,139.3 586.8,136.3 587.1,139.5 587.4,139.3 587.7,137.9 588.0,140.3 588.3,137.2 588.6,139.0 588.9,139.5 589.2,137.7 589.5,140.4 589.8,140.7 590.1,137.5 590.4,137.5 590.7,140.1 591.0,139.3 591.3,137.7 591.6,138.9 591.9,139.2 592.2,139.1 592.5,140.4 592.8,139.8 593.1,141.6 593.4,141.1 593.7,140.2 594.0,140.7 594.3,141.1 594.6,140.3 594.9,137.8 595.2,140.5 595.5,139.4 595.8,141.5 596.1,139.5 596.4,140.0 596.7,139.8 597.0,141.6 597.3,139.6 597.6,139.0 597.9,139.8 598.2,138.8 598.5,139.6 598.8,139.4 599.1,139.7 599.4,141.9 599.7,138.9 600.0,139.4 600.3,139.1 600.6,140.3 600.9,137.9 601.2,138.5 601.5,139.4 601.8,140.1 602.1,139.4 602.4,138.8 602.7,138.3 603.0,140.1 603.3,141.3 603.6,139.9 603.9,139.7 604.2,140.0 604.5,138.2 604.8,139.0 605.1,139.1 605.4,139.8 605.7,139.4 606.0,137.9 606.3,140.9 606.6,141.7 606.9,139.1 607.2,140.0 607.5,139.8 607.8,140.5 608.1,137.6 608.4,141.6 608.7,138.9 609.0,141.1 609.3,139.6 609.6,139.0 609.9,139.3 610.2,140.7 610.5,138.4 610.8,139.0 611.1,138.9 611.4,137.3 611.7,141.2 612.0,140.3 612.3,139.5 612.6,141.0 612.9,138.3 613.2,139.4 613.5,141.8 613.8,140.8 614.1,136.6 614.4,135.2 614.7,138.2 615.0,140.9 615.3,138.9 615.6,139.3 615.9,140.3 616.2,138.4 616.5,139.8 616.8,140.6 617.1,140.2 617.4,140.1 617.7,138.8 618.0,140.2 618.3,139.0 618.6,141.3 618.9,142.9 619.2,138.6 619.5,136.8 619.8,139.0 620.1,140.1 620.4,141.0 620.7,141.0 621.0,138.6 621.3,138.6 621.6,141.3 621.9,138.2 622.2,141.0 622.5,139.3 622.8,140.6 623.1,140.5 623.4,140.6 623.7,140.7 624.0,138.3 624.3,140.0 624.6,139.6 624.9,140.0 625.2,141.2 625.5,139.3 625.8,138.7 626.1,138.7 626.4,139.2 626.7,140.6 627.0,138.6 627.3,141.1 627.6,140.0 627.9,139.3 628.2,137.9 628.5,139.9 628.8,140.5 629.1,137.3 629.4,141.2 629.7,141.8 630.0,140.1 630.3,140.3 630.6,142.8 630.9,141.2 631.2,138.4 631.5,139.6 631.8,139.4 632.1,139.4 632.4,136.5 632.7,140.6 633.0,138.8 633.3,139.8 633.6,139.4 633.9,140.7 634.2,139.2 634.5,138.6 634.8,140.3 635.1,141.4 635.4,139.2 635.7,141.4 636.0,139.9 636.3,138.8 636.6,141.4 636.9,138.3 637.2,140.6 637.5,138.6 637.8,139.7 638.1,137.4 638.4,137.8 638.7,140.2 639.0,138.9 639.3,138.6 639.6,137.8 639.9,138.8 640.2,136.2 640.5,136.4 640.8,137.4 641.1,136.3 641.4,136.2 641.7,136.7 642.0,136.3 642.3,135.8 642.6,137.8 642.9,136.5 643.2,136.3 643.5,134.2 643.8,133.2 644.1,131.6 644.4,132.7 644.7,130.1 645.0,131.7 645.3,133.2 645.6,134.1 645.9,133.1 646.2,130.7 646.5,132.5 646.8,130.9 647.1,133.2 647.4,132.2 647.7,133.8 648.0,136.3 648.3,134.6 648.6,136.9 648.9,134.6 649.2,134.4 649.5,137.1 649.8,138.2 650.1,135.7 650.4,137.0 650.7,135.4 651.0,137.2 651.3,138.9 651.6,137.8 651.9,137.4 652.2,136.5 652.5,138.9 652.8,139.7 653.1,139.5 653.4,139.2 653.7,137.4 654.0,141.4 654.3,139.1 654.6,139.1 654.9,140.3 655.2,136.6 655.5,139.4 655.8,139.4 656.1,140.1 656.4,141.4 656.7,140.3 657.0,137.4 657.3,139.3 657.6,140.1 657.9,140.1 658.2,138.2 658.5,137.8 658.8,140.7 659.1,140.5 659.4,140.0 659.7,137.9 660.0,142.5 660.3,136.4 660.6,139.8 660.9,143.0 661.2,140.1 661.5,140.6 661.8,138.8 662.1,142.2 662.4,138.8 662.7,140.8 663.0,140.7 663.3,139.2 663.6,141.7 663.9,138.8 664.2,139.8 664.5,140.6 664.8,140.2 665.1,141.3 665.4,142.0 665.7,140.4 666.0,140.1 666.3,140.2 666.6,140.4 666.9,141.9 667.2,140.6 667.5,141.4 667.8,140.8 668.1,139.9 668.4,142.1 668.7,139.6 669.0,141.0 669.3,142.9 669.6,139.6 669.9,141.0 670.2,139.0 670.5,140.4 670.8,139.1 671.1,140.6 671.4,140.4 671.7,141.2 672.0,143.1 672.3,141.4 672.6,141.9 672.9,141.0 673.2,140.7 673.5,139.9 673.8,138.7 674.1,141.1 674.4,143.1 674.7,141.6 675.0,140.3 675.3,143.1 675.6,140.4 675.9,140.1 676.2,139.3 676.5,139.6 676.8,140.5 677.1,143.4 677.4,140.5 677.7,139.4 678.0,139.9 678.3,140.3" fill="none" stroke="#f6b515" stroke-width="2.1" stroke-linejoin="round" />
<path d="M549.6,23.5L554.2,23.5L551.9,19.3Z" fill="#3a9be8"/>
<path d="M643.9,129.8L648.5,129.8L646.2,125.6Z" fill="#3a9be8"/>
<text x="447.4" y="20.1" font-family='"Liberation Serif", serif' font-size="16.5" font-weight="bold" font-style="normal" fill="#151515" text-anchor="start" textLength="39.4" lengthAdjust="spacingAndGlyphs">(e) W</text>
<rect x="632.8" y="9.8" width="40.2" height="27.4" rx="1" fill="#fff" stroke="#6a6a6a" stroke-width="1.1"/>
<polygon points="640.40,14.20 641.25,16.24 643.44,16.41 641.77,17.84 642.28,19.99 640.40,18.84 638.52,19.99 639.03,17.84 637.36,16.41 639.55,16.24" fill="#3a9be8"/>
<path d="M638.3000000000001,28.6L640.6,26.3L642.9,28.6L640.6,30.900000000000002Z" fill="#18a055"/>
<text x="646.3" y="20.5" font-family='"Liberation Serif", serif' font-size="11.5" font-weight="bold" font-style="normal" fill="#151515" text-anchor="start" textLength="9.4" lengthAdjust="spacingAndGlyphs">W</text>
<text x="646.3" y="31.8" font-family='"Liberation Serif", serif' font-size="11.5" font-weight="bold" font-style="normal" fill="#151515" text-anchor="start" textLength="17.4" lengthAdjust="spacingAndGlyphs">WO</text>
<text x="663.8" y="34.0" font-family='"Liberation Serif", serif' font-size="7.5" font-weight="bold" font-style="normal" fill="#151515" text-anchor="start" textLength="3.8" lengthAdjust="spacingAndGlyphs">3</text>
<rect x="632.8" y="159.4" width="40.2" height="27.4" rx="1" fill="#fff" stroke="#6a6a6a" stroke-width="1.1"/>
<polygon points="640.40,163.80 641.25,165.84 643.44,166.01 641.77,167.44 642.28,169.59 640.40,168.44 638.52,169.59 639.03,167.44 637.36,166.01 639.55,165.84" fill="#3a9be8"/>
<path d="M638.3000000000001,178.2L640.6,175.89999999999998L642.9,178.2L640.6,180.5Z" fill="#18a055"/>
<text x="646.3" y="170.1" font-family='"Liberation Serif", serif' font-size="11.5" font-weight="bold" font-style="normal" fill="#151515" text-anchor="start" textLength="9.4" lengthAdjust="spacingAndGlyphs">W</text>
<text x="646.3" y="181.4" font-family='"Liberation Serif", serif' font-size="11.5" font-weight="bold" font-style="normal" fill="#151515" text-anchor="start" textLength="17.4" lengthAdjust="spacingAndGlyphs">WO</text>
<text x="663.8" y="183.6" font-family='"Liberation Serif", serif' font-size="7.5" font-weight="bold" font-style="normal" fill="#151515" text-anchor="start" textLength="3.8" lengthAdjust="spacingAndGlyphs">3</text>
<polygon points="536.60,11.00 537.39,12.91 539.45,13.07 537.88,14.42 538.36,16.43 536.60,15.35 534.84,16.43 535.32,14.42 533.75,13.07 535.81,12.91" fill="#3a9be8"/>
<text x="540.8" y="17.8" font-family='"Liberation Serif", serif' font-size="11.5" font-weight="bold" font-style="italic" fill="#3a9be8" text-anchor="start" textLength="21.8" lengthAdjust="spacingAndGlyphs">(110)</text>
<polygon points="631.30,116.20 632.09,118.11 634.15,118.27 632.58,119.62 633.06,121.63 631.30,120.55 629.54,121.63 630.02,119.62 628.45,118.27 630.51,118.11" fill="#3a9be8"/>
<text x="636.1" y="123.0" font-family='"Liberation Serif", serif' font-size="11.5" font-weight="bold" font-style="italic" fill="#3a9be8" text-anchor="start" textLength="22.0" lengthAdjust="spacingAndGlyphs">(200)</text>
<line x1="463.9" y1="207" x2="463.9" y2="303" stroke="#9ed8bd" stroke-width="0.8"/>
<line x1="515.2" y1="264" x2="515.2" y2="303" stroke="#9ed8bd" stroke-width="0.8"/>
<line x1="554.6" y1="283" x2="554.6" y2="303" stroke="#a6d2f2" stroke-width="0.8"/>
<line x1="590.8" y1="283" x2="590.8" y2="303" stroke="#9ed8bd" stroke-width="0.8"/>
<line x1="621.6" y1="282" x2="621.6" y2="303" stroke="#9ed8bd" stroke-width="0.8"/>
<line x1="647.3" y1="283" x2="647.3" y2="303" stroke="#a6d2f2" stroke-width="0.8"/>
<path d="M445.5,269.2 445.8,271.7 446.1,272.4 446.4,271.8 446.7,272.1 447.0,269.3 447.3,268.6 447.6,272.7 447.9,272.2 448.2,268.4 448.5,270.7 448.8,270.2 449.1,270.8 449.4,270.1 449.7,268.9 450.0,269.7 450.3,269.4 450.6,268.8 450.9,266.0 451.2,264.1 451.5,266.8 451.8,265.3 452.1,267.6 452.4,267.8 452.7,266.8 453.0,265.5 453.3,265.6 453.6,266.6 453.9,263.3 454.2,265.0 454.5,263.9 454.8,262.5 455.1,263.4 455.4,259.5 455.7,260.9 456.0,257.3 456.3,256.5 456.6,255.0 456.9,255.9 457.2,252.7 457.5,252.7 457.8,249.6 458.1,251.1 458.4,250.6 458.7,246.6 459.0,246.7 459.3,243.3 459.6,243.5 459.9,238.4 460.2,233.9 460.5,235.9 460.8,231.4 461.1,227.7 461.4,225.8 461.7,221.8 462.0,221.0 462.3,216.9 462.6,217.6 462.9,213.8 463.2,208.0 463.5,206.2 463.8,206.2 464.1,204.1 464.4,207.6 464.7,209.5 465.0,210.9 465.3,214.0 465.6,218.4 465.9,222.7 466.2,225.8 466.5,226.6 466.8,230.4 467.1,230.6 467.4,234.7 467.7,235.2 468.0,239.9 468.3,239.4 468.6,241.9 468.9,245.2 469.2,247.8 469.5,246.6 469.8,249.3 470.1,251.5 470.4,252.9 470.7,252.6 471.0,255.0 471.3,255.5 471.6,258.7 471.9,258.4 472.2,256.6 472.5,256.1 472.8,259.9 473.1,262.0 473.4,261.1 473.7,262.6 474.0,261.0 474.3,260.2 474.6,263.5 474.9,263.0 475.2,264.2 475.5,261.7 475.8,264.2 476.1,263.4 476.4,265.8 476.7,264.2 477.0,264.5 477.3,264.9 477.6,267.8 477.9,266.4 478.2,265.6 478.5,265.6 478.8,265.9 479.1,269.7 479.4,265.4 479.7,267.0 480.0,269.3 480.3,270.3 480.6,268.7 480.9,270.2 481.2,270.4 481.5,270.9 481.8,269.8 482.1,272.3 482.4,270.5 482.7,272.5 483.0,269.1 483.3,272.1 483.6,269.2 483.9,269.1 484.2,272.1 484.5,270.5 484.8,272.4 485.1,270.5 485.4,274.5 485.7,272.4 486.0,271.0 486.3,273.0 486.6,274.2 486.9,272.1 487.2,274.1 487.5,276.4 487.8,274.9 488.1,273.8 488.4,273.2 488.7,275.0 489.0,272.2 489.3,270.3 489.6,273.7 489.9,273.3 490.2,277.4 490.5,275.3 490.8,273.9 491.1,273.8 491.4,276.2 491.7,274.5 492.0,275.0 492.3,275.8 492.6,276.1 492.9,276.3 493.2,276.4 493.5,278.2 493.8,278.8 494.1,274.2 494.4,280.2 494.7,276.9 495.0,278.6 495.3,275.9 495.6,277.4 495.9,277.4 496.2,277.3 496.5,278.4 496.8,278.1 497.1,275.9 497.4,277.2 497.7,278.5 498.0,278.5 498.3,277.1 498.6,277.2 498.9,277.4 499.2,276.1 499.5,275.9 499.8,279.9 500.1,277.1 500.4,277.8 500.7,276.6 501.0,279.5 501.3,280.1 501.6,277.3 501.9,278.2 502.2,276.4 502.5,279.8 502.8,278.6 503.1,276.0 503.4,278.8 503.7,277.4 504.0,277.4 504.3,277.1 504.6,275.5 504.9,275.5 505.2,276.9 505.5,275.7 505.8,274.2 506.1,278.1 506.4,274.7 506.7,273.9 507.0,273.4 507.3,275.0 507.6,275.1 507.9,273.7 508.2,274.2 508.5,270.6 508.8,271.8 509.1,271.3 509.4,271.6 509.7,271.8 510.0,267.9 510.3,274.7 510.6,268.7 510.9,270.0 511.2,270.3 511.5,269.9 511.8,268.6 512.1,263.8 512.4,266.0 512.7,268.1 513.0,265.3 513.3,264.6 513.6,262.3 513.9,266.9 514.2,265.4 514.5,263.0 514.8,263.7 515.1,263.4 515.4,261.8 515.7,263.1 516.0,264.3 516.3,265.3 516.6,267.0 516.9,265.9 517.2,265.7 517.5,267.5 517.8,266.6 518.1,266.4 518.4,270.3 518.7,268.7 519.0,269.9 519.3,271.1 519.6,269.0 519.9,271.8 520.2,271.8 520.5,271.4 520.8,272.4 521.1,271.1 521.4,269.3 521.7,272.3 522.0,271.7 522.3,274.4 522.6,273.8 522.9,272.9 523.2,274.0 523.5,276.1 523.8,276.0 524.1,275.1 524.4,275.4 524.7,274.7 525.0,275.1 525.3,276.3 525.6,275.5 525.9,276.3 526.2,274.6 526.5,274.0 526.8,274.2 527.1,276.2 527.4,278.9 527.7,278.9 528.0,276.1 528.3,275.5 528.6,279.0 528.9,278.8 529.2,276.4 529.5,280.1 529.8,279.0 530.1,280.9 530.4,279.7 530.7,280.7 531.0,280.1 531.3,278.5 531.6,279.7 531.9,279.3 532.2,281.6 532.5,279.2 532.8,278.6 533.1,281.9 533.4,282.7 533.7,283.3 534.0,282.9 534.3,279.4 534.6,280.7 534.9,281.0 535.2,281.9 535.5,279.0 535.8,282.1 536.1,282.6 536.4,281.0 536.7,282.6 537.0,284.2 537.3,282.6 537.6,284.1 537.9,284.1 538.2,283.3 538.5,283.3 538.8,282.3 539.1,284.6 539.4,282.3 539.7,282.0 540.0,284.0 540.3,282.0 540.6,283.6 540.9,284.5 541.2,283.1 541.5,283.2 541.8,284.3 542.1,284.1 542.4,280.9 542.7,281.2 543.0,284.9 543.3,283.6 543.6,280.1 543.9,281.1 544.2,283.0 544.5,281.6 544.8,283.6 545.1,283.0 545.4,283.6 545.7,281.2 546.0,283.7 546.3,285.6 546.6,281.7 546.9,284.6 547.2,284.1 547.5,283.6 547.8,282.6 548.1,281.0 548.4,281.4 548.7,283.7 549.0,283.9 549.3,284.2 549.6,283.8 549.9,283.7 550.2,281.8 550.5,280.7 550.8,282.6 551.1,282.9 551.4,282.2 551.7,279.9 552.0,281.2 552.3,279.7 552.6,281.9 552.9,280.2 553.2,281.3 553.5,281.9 553.8,281.6 554.1,283.3 554.4,279.9 554.7,278.4 555.0,282.8 555.3,283.6 555.6,283.8 555.9,282.3 556.2,282.9 556.5,282.5 556.8,280.7 557.1,281.9 557.4,283.6 557.7,282.3 558.0,285.9 558.3,281.2 558.6,282.9 558.9,285.2 559.2,282.9 559.5,282.3 559.8,282.1 560.1,283.1 560.4,286.4 560.7,284.9 561.0,285.2 561.3,283.9 561.6,285.9 561.9,285.0 562.2,283.6 562.5,284.4 562.8,285.4 563.1,286.9 563.4,285.2 563.7,286.1 564.0,288.3 564.3,284.4 564.6,283.9 564.9,287.0 565.2,286.3 565.5,285.6 565.8,286.2 566.1,285.4 566.4,286.6 566.7,285.4 567.0,287.1 567.3,284.3 567.6,284.9 567.9,286.2 568.2,285.4 568.5,287.0 568.8,286.0 569.1,285.3 569.4,286.4 569.7,285.4 570.0,283.9 570.3,284.5 570.6,285.0 570.9,285.4 571.2,286.2 571.5,287.3 571.8,286.8 572.1,288.5 572.4,287.7 572.7,285.7 573.0,288.2 573.3,287.5 573.6,285.2 573.9,286.2 574.2,287.2 574.5,286.0 574.8,287.0 575.1,286.1 575.4,286.4 575.7,284.9 576.0,285.8 576.3,284.7 576.6,286.1 576.9,282.7 577.2,285.4 577.5,286.6 577.8,285.6 578.1,284.7 578.4,285.4 578.7,283.4 579.0,283.3 579.3,283.9 579.6,284.1 579.9,285.6 580.2,282.9 580.5,285.5 580.8,281.8 581.1,282.8 581.4,283.7 581.7,285.3 582.0,282.8 582.3,280.5 582.6,284.0 582.9,283.3 583.2,281.8 583.5,281.7 583.8,282.1 584.1,283.2 584.4,283.9 584.7,280.8 585.0,286.0 585.3,282.6 585.6,282.1 585.9,283.4 586.2,282.6 586.5,285.6 586.8,283.8 587.1,281.6 587.4,281.5 587.7,281.2 588.0,281.4 588.3,282.7 588.6,280.8 588.9,283.8 589.2,281.4 589.5,281.2 589.8,282.7 590.1,278.5 590.4,279.9 590.7,281.9 591.0,281.0 591.3,281.0 591.6,281.6 591.9,280.3 592.2,281.0 592.5,279.5 592.8,278.9 593.1,283.5 593.4,280.6 593.7,281.1 594.0,284.3 594.3,284.0 594.6,282.0 594.9,282.2 595.2,283.0 595.5,281.9 595.8,284.2 596.1,283.7 596.4,283.7 596.7,284.7 597.0,284.7 597.3,286.4 597.6,286.0 597.9,281.5 598.2,285.2 598.5,282.5 598.8,282.1 599.1,285.2 599.4,283.2 599.7,283.8 600.0,285.8 600.3,283.5 600.6,283.2 600.9,284.9 601.2,286.2 601.5,285.3 601.8,282.4 602.1,283.7 602.4,284.4 602.7,287.3 603.0,285.9 603.3,285.8 603.6,286.3 603.9,284.2 604.2,285.4 604.5,285.4 604.8,283.3 605.1,284.7 605.4,285.5 605.7,283.2 606.0,285.8 606.3,285.7 606.6,286.1 606.9,283.6 607.2,284.8 607.5,286.6 607.8,285.7 608.1,283.5 608.4,284.8 608.7,286.5 609.0,284.3 609.3,284.9 609.6,288.0 609.9,284.3 610.2,284.1 610.5,282.8 610.8,283.2 611.1,286.2 611.4,283.8 611.7,282.3 612.0,282.6 612.3,283.8 612.6,284.8 612.9,282.6 613.2,284.5 613.5,282.8 613.8,283.8 614.1,283.9 614.4,283.9 614.7,282.3 615.0,282.5 615.3,283.3 615.6,280.6 615.9,282.4 616.2,282.7 616.5,283.3 616.8,281.6 617.1,281.2 617.4,281.5 617.7,280.1 618.0,280.7 618.3,281.4 618.6,281.1 618.9,279.1 619.2,280.0 619.5,277.4 619.8,281.4 620.1,279.4 620.4,280.4 620.7,278.5 621.0,279.9 621.3,280.6 621.6,281.4 621.9,278.1 622.2,281.3 622.5,280.0 622.8,279.3 623.1,281.2 623.4,280.3 623.7,280.4 624.0,280.0 624.3,281.5 624.6,281.4 624.9,281.3 625.2,280.3 625.5,281.1 625.8,282.5 626.1,283.8 626.4,282.0 626.7,284.1 627.0,282.2 627.3,280.8 627.6,283.3 627.9,281.1 628.2,283.1 628.5,284.1 628.8,282.3 629.1,282.7 629.4,286.3 629.7,283.3 630.0,283.4 630.3,284.2 630.6,283.0 630.9,283.1 631.2,283.8 631.5,279.9 631.8,285.3 632.1,281.9 632.4,281.9 632.7,284.2 633.0,283.5 633.3,281.8 633.6,283.8 633.9,282.0 634.2,282.6 634.5,281.5 634.8,282.5 635.1,284.2 635.4,283.8 635.7,284.1 636.0,285.0 636.3,283.7 636.6,282.8 636.9,283.4 637.2,286.1 637.5,283.8 637.8,284.2 638.1,283.7 638.4,284.2 638.7,284.4 639.0,283.8 639.3,283.6 639.6,282.8 639.9,282.7 640.2,284.5 640.5,285.0 640.8,285.2 641.1,284.0 641.4,282.8 641.7,284.8 642.0,284.8 642.3,281.9 642.6,285.1 642.9,284.8 643.2,286.4 643.5,282.5 643.8,282.3 644.1,285.2 644.4,281.6 644.7,283.2 645.0,282.7 645.3,282.8 645.6,281.6 645.9,284.0 646.2,285.7 646.5,285.0 646.8,285.0 647.1,284.0 647.4,286.5 647.7,285.3 648.0,286.1 648.3,282.5 648.6,285.2 648.9,283.1 649.2,285.3 649.5,285.1 649.8,283.3 650.1,285.2 650.4,286.6 650.7,285.8 651.0,285.9 651.3,284.0 651.6,284.3 651.9,283.7 652.2,285.5 652.5,287.1 652.8,286.1 653.1,285.5 653.4,284.0 653.7,286.3 654.0,285.4 654.3,283.1 654.6,283.4 654.9,285.4 655.2,284.7 655.5,288.3 655.8,286.1 656.1,284.7 656.4,285.5 656.7,288.5 657.0,285.0 657.3,287.4 657.6,287.0 657.9,288.5 658.2,287.2 658.5,286.0 658.8,287.3 659.1,286.7 659.4,288.0 659.7,286.6 660.0,289.5 660.3,286.7 660.6,287.5 660.9,286.0 661.2,287.1 661.5,287.0 661.8,287.3 662.1,288.3 662.4,286.4 662.7,286.0 663.0,288.7 663.3,286.8 663.6,286.3 663.9,288.9 664.2,288.4 664.5,283.7 664.8,286.9 665.1,288.6 665.4,288.7 665.7,286.8 666.0,289.8 666.3,286.5 666.6,287.3 666.9,287.9 667.2,287.7 667.5,288.9 667.8,289.2 668.1,287.8 668.4,289.8 668.7,286.9 669.0,287.6 669.3,290.4 669.6,288.1 669.9,289.5 670.2,287.5 670.5,287.7 670.8,288.0 671.1,288.4 671.4,287.7 671.7,288.2 672.0,289.2 672.3,290.0 672.6,288.5 672.9,289.2 673.2,289.6 673.5,286.9 673.8,286.2 674.1,290.7 674.4,290.3 674.7,288.6 675.0,289.0 675.3,287.2 675.6,286.6 675.9,289.0 676.2,286.5 676.5,289.9 676.8,287.7 677.1,289.0 677.4,291.3 677.7,291.3 678.0,288.3 678.3,290.1" fill="none" stroke="#f6b515" stroke-width="2.1" stroke-linejoin="round" />
<path d="M461.59999999999997,207.1L466.2,207.1L463.9,202.9Z" fill="#18a055"/>
<path d="M512.9000000000001,263.70000000000005L517.5,263.70000000000005L515.2,259.5Z" fill="#18a055"/>
<path d="M552.3000000000001,282.1L556.9,282.1L554.6,277.9Z" fill="#3a9be8"/>
<path d="M588.5,281.5L593.0999999999999,281.5L590.8,277.29999999999995Z" fill="#18a055"/>
<path d="M619.3000000000001,280.5L623.9,280.5L621.6,276.29999999999995Z" fill="#18a055"/>
<path d="M645.0,282.5L649.5999999999999,282.5L647.3,278.29999999999995Z" fill="#3a9be8"/>
<text x="447.3" y="171.8" font-family='"Liberation Serif", serif' font-size="16.5" font-weight="bold" font-style="normal" fill="#151515" text-anchor="start" textLength="51.0" lengthAdjust="spacingAndGlyphs">(f) WO</text>
<text x="497.6" y="175.6" font-family='"Liberation Serif", serif' font-size="11" font-weight="bold" font-style="normal" fill="#151515" text-anchor="start" textLength="6.2" lengthAdjust="spacingAndGlyphs">x</text>
<text x="454.0" y="202.2" font-family='"Liberation Serif", serif' font-size="11.5" font-weight="bold" font-style="italic" fill="#18a055" text-anchor="start" textLength="21.6" lengthAdjust="spacingAndGlyphs">(110)</text>
<path d="M476.5,198.3L478.6,196.20000000000002L480.70000000000005,198.3L478.6,200.4Z" fill="#18a055"/>
<path d="M498.29999999999995,253.4L500.4,251.3L502.5,253.4L500.4,255.5Z" fill="#18a055"/>
<text x="504.4" y="257.2" font-family='"Liberation Serif", serif' font-size="11.5" font-weight="bold" font-style="italic" fill="#18a055" text-anchor="start" textLength="22.0" lengthAdjust="spacingAndGlyphs">(111)</text>
<polygon points="540.60,268.40 541.39,270.31 543.45,270.47 541.88,271.82 542.36,273.83 540.60,272.75 538.84,273.83 539.32,271.82 537.75,270.47 539.81,270.31" fill="#3a9be8"/>
<text x="544.5" y="275.2" font-family='"Liberation Serif", serif' font-size="11.5" font-weight="bold" font-style="italic" fill="#3a9be8" text-anchor="start" textLength="21.2" lengthAdjust="spacingAndGlyphs">(110)</text>
<path d="M575.1,271.4L577.2,269.29999999999995L579.3000000000001,271.4L577.2,273.5Z" fill="#18a055"/>
<text x="580.7" y="275.2" font-family='"Liberation Serif", serif' font-size="11.5" font-weight="bold" font-style="italic" fill="#18a055" text-anchor="start" textLength="21.2" lengthAdjust="spacingAndGlyphs">(111)</text>
<path d="M605.5,271.4L607.6,269.29999999999995L609.7,271.4L607.6,273.5Z" fill="#18a055"/>
<text x="611.1" y="275.2" font-family='"Liberation Serif", serif' font-size="11.5" font-weight="bold" font-style="italic" fill="#18a055" text-anchor="start" textLength="22.2" lengthAdjust="spacingAndGlyphs">(221)</text>
<text x="637.3" y="275.2" font-family='"Liberation Serif", serif' font-size="11.5" font-weight="bold" font-style="italic" fill="#3a9be8" text-anchor="start" textLength="21.7" lengthAdjust="spacingAndGlyphs">(200)</text>
<polygon points="662.50,268.40 663.29,270.31 665.35,270.47 663.78,271.82 664.26,273.83 662.50,272.75 660.74,273.83 661.22,271.82 659.65,270.47 661.71,270.31" fill="#3a9be8"/>
<rect x="30.8" y="3.9" width="365.7" height="300.1" fill="none" stroke="#262626" stroke-width="1.9"/>
<line x1="213.6" y1="3.9" x2="213.6" y2="304.0" stroke="#262626" stroke-width="1.9" />
<line x1="30.8" y1="153.9" x2="396.5" y2="153.9" stroke="#262626" stroke-width="1.9" />
<rect x="444.3" y="3.9" width="235.0" height="300.1" fill="none" stroke="#262626" stroke-width="1.9"/>
<line x1="444.3" y1="153.9" x2="679.3" y2="153.9" stroke="#262626" stroke-width="1.9" />
<line x1="42.1" y1="153.9" x2="42.1" y2="150.7" stroke="#262626" stroke-width="1.3" />
<line x1="87.8" y1="153.9" x2="87.8" y2="150.7" stroke="#262626" stroke-width="1.3" />
<line x1="133.5" y1="153.9" x2="133.5" y2="150.7" stroke="#262626" stroke-width="1.3" />
<line x1="179.2" y1="153.9" x2="179.2" y2="150.7" stroke="#262626" stroke-width="1.3" />
<line x1="232.1" y1="153.9" x2="232.1" y2="150.7" stroke="#262626" stroke-width="1.3" />
<line x1="268.7" y1="153.9" x2="268.7" y2="150.7" stroke="#262626" stroke-width="1.3" />
<line x1="305.3" y1="153.9" x2="305.3" y2="150.7" stroke="#262626" stroke-width="1.3" />
<line x1="341.9" y1="153.9" x2="341.9" y2="150.7" stroke="#262626" stroke-width="1.3" />
<line x1="378.5" y1="153.9" x2="378.5" y2="150.7" stroke="#262626" stroke-width="1.3" />
<line x1="496.6" y1="153.9" x2="496.6" y2="150.7" stroke="#262626" stroke-width="1.3" />
<line x1="548.8" y1="153.9" x2="548.8" y2="150.7" stroke="#262626" stroke-width="1.3" />
<line x1="601.0" y1="153.9" x2="601.0" y2="150.7" stroke="#262626" stroke-width="1.3" />
<line x1="653.3" y1="153.9" x2="653.3" y2="150.7" stroke="#262626" stroke-width="1.3" />
<line x1="42.1" y1="304.0" x2="42.1" y2="300.8" stroke="#262626" stroke-width="1.3" />
<line x1="87.8" y1="304.0" x2="87.8" y2="300.8" stroke="#262626" stroke-width="1.3" />
<line x1="133.5" y1="304.0" x2="133.5" y2="300.8" stroke="#262626" stroke-width="1.3" />
<line x1="179.2" y1="304.0" x2="179.2" y2="300.8" stroke="#262626" stroke-width="1.3" />
<line x1="232.1" y1="304.0" x2="232.1" y2="300.8" stroke="#262626" stroke-width="1.3" />
<line x1="268.7" y1="304.0" x2="268.7" y2="300.8" stroke="#262626" stroke-width="1.3" />
<line x1="305.3" y1="304.0" x2="305.3" y2="300.8" stroke="#262626" stroke-width="1.3" />
<line x1="341.9" y1="304.0" x2="341.9" y2="300.8" stroke="#262626" stroke-width="1.3" />
<line x1="378.5" y1="304.0" x2="378.5" y2="300.8" stroke="#262626" stroke-width="1.3" />
<line x1="496.6" y1="304.0" x2="496.6" y2="300.8" stroke="#262626" stroke-width="1.3" />
<line x1="548.8" y1="304.0" x2="548.8" y2="300.8" stroke="#262626" stroke-width="1.3" />
<line x1="601.0" y1="304.0" x2="601.0" y2="300.8" stroke="#262626" stroke-width="1.3" />
<line x1="653.3" y1="304.0" x2="653.3" y2="300.8" stroke="#262626" stroke-width="1.3" />
<text x="42.2" y="318.2" font-family='"Liberation Sans", sans-serif' font-size="14" font-weight="bold" font-style="normal" fill="#000" text-anchor="middle" >22</text>
<text x="87.9" y="318.2" font-family='"Liberation Sans", sans-serif' font-size="14" font-weight="bold" font-style="normal" fill="#000" text-anchor="middle" >20</text>
<text x="133.6" y="318.2" font-family='"Liberation Sans", sans-serif' font-size="14" font-weight="bold" font-style="normal" fill="#000" text-anchor="middle" >18</text>
<text x="179.3" y="318.2" font-family='"Liberation Sans", sans-serif' font-size="14" font-weight="bold" font-style="normal" fill="#000" text-anchor="middle" >16</text>
<text x="232.1" y="318.2" font-family='"Liberation Sans", sans-serif' font-size="14" font-weight="bold" font-style="normal" fill="#000" text-anchor="middle" >38</text>
<text x="268.7" y="318.2" font-family='"Liberation Sans", sans-serif' font-size="14" font-weight="bold" font-style="normal" fill="#000" text-anchor="middle" >36</text>
<text x="305.3" y="318.2" font-family='"Liberation Sans", sans-serif' font-size="14" font-weight="bold" font-style="normal" fill="#000" text-anchor="middle" >34</text>
<text x="341.9" y="318.2" font-family='"Liberation Sans", sans-serif' font-size="14" font-weight="bold" font-style="normal" fill="#000" text-anchor="middle" >32</text>
<text x="378.5" y="318.2" font-family='"Liberation Sans", sans-serif' font-size="14" font-weight="bold" font-style="normal" fill="#000" text-anchor="middle" >30</text>
<text x="444.3" y="321.2" font-family='"Liberation Sans", sans-serif' font-size="17" font-weight="bold" font-style="normal" fill="#000" text-anchor="middle" >20</text>
<text x="496.6" y="321.2" font-family='"Liberation Sans", sans-serif' font-size="17" font-weight="bold" font-style="normal" fill="#000" text-anchor="middle" >30</text>
<text x="548.8" y="321.2" font-family='"Liberation Sans", sans-serif' font-size="17" font-weight="bold" font-style="normal" fill="#000" text-anchor="middle" >40</text>
<text x="601.0" y="321.2" font-family='"Liberation Sans", sans-serif' font-size="17" font-weight="bold" font-style="normal" fill="#000" text-anchor="middle" >50</text>
<text x="653.3" y="321.2" font-family='"Liberation Sans", sans-serif' font-size="17" font-weight="bold" font-style="normal" fill="#000" text-anchor="middle" >60</text>
<text x="116.3" y="341.3" font-family='"Liberation Sans", sans-serif' font-size="21.5" font-weight="bold" font-style="normal" fill="#000" text-anchor="start" textLength="204.6" lengthAdjust="spacingAndGlyphs" >Binding Energy [eV]</text>
<text x="0.0" y="0.0" font-family='"Liberation Sans", sans-serif' font-size="21" font-weight="bold" font-style="normal" fill="#000" text-anchor="start" textLength="142.0" lengthAdjust="spacingAndGlyphs" transform="translate(17.2,247.8) rotate(-90)">Intensity [a.u.]</text>
<text x="0.0" y="0.0" font-family='"Liberation Sans", sans-serif' font-size="21" font-weight="bold" font-style="normal" fill="#000" text-anchor="start" textLength="142.0" lengthAdjust="spacingAndGlyphs" transform="translate(432.6,247.1) rotate(-90)">Intensity [a.u.]</text>
<text x="500.4" y="340.6" font-family='"Liberation Sans", sans-serif' font-size="18.5" font-weight="bold" font-style="normal" fill="#000" text-anchor="start" >2</text>
<text x="0.0" y="0.0" font-family='"Liberation Serif", serif' font-size="19.5" font-weight="normal" font-style="italic" fill="#000" text-anchor="start" transform="translate(513.2,340.4) scale(1.3,1)">θ</text>
<text x="527.4" y="340.6" font-family='"Liberation Sans", sans-serif' font-size="18.5" font-weight="bold" font-style="normal" fill="#000" text-anchor="start" textLength="97.8" lengthAdjust="spacingAndGlyphs" >[degrees]</text>
<rect x="683.5" y="346.5" width="1.5" height="4.5" fill="#111"/>
</svg>
</body></html>
